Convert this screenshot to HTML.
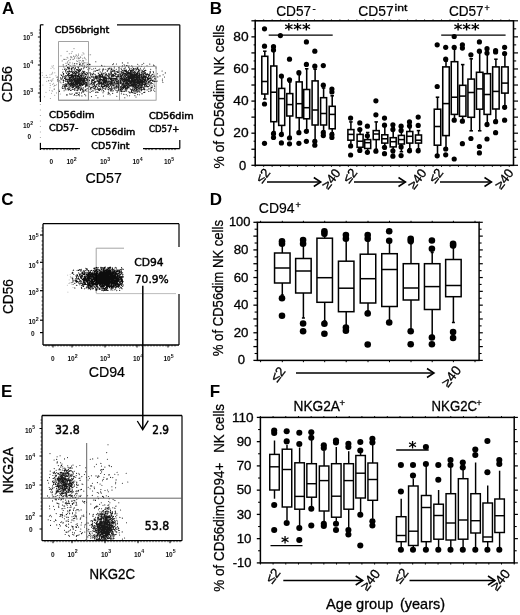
<!DOCTYPE html>
<html><head><meta charset="utf-8"><title>Figure</title>
<style>html,body{margin:0;padding:0;background:#fff}svg{display:block;font-family:'Liberation Sans', 'DejaVu Sans', sans-serif}</style>
</head><body>
<svg width="520" height="615" viewBox="0 0 520 615">
<defs><filter id="soft" x="0" y="0" width="520" height="615" filterUnits="userSpaceOnUse"><feGaussianBlur stdDeviation="0.35"/></filter></defs>
<rect width="520" height="615" fill="#fff"/>
<g filter="url(#soft)">
<text x="2.1" y="13.5" font-size="17" font-weight="bold" text-anchor="start" fill="#000">A</text>
<text x="209.8" y="13.5" font-size="17" font-weight="bold" text-anchor="start" fill="#000">B</text>
<text x="1.3" y="205.3" font-size="17" font-weight="bold" text-anchor="start" fill="#000">C</text>
<text x="209.8" y="205" font-size="17" font-weight="bold" text-anchor="start" fill="#000">D</text>
<text x="0.9" y="396.6" font-size="17" font-weight="bold" text-anchor="start" fill="#000">E</text>
<text x="209.8" y="396.6" font-size="17" font-weight="bold" text-anchor="start" fill="#000">F</text>
<line x1="40.4" y1="24.8" x2="40.4" y2="102" stroke="#000" stroke-width="1.2" />
<line x1="40.4" y1="24.8" x2="43.5" y2="24.8" stroke="#000" stroke-width="1.2" />
<line x1="40.4" y1="104" x2="40.4" y2="148.6" stroke="#aaa" stroke-width="1.0" stroke-dasharray="1 4.5"/>
<line x1="117" y1="24.8" x2="179.8" y2="24.8" stroke="#000" stroke-width="1.2" />
<line x1="179.8" y1="24.8" x2="179.8" y2="101" stroke="#000" stroke-width="1.2" />
<line x1="179.8" y1="140" x2="179.8" y2="148.6" stroke="#000" stroke-width="1.2" />
<line x1="40.4" y1="148.6" x2="80" y2="148.6" stroke="#000" stroke-width="1.2" />
<line x1="143" y1="148.6" x2="179.8" y2="148.6" stroke="#000" stroke-width="1.2" />
<line x1="40.4" y1="143" x2="40.4" y2="150.1" stroke="#000" stroke-width="1.2" />
<line x1="44" y1="148.6" x2="44" y2="150.1" stroke="#000" stroke-width="0.8" />
<line x1="47" y1="148.6" x2="47" y2="150.1" stroke="#000" stroke-width="0.8" />
<line x1="50" y1="148.6" x2="50" y2="150.1" stroke="#000" stroke-width="0.8" />
<line x1="53" y1="148.6" x2="53" y2="150.1" stroke="#000" stroke-width="0.8" />
<line x1="57" y1="148.6" x2="57" y2="150.1" stroke="#000" stroke-width="0.8" />
<line x1="61" y1="148.6" x2="61" y2="150.1" stroke="#000" stroke-width="0.8" />
<line x1="64" y1="148.6" x2="64" y2="150.1" stroke="#000" stroke-width="0.8" />
<line x1="67" y1="148.6" x2="67" y2="150.1" stroke="#000" stroke-width="0.8" />
<line x1="70" y1="148.6" x2="70" y2="150.1" stroke="#000" stroke-width="0.8" />
<line x1="73" y1="148.6" x2="73" y2="150.1" stroke="#000" stroke-width="0.8" />
<line x1="76" y1="148.6" x2="76" y2="150.1" stroke="#000" stroke-width="0.8" />
<line x1="146" y1="148.6" x2="146" y2="150.1" stroke="#000" stroke-width="0.8" />
<line x1="149" y1="148.6" x2="149" y2="150.1" stroke="#000" stroke-width="0.8" />
<line x1="152" y1="148.6" x2="152" y2="150.1" stroke="#000" stroke-width="0.8" />
<line x1="156" y1="148.6" x2="156" y2="150.1" stroke="#000" stroke-width="0.8" />
<line x1="160" y1="148.6" x2="160" y2="150.1" stroke="#000" stroke-width="0.8" />
<line x1="163" y1="148.6" x2="163" y2="150.1" stroke="#000" stroke-width="0.8" />
<line x1="166" y1="148.6" x2="166" y2="150.1" stroke="#000" stroke-width="0.8" />
<line x1="169" y1="148.6" x2="169" y2="150.1" stroke="#000" stroke-width="0.8" />
<line x1="172" y1="148.6" x2="172" y2="150.1" stroke="#000" stroke-width="0.8" />
<line x1="175" y1="148.6" x2="175" y2="150.1" stroke="#000" stroke-width="0.8" />
<line x1="37.9" y1="37" x2="40.4" y2="37" stroke="#000" stroke-width="1" />
<line x1="37.9" y1="65" x2="40.4" y2="65" stroke="#000" stroke-width="1" />
<line x1="37.9" y1="93" x2="40.4" y2="93" stroke="#000" stroke-width="1" />
<line x1="38.9" y1="30" x2="40.4" y2="30" stroke="#000" stroke-width="0.7" />
<line x1="38.9" y1="33" x2="40.4" y2="33" stroke="#000" stroke-width="0.7" />
<line x1="38.9" y1="42" x2="40.4" y2="42" stroke="#000" stroke-width="0.7" />
<line x1="38.9" y1="46" x2="40.4" y2="46" stroke="#000" stroke-width="0.7" />
<line x1="38.9" y1="50" x2="40.4" y2="50" stroke="#000" stroke-width="0.7" />
<line x1="38.9" y1="54" x2="40.4" y2="54" stroke="#000" stroke-width="0.7" />
<line x1="38.9" y1="58" x2="40.4" y2="58" stroke="#000" stroke-width="0.7" />
<line x1="38.9" y1="61" x2="40.4" y2="61" stroke="#000" stroke-width="0.7" />
<line x1="38.9" y1="70" x2="40.4" y2="70" stroke="#000" stroke-width="0.7" />
<line x1="38.9" y1="74" x2="40.4" y2="74" stroke="#000" stroke-width="0.7" />
<line x1="38.9" y1="78" x2="40.4" y2="78" stroke="#000" stroke-width="0.7" />
<line x1="38.9" y1="82" x2="40.4" y2="82" stroke="#000" stroke-width="0.7" />
<line x1="38.9" y1="86" x2="40.4" y2="86" stroke="#000" stroke-width="0.7" />
<line x1="38.9" y1="89" x2="40.4" y2="89" stroke="#000" stroke-width="0.7" />
<line x1="38.9" y1="97" x2="40.4" y2="97" stroke="#000" stroke-width="0.7" />
<text x="23" y="39.5" font-size="6.5" font-weight="bold" fill="#111">10<tspan font-size="5.2" dy="-3.3">5</tspan></text>
<text x="23" y="67.5" font-size="6.5" font-weight="bold" fill="#111">10<tspan font-size="5.2" dy="-3.3">4</tspan></text>
<text x="23" y="95" font-size="6.5" font-weight="bold" fill="#111">10<tspan font-size="5.2" dy="-3.3">3</tspan></text>
<text x="23" y="128" font-size="6.5" font-weight="bold" fill="#111">10<tspan font-size="5.2" dy="-3.3">2</tspan></text>
<text x="27.5" y="139" font-size="6.5" font-weight="bold" text-anchor="start" fill="#111">0</text>
<text x="49.5" y="163.8" font-size="6.5" font-weight="bold" text-anchor="start" fill="#111">0</text>
<text x="66.5" y="163.8" font-size="6.5" font-weight="bold" fill="#111">10<tspan font-size="5.2" dy="-3.3">2</tspan></text>
<text x="100" y="163.8" font-size="6.5" font-weight="bold" fill="#111">10<tspan font-size="5.2" dy="-3.3">3</tspan></text>
<text x="132.5" y="163.8" font-size="6.5" font-weight="bold" fill="#111">10<tspan font-size="5.2" dy="-3.3">4</tspan></text>
<text x="164" y="163.8" font-size="6.5" font-weight="bold" fill="#111">10<tspan font-size="5.2" dy="-3.3">5</tspan></text>
<path d="M73.8 83.1h0M74.0 78.1h0M69.5 78.7h0M82.7 82.5h0M82.2 81.5h0M78.1 81.1h0M64.7 85.1h0M78.8 83.0h0M64.5 69.5h0M69.7 77.2h0M77.5 79.7h0M78.9 76.1h0M77.5 82.4h0M71.2 90.3h0M79.1 87.2h0M71.5 75.6h0M73.3 79.4h0M79.6 81.5h0M72.6 74.3h0M72.1 87.3h0M70.2 81.5h0M78.3 71.1h0M75.8 87.8h0M62.4 78.1h0M74.8 75.1h0M78.7 79.6h0M66.0 85.0h0M79.9 85.7h0M84.9 82.2h0M76.3 72.2h0M79.5 76.3h0M72.6 72.4h0M69.2 76.8h0M83.9 67.8h0M66.0 81.4h0M84.9 83.5h0M63.2 64.9h0M77.8 75.6h0M68.2 85.9h0M82.7 80.9h0M77.1 82.6h0M85.9 83.7h0M78.9 83.3h0M65.3 87.7h0M81.7 83.2h0M62.7 76.2h0M81.0 69.1h0M74.3 86.1h0M67.0 89.7h0M79.1 79.1h0M77.6 83.9h0M76.3 86.9h0M71.2 77.5h0M82.3 80.2h0M69.8 85.7h0M85.0 77.3h0M66.5 79.2h0M74.5 78.2h0M84.6 73.8h0M83.7 72.4h0M70.4 83.8h0M82.8 85.2h0M77.7 80.9h0M76.5 83.5h0M74.4 81.7h0M79.2 80.0h0M80.5 83.4h0M88.6 81.9h0M72.7 77.8h0M75.4 85.5h0M73.3 82.3h0M87.4 64.6h0M68.2 81.5h0M78.1 81.4h0M72.7 83.9h0M77.3 76.9h0M91.3 82.1h0M71.9 79.4h0M74.0 79.6h0M57.8 77.1h0M82.1 73.0h0M75.1 85.7h0M81.1 88.9h0M64.4 77.9h0M73.3 83.7h0M82.6 63.9h0M82.6 71.3h0M79.9 71.0h0M76.6 87.2h0M74.5 81.1h0M80.7 80.8h0M74.9 89.2h0M82.3 78.2h0M93.3 73.1h0M81.4 78.4h0M76.4 84.2h0M76.9 83.8h0M65.6 70.9h0M79.5 74.2h0M68.8 71.2h0M83.7 84.5h0M85.1 74.4h0M75.5 73.2h0M80.5 89.5h0M69.7 89.4h0M81.9 78.9h0M62.7 88.4h0M74.9 76.4h0M78.1 82.5h0M85.2 73.9h0M82.9 88.9h0M84.9 78.9h0M70.7 86.1h0M76.2 80.7h0M84.8 78.4h0M60.6 77.7h0M63.4 84.9h0M77.6 76.3h0M75.4 85.0h0M76.0 88.0h0M75.1 86.2h0M85.2 89.7h0M71.1 85.3h0M63.3 73.5h0M62.7 86.4h0M67.5 79.9h0M74.3 79.8h0M71.7 81.4h0M87.1 80.3h0M79.0 86.0h0M74.2 72.4h0M71.9 86.4h0M64.8 76.4h0M82.0 84.8h0M75.5 84.8h0M76.6 72.9h0M65.3 76.2h0M81.5 76.6h0M69.6 75.4h0M65.5 79.3h0M67.8 82.2h0M60.2 82.0h0M71.3 68.3h0M80.2 78.3h0M61.0 74.7h0M77.4 77.2h0M80.6 84.5h0M79.8 82.0h0M84.2 84.0h0M78.4 67.5h0M81.3 87.9h0M73.6 77.2h0M88.1 69.5h0M78.5 94.5h0M69.5 84.1h0M87.8 79.3h0M79.1 85.4h0M69.6 79.5h0M77.4 85.0h0M75.3 78.8h0M68.9 77.8h0M81.3 80.6h0M70.0 75.0h0M92.8 86.8h0M79.6 64.4h0M79.5 82.9h0M86.4 82.6h0M75.1 83.1h0M62.9 86.2h0M77.6 75.8h0M84.1 90.9h0M66.4 76.0h0M77.4 81.1h0M72.9 74.2h0M89.3 86.2h0M67.7 71.9h0M86.6 85.9h0M87.3 84.9h0M69.8 81.6h0M61.5 75.5h0M75.1 83.1h0M70.8 79.3h0M78.5 82.3h0M79.6 81.3h0M73.4 84.7h0M75.8 75.0h0M71.4 80.0h0M74.8 80.9h0M75.5 81.1h0M74.6 72.4h0M78.2 86.3h0M78.3 78.9h0M78.4 74.2h0M63.2 80.4h0M69.5 84.4h0M68.5 64.2h0M68.7 89.5h0M73.0 71.8h0M70.5 83.1h0M78.7 81.1h0M85.1 84.2h0M75.4 83.6h0M86.3 85.8h0M82.2 73.5h0M74.5 84.4h0M73.6 86.4h0M79.4 85.4h0M74.1 95.3h0M83.6 78.7h0M76.1 95.6h0M73.3 85.2h0M81.9 80.0h0M67.9 81.1h0M77.8 86.8h0M80.6 80.1h0M81.0 83.2h0M76.8 80.3h0M73.9 84.1h0M68.6 76.2h0M75.5 71.2h0M72.7 67.9h0M71.1 83.4h0M79.2 79.7h0M74.0 71.5h0M87.4 83.1h0M82.6 74.7h0M74.3 69.1h0M80.6 85.6h0M63.2 79.7h0M79.6 69.4h0M63.6 73.6h0M71.4 71.6h0M75.7 81.5h0M79.6 84.2h0M85.3 87.0h0M67.0 77.0h0M68.6 73.5h0M75.0 80.0h0M78.7 70.5h0M67.5 79.9h0M74.2 78.1h0M75.1 75.4h0M80.1 82.1h0M74.9 76.0h0M74.4 63.7h0M69.1 80.2h0M65.7 81.2h0M76.5 71.7h0M73.9 78.1h0M78.5 83.7h0M75.3 74.9h0M74.6 79.6h0M80.3 81.8h0M70.8 71.9h0M73.1 75.6h0M68.3 79.3h0M72.3 80.6h0M78.9 77.5h0M90.6 78.1h0M82.7 80.7h0M82.8 65.7h0M70.6 81.5h0M79.4 94.0h0M77.6 87.7h0M80.5 85.7h0M78.8 79.1h0M78.8 73.5h0M83.2 73.9h0M77.1 92.7h0M74.0 80.1h0M83.1 80.2h0M70.3 81.5h0M79.3 84.3h0M70.5 90.5h0M86.3 80.1h0M77.2 77.4h0M84.7 75.8h0M79.9 77.1h0M71.0 84.3h0M84.2 79.9h0M71.1 84.9h0M75.2 81.9h0M85.4 86.8h0M72.1 93.7h0M75.5 84.7h0M71.3 79.7h0M64.1 90.7h0M84.4 72.7h0M65.7 70.3h0M83.1 77.2h0M75.1 78.1h0M74.7 73.5h0M75.7 71.4h0M75.0 81.9h0M78.5 78.6h0M69.6 81.0h0M72.3 89.4h0M80.5 79.3h0M72.4 75.8h0M69.4 77.9h0M77.4 83.1h0M79.2 92.6h0M70.9 80.1h0M93.7 68.8h0M72.1 81.0h0M76.5 82.4h0M73.9 82.2h0M75.8 84.6h0M63.2 74.7h0M75.5 73.8h0M68.7 83.8h0M71.3 83.8h0M80.3 81.8h0M78.8 79.4h0M66.3 79.8h0M78.5 76.8h0M74.9 84.5h0M69.8 83.8h0M87.6 76.7h0M76.5 79.1h0M85.5 81.9h0M81.3 75.9h0M75.4 79.9h0M64.0 88.6h0M81.3 69.5h0M80.3 79.2h0M78.4 82.2h0M65.8 78.7h0M85.2 76.6h0M68.9 71.8h0M67.6 82.0h0M86.5 82.6h0M77.1 93.4h0M72.1 76.0h0M78.9 83.3h0M68.9 73.0h0M77.4 81.5h0M67.0 78.8h0M72.0 82.8h0M74.7 79.5h0M73.2 86.3h0M84.5 77.8h0M81.0 75.5h0M76.0 84.5h0M85.3 77.7h0M75.0 81.2h0M65.8 80.1h0M71.1 82.2h0M68.2 68.1h0M75.7 81.6h0M71.9 85.3h0M73.7 76.4h0M78.6 70.6h0M71.1 79.9h0M81.0 79.0h0M77.5 76.1h0M77.5 90.0h0M71.0 94.2h0M71.3 80.1h0M76.6 86.1h0M67.5 67.4h0M79.4 84.8h0M79.6 95.8h0M76.8 81.5h0M81.5 82.2h0M86.3 72.6h0M73.1 59.3h0M80.8 77.8h0M81.5 92.9h0M75.5 78.5h0M72.3 75.0h0M71.4 83.8h0M75.7 80.4h0M74.4 85.5h0M78.7 79.1h0M79.8 79.1h0M68.0 88.7h0M78.5 74.3h0M82.5 82.1h0M65.3 89.7h0M77.7 85.3h0M76.8 79.1h0M65.4 85.8h0M75.7 78.3h0M77.8 80.5h0M79.9 77.8h0M75.3 67.2h0M72.7 84.1h0M84.2 77.8h0M74.7 89.5h0M73.4 84.4h0M86.4 80.2h0M83.5 75.7h0M76.8 79.5h0M76.2 86.8h0M91.0 76.0h0M71.8 83.0h0M68.6 83.0h0M79.2 78.3h0M79.0 70.7h0M80.4 70.7h0M71.0 76.7h0M72.9 85.2h0M76.0 77.6h0M79.0 89.5h0M75.5 82.2h0M83.6 81.6h0M67.2 94.9h0M89.9 68.1h0M75.2 82.5h0M81.8 84.0h0M73.7 73.7h0M76.2 86.2h0M68.4 73.8h0M75.3 68.4h0M73.8 77.4h0M78.4 75.8h0M69.8 77.6h0M75.2 76.0h0M75.6 84.5h0M83.2 90.2h0M70.4 77.5h0M59.4 91.4h0M70.8 79.8h0M78.9 71.8h0M78.5 79.8h0M63.6 81.8h0M83.3 68.8h0M80.7 81.3h0M78.6 82.6h0M84.0 78.7h0M81.2 77.5h0M80.2 75.1h0M74.8 90.4h0M78.4 79.1h0M68.1 75.3h0M76.8 85.6h0M78.3 83.1h0M75.2 88.1h0M73.0 76.7h0M81.3 80.4h0M73.7 76.5h0M73.8 83.7h0M77.8 72.7h0M78.3 81.1h0M69.0 84.6h0M73.7 78.0h0M80.7 87.9h0M71.0 82.6h0M69.8 93.9h0M72.3 87.2h0M71.3 84.9h0M89.9 64.8h0M72.7 83.0h0M74.9 76.0h0M89.5 80.5h0M64.8 85.1h0M64.3 86.9h0M71.7 80.9h0M83.7 80.7h0M66.5 69.8h0M83.2 84.4h0M70.2 85.2h0M78.7 83.9h0M60.8 78.2h0M81.4 84.4h0M81.2 65.3h0M76.6 83.0h0M92.1 74.3h0M73.4 80.2h0M81.3 77.3h0M83.0 75.3h0M77.2 76.8h0M76.5 75.9h0M65.1 86.6h0M77.5 76.6h0M76.8 85.9h0M69.1 79.3h0M79.0 83.2h0M73.3 67.4h0M83.6 82.0h0M75.6 78.3h0M77.2 77.4h0M68.8 75.6h0M71.6 76.3h0M68.0 83.8h0M67.0 84.0h0M68.9 82.1h0M84.4 81.2h0M70.7 80.3h0M76.5 69.6h0M71.6 81.0h0M72.5 80.5h0M80.3 84.6h0M81.4 83.5h0M73.6 79.9h0M73.7 78.1h0M74.3 69.7h0M73.3 79.9h0M69.2 79.9h0M78.9 79.0h0M89.0 64.4h0M74.2 69.0h0M81.9 95.9h0M59.2 80.8h0M78.9 78.2h0M79.1 66.5h0M81.0 82.2h0M75.6 76.5h0M79.6 77.1h0M77.0 76.9h0M60.9 79.8h0M76.8 84.5h0M69.8 79.8h0M79.5 80.9h0M83.6 91.9h0M69.6 68.5h0M81.1 89.2h0M81.5 84.9h0M71.5 75.7h0M81.3 74.5h0M63.7 74.0h0M91.7 91.5h0M71.0 75.6h0M77.0 75.5h0M84.0 79.5h0M68.4 87.9h0M71.7 81.3h0M75.4 78.1h0M77.6 75.8h0M63.5 66.8h0M67.3 75.4h0M75.4 80.3h0M79.1 80.7h0M70.3 75.7h0M61.7 79.0h0M78.7 83.2h0M74.7 79.0h0M81.6 80.1h0M80.3 83.5h0M76.9 87.8h0M71.8 77.8h0M70.2 75.2h0M85.6 90.6h0M75.6 83.4h0M83.1 84.8h0M83.3 72.4h0M71.3 82.7h0M84.8 80.6h0M69.9 77.9h0M71.2 74.9h0M85.3 76.2h0M75.6 93.0h0M83.2 82.0h0M71.5 82.5h0M86.0 83.7h0M83.7 80.6h0M78.9 78.8h0M78.3 87.8h0M66.2 79.6h0M77.1 76.6h0M73.5 84.7h0M88.5 83.8h0M77.6 70.7h0M88.0 80.5h0M75.3 73.3h0M75.1 73.4h0M76.0 82.8h0M75.7 81.7h0M70.0 88.6h0M71.3 69.1h0M74.3 75.4h0M68.9 77.9h0M77.4 72.9h0M74.6 88.6h0M79.9 79.1h0M76.3 79.3h0M75.2 84.4h0M74.9 65.6h0M75.4 74.7h0M79.7 76.3h0M76.5 93.1h0M68.7 73.3h0M66.3 65.6h0M63.3 82.2h0M71.4 68.8h0M65.9 83.7h0M70.5 77.8h0M77.6 88.1h0M88.1 86.2h0M76.4 81.1h0M87.2 88.6h0M73.5 82.7h0M77.4 80.3h0M72.2 72.0h0M72.0 70.7h0M83.5 83.2h0M67.7 88.4h0M81.3 68.5h0M87.5 84.9h0M88.9 72.6h0M78.9 82.5h0M76.8 81.0h0M82.3 71.0h0M67.4 71.6h0M71.9 76.4h0M77.9 81.6h0M75.7 75.9h0M72.6 85.7h0M80.5 80.6h0M73.4 89.3h0M71.6 83.9h0M83.0 78.4h0M80.9 73.3h0M82.1 81.2h0M65.2 84.0h0M69.7 87.7h0M71.1 79.0h0M77.3 78.0h0M77.2 76.7h0M79.9 80.0h0M76.9 63.5h0M83.0 80.2h0M63.9 80.6h0M78.5 86.4h0M68.5 89.3h0M74.5 94.4h0M74.5 84.1h0M73.1 73.3h0M82.6 85.4h0M85.5 85.1h0M71.8 70.0h0M71.3 75.9h0M70.2 83.5h0M77.6 78.4h0M76.6 79.1h0M76.9 84.5h0M81.7 75.9h0M65.7 88.6h0M76.2 86.6h0M64.8 78.0h0M75.7 71.4h0M72.1 84.3h0M82.5 89.6h0M69.9 71.6h0M78.9 85.6h0M76.8 72.2h0M80.6 84.8h0M79.1 77.1h0M77.5 84.7h0M71.9 68.9h0M77.6 82.9h0M75.6 85.3h0M71.7 79.5h0M73.5 83.4h0M85.9 78.5h0M88.9 89.2h0M80.6 83.5h0M87.0 78.9h0M74.8 73.6h0M78.6 88.1h0M79.0 82.5h0M74.2 81.0h0M66.2 86.3h0M72.8 73.4h0M70.6 75.1h0M81.1 86.3h0M66.7 85.6h0M81.3 76.5h0M65.8 75.5h0M71.4 82.1h0M73.2 67.8h0M77.0 70.8h0M81.4 72.8h0M71.0 74.9h0M72.0 87.8h0M81.0 83.6h0M77.6 70.7h0M72.1 76.7h0M69.1 83.1h0M70.7 75.7h0M68.7 67.7h0M79.4 88.0h0M76.6 74.1h0M57.9 81.0h0M83.4 81.8h0M81.5 88.9h0M82.8 77.4h0M82.3 84.7h0M65.5 77.6h0M66.2 79.3h0M79.3 73.6h0M62.1 87.8h0M77.9 88.8h0M66.9 86.4h0M89.0 92.0h0M74.1 81.6h0M74.5 86.0h0M82.2 80.5h0M66.7 84.4h0M72.4 83.8h0M77.2 89.7h0M82.9 77.3h0M77.8 90.6h0M72.0 82.6h0M83.2 87.5h0M78.9 72.1h0M67.3 81.5h0M78.0 95.3h0M69.9 86.8h0M80.5 70.0h0M70.2 81.0h0M72.3 79.1h0M78.6 75.1h0M78.5 76.2h0M72.0 83.2h0M71.8 81.7h0M85.9 80.2h0M74.6 84.4h0M73.1 86.5h0M67.2 83.7h0M72.2 75.2h0M87.0 74.9h0M86.9 83.9h0M84.9 74.1h0M83.3 88.7h0M74.7 79.2h0M91.5 81.1h0M72.8 76.2h0M78.4 82.0h0M76.7 90.3h0M73.4 82.8h0M85.0 74.0h0M82.3 91.0h0M66.7 73.4h0M68.8 68.9h0M78.4 68.9h0M78.7 88.7h0M65.0 78.1h0M63.0 84.7h0M70.7 78.4h0M75.9 83.3h0M73.2 80.1h0M71.9 80.7h0M67.9 80.4h0M62.9 77.1h0M87.9 80.5h0M67.3 81.5h0M69.2 70.1h0M70.7 84.4h0M78.0 79.4h0M69.5 73.5h0M84.3 81.5h0M69.3 67.3h0M66.6 94.9h0M68.0 79.5h0M76.9 79.1h0M73.7 71.8h0M68.7 90.1h0M70.6 85.1h0M64.5 78.4h0M77.2 86.2h0M68.2 83.6h0M78.0 75.6h0M78.6 74.6h0M70.3 79.9h0M57.9 79.3h0M69.0 71.2h0M72.7 84.6h0M72.9 87.6h0M68.0 72.1h0M85.6 82.4h0M81.6 75.0h0M80.7 81.6h0M79.7 80.2h0M83.3 76.1h0M69.2 71.1h0M83.0 75.6h0M68.7 74.4h0M72.6 72.4h0M73.6 76.2h0M71.9 74.2h0M75.7 77.2h0M76.2 81.5h0M77.7 66.9h0M72.0 75.2h0M80.5 70.5h0M70.9 78.2h0M73.3 85.9h0M72.6 85.8h0M66.0 69.1h0M83.4 82.6h0M78.7 80.7h0M78.6 72.7h0M81.7 76.8h0M81.9 80.5h0M62.7 72.3h0M82.8 79.2h0M72.9 81.5h0M72.7 76.7h0M105.0 81.4h0M118.4 80.8h0M121.9 91.3h0M120.3 86.9h0M105.2 81.3h0M102.6 76.1h0M103.4 76.7h0M119.6 83.7h0M99.8 69.0h0M103.5 78.0h0M93.7 73.7h0M82.6 83.9h0M103.4 96.0h0M103.7 79.6h0M117.7 81.3h0M105.6 78.3h0M98.2 89.5h0M113.5 90.8h0M100.7 80.7h0M95.6 86.3h0M90.8 83.9h0M114.4 89.0h0M95.1 87.0h0M97.2 76.0h0M91.4 87.4h0M119.7 76.9h0M96.8 78.5h0M127.8 86.5h0M98.8 69.7h0M97.6 87.6h0M121.7 78.9h0M97.4 77.4h0M86.1 85.9h0M93.7 86.9h0M87.8 72.9h0M106.7 75.9h0M111.4 80.5h0M92.8 84.2h0M112.0 69.0h0M121.3 83.5h0M111.2 69.3h0M97.2 78.4h0M114.2 71.7h0M95.6 68.3h0M101.7 82.6h0M88.0 77.0h0M108.8 90.0h0M110.3 78.7h0M92.8 74.9h0M97.7 81.4h0M103.5 90.5h0M106.7 74.1h0M118.7 86.2h0M105.0 76.2h0M86.2 74.4h0M112.7 75.7h0M91.5 81.7h0M106.3 84.1h0M110.2 89.0h0M96.0 86.4h0M94.6 84.7h0M105.7 82.0h0M113.2 80.4h0M114.6 85.8h0M105.3 77.1h0M96.8 77.3h0M102.1 80.4h0M132.3 84.3h0M111.3 75.3h0M97.3 78.6h0M105.8 74.3h0M119.3 77.1h0M114.2 66.5h0M103.9 82.2h0M105.8 84.1h0M106.7 81.5h0M86.0 76.2h0M81.7 84.3h0M106.9 79.3h0M96.2 77.0h0M121.5 90.9h0M103.4 88.2h0M88.9 68.9h0M99.4 75.3h0M98.7 81.6h0M132.7 76.5h0M104.5 82.2h0M103.7 86.1h0M120.9 73.0h0M105.5 78.9h0M107.4 71.3h0M87.3 66.6h0M109.0 81.7h0M104.7 66.3h0M100.5 76.0h0M90.6 75.0h0M110.6 83.8h0M103.8 83.6h0M98.3 80.9h0M104.4 83.8h0M103.3 79.6h0M102.7 76.6h0M125.2 83.6h0M108.1 94.2h0M117.3 71.2h0M110.6 85.5h0M121.9 88.4h0M111.3 73.4h0M95.7 82.1h0M108.8 74.4h0M100.3 78.1h0M104.6 82.5h0M101.3 73.1h0M115.8 90.1h0M103.0 86.6h0M108.2 84.5h0M108.6 75.9h0M109.5 86.6h0M95.5 92.3h0M123.9 91.4h0M122.9 85.0h0M100.8 76.9h0M96.3 81.2h0M103.7 84.5h0M84.8 94.4h0M125.6 80.3h0M110.4 83.4h0M106.6 79.2h0M102.8 75.6h0M105.7 80.4h0M107.0 75.4h0M104.4 80.8h0M109.7 74.1h0M108.0 86.4h0M109.7 78.3h0M99.3 79.1h0M110.9 89.8h0M102.5 76.6h0M107.6 81.7h0M95.4 76.1h0M103.0 84.5h0M92.7 74.4h0M108.7 73.2h0M105.0 82.6h0M102.9 74.4h0M103.4 78.5h0M107.2 75.5h0M114.4 70.4h0M102.3 80.5h0M113.1 76.8h0M109.2 77.1h0M111.0 90.9h0M100.2 83.2h0M95.2 86.3h0M115.5 80.7h0M93.2 82.9h0M114.9 87.0h0M111.7 69.5h0M97.5 89.0h0M92.4 87.3h0M121.9 85.1h0M114.6 78.5h0M92.4 79.9h0M102.1 80.2h0M110.6 79.6h0M105.8 83.0h0M103.9 91.6h0M108.2 81.0h0M102.0 76.7h0M116.8 81.4h0M93.8 77.1h0M102.7 77.8h0M114.3 73.5h0M108.7 81.4h0M92.8 80.8h0M103.1 83.5h0M99.7 82.3h0M88.2 74.0h0M111.5 86.7h0M103.9 76.9h0M114.3 67.9h0M96.4 84.5h0M110.2 74.3h0M86.1 89.2h0M105.5 75.1h0M104.5 85.9h0M79.4 87.2h0M111.0 68.0h0M111.3 69.8h0M114.8 82.9h0M125.4 76.8h0M104.0 86.8h0M97.9 76.3h0M100.5 80.1h0M93.7 83.4h0M109.2 80.9h0M120.2 78.5h0M116.4 77.2h0M111.2 68.9h0M105.9 79.4h0M99.3 76.8h0M100.7 76.2h0M83.2 76.9h0M98.8 77.4h0M94.0 79.7h0M111.5 79.0h0M99.3 88.6h0M113.3 86.0h0M115.0 78.5h0M102.8 87.2h0M98.7 79.8h0M107.6 82.7h0M101.4 86.4h0M102.3 84.9h0M114.2 84.5h0M111.0 73.5h0M91.5 76.8h0M108.5 89.5h0M92.4 82.3h0M95.9 76.1h0M101.4 84.7h0M106.0 87.6h0M94.6 85.8h0M112.8 80.9h0M108.5 77.1h0M93.6 78.1h0M97.9 97.8h0M99.4 90.4h0M105.9 82.4h0M111.1 75.8h0M112.7 82.8h0M89.6 84.1h0M109.2 83.2h0M119.1 78.0h0M108.9 85.0h0M95.4 87.7h0M90.2 72.7h0M109.0 74.0h0M102.9 70.6h0M104.7 73.7h0M107.2 71.3h0M108.3 78.9h0M104.6 80.1h0M105.2 72.6h0M79.6 80.7h0M95.1 77.8h0M108.1 68.6h0M96.7 76.8h0M94.0 82.5h0M102.7 75.6h0M94.6 85.3h0M97.7 84.0h0M108.3 69.1h0M93.7 80.5h0M107.2 85.2h0M111.6 86.7h0M100.4 79.2h0M111.4 77.9h0M114.0 71.0h0M110.2 79.5h0M85.3 86.4h0M107.0 80.6h0M93.8 77.7h0M118.4 75.5h0M71.0 75.4h0M92.6 79.7h0M100.3 75.0h0M96.0 86.8h0M90.3 92.2h0M98.8 73.9h0M111.5 83.9h0M94.1 85.0h0M86.5 75.0h0M114.7 79.0h0M91.6 83.6h0M112.7 80.4h0M86.8 78.4h0M108.0 85.1h0M121.6 79.0h0M99.4 80.3h0M115.5 74.9h0M116.4 64.0h0M111.6 76.4h0M108.4 84.6h0M92.8 80.0h0M106.3 84.0h0M95.2 74.6h0M85.7 95.7h0M102.2 79.2h0M89.8 86.1h0M98.9 89.1h0M112.1 80.6h0M110.9 73.8h0M100.9 77.0h0M91.9 80.6h0M102.6 89.1h0M72.1 76.5h0M95.3 77.7h0M108.0 82.9h0M104.3 77.7h0M108.7 82.7h0M86.5 78.9h0M90.9 73.4h0M105.4 80.9h0M105.1 75.2h0M102.1 75.0h0M107.6 84.6h0M120.7 88.1h0M96.3 77.8h0M95.1 82.3h0M122.8 84.8h0M83.1 73.0h0M91.7 83.6h0M104.0 82.3h0M120.9 75.5h0M95.9 92.3h0M107.3 75.8h0M84.7 71.4h0M80.8 80.9h0M104.4 86.5h0M102.7 76.3h0M97.0 91.9h0M87.2 81.5h0M104.2 84.2h0M100.2 83.5h0M111.7 79.6h0M99.7 79.4h0M94.8 79.3h0M101.1 81.8h0M116.7 88.3h0M99.8 84.1h0M106.8 85.1h0M104.2 82.1h0M99.5 75.8h0M112.3 88.3h0M110.3 83.1h0M106.5 77.8h0M87.1 84.5h0M105.9 77.2h0M94.8 88.2h0M86.9 91.1h0M110.1 94.7h0M97.2 80.4h0M99.2 81.4h0M102.0 76.0h0M114.2 75.8h0M99.2 83.8h0M98.9 77.9h0M107.4 78.3h0M92.2 79.9h0M101.9 90.7h0M93.6 86.3h0M96.5 78.4h0M100.9 82.1h0M112.2 91.0h0M98.0 88.5h0M113.5 85.4h0M96.8 85.9h0M103.0 82.6h0M101.4 84.5h0M114.6 87.3h0M102.1 86.5h0M117.8 74.9h0M118.0 72.5h0M109.2 84.1h0M118.1 82.2h0M99.4 75.7h0M92.1 85.1h0M101.7 76.2h0M109.1 75.9h0M99.8 77.7h0M119.7 89.3h0M102.5 71.1h0M106.6 80.9h0M107.3 83.9h0M101.0 86.1h0M112.0 81.8h0M100.1 77.6h0M110.6 73.9h0M102.5 76.0h0M90.8 84.1h0M103.8 80.7h0M112.3 71.5h0M103.4 82.2h0M111.9 74.0h0M110.8 81.8h0M116.9 87.3h0M109.2 93.4h0M104.0 78.0h0M100.8 74.9h0M103.7 69.2h0M103.2 83.1h0M113.4 78.4h0M117.2 76.6h0M102.7 69.2h0M96.8 75.8h0M117.9 83.6h0M93.8 83.6h0M108.5 79.1h0M104.2 78.7h0M99.0 70.1h0M103.2 88.0h0M117.3 78.9h0M97.1 79.3h0M112.3 82.6h0M98.6 82.6h0M102.1 83.5h0M100.2 71.9h0M104.5 85.0h0M93.7 79.9h0M112.1 78.3h0M98.0 92.4h0M111.7 86.5h0M95.2 90.0h0M88.7 77.5h0M110.8 88.3h0M95.4 76.6h0M105.8 69.2h0M109.9 83.8h0M99.9 83.6h0M111.2 82.3h0M108.8 89.3h0M99.6 81.4h0M99.2 86.5h0M100.2 83.3h0M105.3 80.9h0M119.8 80.0h0M117.0 85.3h0M116.1 79.5h0M112.5 84.9h0M98.4 82.1h0M102.8 80.3h0M116.0 76.3h0M88.6 70.4h0M99.8 76.8h0M104.1 83.8h0M120.1 82.3h0M108.2 76.2h0M109.3 88.4h0M116.3 69.2h0M112.2 89.7h0M111.6 71.9h0M101.2 83.9h0M107.8 75.8h0M95.9 86.1h0M91.8 88.8h0M104.2 82.2h0M91.8 77.1h0M110.3 72.0h0M122.9 72.4h0M92.8 80.7h0M108.4 84.7h0M100.6 79.3h0M101.8 77.2h0M80.4 86.0h0M106.3 81.4h0M98.3 81.9h0M103.9 80.1h0M114.1 70.6h0M106.3 74.4h0M101.1 89.1h0M94.1 79.9h0M98.6 86.0h0M95.1 70.8h0M108.7 78.5h0M101.1 86.7h0M95.9 78.3h0M105.3 82.9h0M99.3 86.5h0M124.4 78.1h0M121.1 68.3h0M116.8 78.5h0M105.3 78.5h0M98.2 73.1h0M100.4 88.0h0M114.4 78.5h0M99.2 76.5h0M93.1 90.9h0M110.1 81.2h0M99.5 74.6h0M116.0 85.0h0M95.3 86.2h0M93.9 84.2h0M95.2 78.1h0M108.5 83.0h0M113.2 75.7h0M118.4 88.2h0M103.9 83.2h0M96.9 79.6h0M92.0 81.0h0M105.8 88.2h0M112.6 85.2h0M100.7 79.2h0M100.9 81.8h0M86.4 84.9h0M89.7 77.5h0M104.2 77.5h0M119.2 79.9h0M118.3 87.3h0M99.5 82.8h0M115.8 78.6h0M104.8 77.3h0M104.5 78.5h0M104.8 86.3h0M116.7 81.3h0M105.8 85.4h0M101.4 74.4h0M114.1 75.1h0M112.5 74.9h0M120.7 74.5h0M111.7 89.1h0M95.2 89.1h0M96.5 70.3h0M110.6 84.5h0M102.2 66.0h0M103.5 78.7h0M100.5 78.8h0M87.7 77.2h0M120.4 89.4h0M100.7 76.4h0M107.6 86.6h0M110.6 73.8h0M105.5 81.3h0M117.1 87.4h0M108.8 87.5h0M100.4 89.4h0M100.1 82.8h0M112.4 75.2h0M97.6 70.4h0M105.5 80.2h0M101.0 83.4h0M84.7 80.4h0M104.8 79.0h0M111.2 90.6h0M99.9 75.1h0M98.5 81.0h0M109.3 75.5h0M113.1 74.6h0M111.5 83.0h0M108.2 92.9h0M101.6 79.5h0M108.3 85.5h0M91.8 82.1h0M97.2 84.1h0M116.5 80.8h0M103.0 81.6h0M77.0 84.9h0M109.1 81.4h0M100.4 76.3h0M102.4 87.5h0M103.1 88.3h0M80.5 77.9h0M106.5 80.4h0M88.9 76.7h0M115.4 73.1h0M95.0 74.2h0M99.0 84.2h0M109.4 68.8h0M117.3 77.1h0M98.6 90.1h0M103.3 73.4h0M98.2 76.3h0M94.8 78.6h0M112.0 82.5h0M91.4 96.6h0M95.0 81.2h0M104.3 84.9h0M101.0 83.1h0M123.2 81.1h0M94.1 82.4h0M96.7 78.4h0M105.7 82.4h0M101.4 85.4h0M102.2 73.0h0M112.0 78.4h0M115.1 76.7h0M109.2 82.3h0M79.4 71.9h0M93.8 88.6h0M86.8 85.8h0M114.0 83.4h0M110.1 77.6h0M103.9 81.8h0M107.8 84.6h0M102.1 76.5h0M98.9 82.9h0M88.9 73.3h0M100.2 77.3h0M101.5 65.2h0M100.9 79.1h0M111.1 69.1h0M101.2 83.2h0M108.5 87.4h0M113.6 74.5h0M109.8 78.6h0M96.7 89.3h0M98.3 75.6h0M100.3 75.6h0M113.2 82.7h0M116.8 82.9h0M128.4 85.8h0M128.0 77.4h0M132.5 80.2h0M144.9 76.6h0M137.2 79.8h0M122.5 73.9h0M132.0 82.3h0M136.9 82.7h0M134.4 77.5h0M137.9 74.4h0M121.7 78.1h0M120.9 77.1h0M127.2 76.9h0M133.6 75.5h0M130.1 70.4h0M135.3 75.1h0M137.7 64.2h0M126.7 81.4h0M111.6 78.0h0M134.9 80.6h0M120.3 81.3h0M135.4 74.6h0M140.8 79.7h0M134.2 77.5h0M139.0 80.5h0M144.4 82.5h0M128.3 78.7h0M142.4 78.0h0M137.5 82.9h0M132.4 67.0h0M135.2 81.2h0M135.2 75.7h0M145.1 79.2h0M128.3 76.0h0M137.3 73.9h0M124.8 91.2h0M146.0 85.9h0M146.5 83.3h0M118.5 86.7h0M145.4 82.8h0M116.0 87.0h0M146.6 77.2h0M135.2 84.4h0M133.2 86.2h0M134.7 83.9h0M134.8 71.7h0M124.8 97.8h0M136.6 87.4h0M144.5 89.6h0M139.1 76.7h0M134.2 69.2h0M132.3 85.1h0M114.1 81.1h0M141.6 87.5h0M125.5 76.3h0M116.7 74.3h0M138.9 91.6h0M123.4 87.8h0M137.9 77.2h0M154.2 65.8h0M133.4 81.2h0M153.7 90.1h0M154.9 80.8h0M143.1 87.7h0M138.7 82.0h0M132.3 77.7h0M122.7 91.0h0M129.9 68.3h0M136.4 79.8h0M135.6 90.2h0M133.0 78.5h0M127.1 79.9h0M129.9 81.2h0M162.9 82.2h0M126.1 90.9h0M142.0 84.6h0M140.6 84.6h0M140.2 88.0h0M143.3 87.6h0M129.4 80.0h0M127.3 85.4h0M141.7 77.4h0M139.4 94.8h0M145.4 73.7h0M133.1 83.6h0M133.7 82.2h0M144.9 81.9h0M123.8 84.0h0M133.1 80.6h0M128.8 72.2h0M122.5 78.0h0M124.1 64.7h0M144.6 73.4h0M127.3 83.0h0M111.7 87.6h0M126.9 83.7h0M129.5 81.7h0M135.0 80.0h0M117.1 71.7h0M133.6 88.0h0M129.0 83.0h0M135.5 82.7h0M143.2 71.5h0M136.5 79.0h0M131.1 75.2h0M126.7 74.2h0M123.8 94.2h0M149.7 80.1h0M140.9 74.5h0M108.3 69.7h0M135.3 88.1h0M133.6 74.3h0M131.8 74.4h0M121.1 78.7h0M130.3 75.4h0M125.8 74.7h0M136.2 87.9h0M132.1 92.6h0M119.0 81.6h0M123.3 79.1h0M134.9 83.2h0M144.5 76.9h0M122.5 78.9h0M136.7 76.1h0M142.3 89.5h0M120.8 82.0h0M143.4 69.1h0M135.9 78.7h0M120.8 87.4h0M136.0 77.3h0M138.1 83.6h0M141.1 83.3h0M137.8 73.3h0M130.1 80.7h0M108.4 92.0h0M130.5 74.0h0M117.2 81.4h0M134.3 76.7h0M130.1 75.0h0M127.1 79.4h0M128.0 83.8h0M132.7 80.7h0M137.8 87.2h0M139.6 81.3h0M132.5 75.4h0M130.8 83.9h0M136.1 77.8h0M121.7 71.3h0M137.0 85.8h0M137.5 72.2h0M132.0 81.3h0M125.5 82.0h0M132.1 75.3h0M122.5 84.6h0M137.3 75.0h0M124.6 85.0h0M139.5 78.3h0M148.7 78.4h0M124.2 86.2h0M132.3 82.0h0M134.4 74.3h0M123.0 78.9h0M147.0 74.3h0M146.6 81.2h0M123.7 81.5h0M139.2 74.9h0M114.3 82.0h0M123.7 82.5h0M116.3 79.2h0M126.5 71.6h0M131.8 81.0h0M128.9 73.3h0M136.0 70.1h0M138.9 82.8h0M149.5 85.0h0M137.3 81.5h0M134.3 72.5h0M147.5 83.0h0M131.4 73.5h0M147.7 83.0h0M123.1 83.8h0M151.5 79.9h0M137.7 77.7h0M128.2 86.0h0M162.4 80.7h0M132.9 84.5h0M131.2 84.1h0M141.6 74.3h0M124.1 79.6h0M141.7 81.6h0M145.4 72.2h0M138.5 76.5h0M134.9 81.8h0M125.1 78.7h0M123.3 81.5h0M126.2 77.2h0M136.0 76.3h0M144.6 76.4h0M141.8 81.6h0M124.5 78.8h0M126.3 78.0h0M131.5 90.2h0M130.1 88.8h0M138.1 72.7h0M112.7 83.8h0M115.7 84.0h0M143.5 82.2h0M132.1 78.6h0M136.4 78.3h0M129.1 77.9h0M144.8 76.5h0M137.5 73.5h0M127.4 72.3h0M132.2 83.8h0M136.8 77.2h0M139.6 78.1h0M137.4 81.5h0M139.0 66.1h0M122.0 84.3h0M133.0 92.6h0M131.8 76.9h0M147.7 83.1h0M151.5 82.9h0M132.1 84.1h0M126.8 77.5h0M128.9 78.8h0M141.2 77.3h0M137.0 77.2h0M142.1 64.5h0M132.1 80.9h0M124.1 85.7h0M136.0 87.2h0M142.8 83.6h0M132.6 73.9h0M132.0 77.4h0M136.3 77.4h0M162.1 71.0h0M144.8 77.4h0M131.8 85.2h0M134.0 73.2h0M137.8 78.9h0M115.1 81.1h0M124.3 75.8h0M138.4 81.7h0M131.3 92.2h0M137.8 76.6h0M136.2 79.3h0M113.8 71.2h0M121.2 91.6h0M132.3 78.5h0M128.8 85.5h0M134.3 89.6h0M141.2 89.2h0M132.9 82.1h0M130.0 79.1h0M118.1 76.7h0M125.3 76.4h0M145.1 81.5h0M145.2 84.8h0M142.4 85.6h0M128.5 84.5h0M131.0 77.0h0M144.9 92.1h0M125.0 89.7h0M141.6 75.3h0M136.5 82.1h0M137.4 78.0h0M122.2 80.2h0M141.9 84.4h0M140.1 86.2h0M124.9 79.8h0M137.1 85.6h0M135.4 82.9h0M135.2 91.7h0M114.0 79.9h0M156.7 81.3h0M117.2 80.7h0M120.9 76.2h0M136.1 89.6h0M138.2 83.7h0M143.3 81.1h0M126.2 79.5h0M137.1 78.5h0M127.9 78.0h0M120.3 74.3h0M133.2 78.0h0M134.3 87.8h0M136.7 79.8h0M123.3 74.0h0M137.4 75.1h0M137.9 74.0h0M135.2 79.6h0M143.1 77.8h0M130.6 81.4h0M134.5 89.4h0M131.6 77.0h0M131.1 82.6h0M136.1 83.9h0M121.4 93.8h0M150.8 79.8h0M122.9 80.9h0M137.8 67.5h0M134.1 71.8h0M138.2 87.7h0M143.4 71.6h0M146.6 85.1h0M130.7 82.8h0M147.9 78.1h0M133.9 76.9h0M144.6 68.0h0M147.0 74.6h0M142.5 70.9h0M125.4 76.7h0M141.6 71.0h0M139.5 76.5h0M145.4 78.3h0M138.4 79.0h0M150.4 78.0h0M133.8 91.1h0M134.7 83.8h0M127.3 81.1h0M113.3 80.6h0M128.1 71.6h0M121.1 86.4h0M137.9 71.5h0M150.6 76.1h0M130.6 81.4h0M123.6 71.0h0M127.2 86.6h0M142.7 71.2h0M145.0 80.2h0M138.6 80.3h0M137.8 74.4h0M125.7 76.1h0M130.6 83.5h0M122.9 88.9h0M128.2 76.7h0M140.4 82.4h0M130.9 74.0h0M124.9 71.1h0M144.5 86.0h0M151.1 82.8h0M137.0 84.2h0M142.7 78.6h0M137.2 92.0h0M118.5 72.2h0M125.2 84.2h0M144.9 78.1h0M140.1 79.7h0M136.7 77.0h0M133.8 80.0h0M144.3 92.5h0M117.4 83.0h0M134.0 85.4h0M143.7 84.4h0M141.4 74.7h0M118.4 89.3h0M145.1 74.7h0M145.8 83.7h0M111.6 85.0h0M125.0 86.5h0M127.8 75.8h0M119.9 78.8h0M143.3 76.2h0M117.0 92.0h0M150.9 83.9h0M129.1 73.2h0M119.0 83.1h0M145.9 74.1h0M134.0 78.4h0M131.7 82.8h0M153.2 76.4h0M141.8 86.1h0M131.4 79.2h0M121.7 86.0h0M129.1 76.3h0M134.6 75.2h0M124.5 78.3h0M147.6 78.9h0M138.8 71.8h0M116.2 90.2h0M130.4 71.4h0M133.0 83.4h0M118.2 75.1h0M136.4 74.8h0M141.3 85.4h0M138.1 77.6h0M133.6 76.5h0M132.8 81.8h0M131.2 85.4h0M157.8 76.9h0M137.1 84.6h0M139.9 78.7h0M129.6 85.6h0M139.7 82.8h0M126.6 83.5h0M141.3 79.0h0M139.9 92.2h0M116.8 83.4h0M123.3 72.4h0M131.8 83.1h0M134.5 73.5h0M120.8 76.9h0M134.1 75.3h0M120.2 89.8h0M126.3 79.1h0M129.0 76.7h0M134.4 78.3h0M139.7 73.4h0M120.3 90.9h0M133.3 84.3h0M144.8 83.1h0M134.3 71.3h0M119.3 85.5h0M140.2 83.2h0M118.7 68.0h0M124.3 73.4h0M135.5 74.3h0M148.6 76.5h0M128.8 84.9h0M137.0 74.9h0M141.6 90.8h0M122.7 78.6h0M124.1 69.1h0M139.8 83.9h0M143.0 82.4h0M115.4 79.8h0M127.8 73.4h0M123.8 84.3h0M131.3 91.1h0M138.3 69.2h0M142.2 87.0h0M134.3 73.2h0M150.3 72.6h0M133.2 69.3h0M122.4 70.4h0M144.1 86.6h0M130.3 72.3h0M133.4 82.1h0M119.9 73.5h0M133.1 84.0h0M134.7 82.5h0M122.4 65.9h0M136.9 74.8h0M132.9 77.9h0M138.5 75.6h0M147.4 80.2h0M138.9 83.6h0M143.6 82.3h0M117.8 76.4h0M151.3 82.7h0M139.2 82.6h0M128.0 76.2h0M128.0 86.6h0M137.4 90.1h0M138.6 90.7h0M138.3 73.3h0M150.2 81.9h0M145.1 81.2h0M131.0 81.0h0M123.6 73.2h0M125.7 77.0h0M121.4 79.4h0M136.8 91.5h0M151.1 79.7h0M142.2 78.8h0M137.6 79.8h0M129.0 80.4h0M120.2 82.5h0M131.3 73.8h0M130.6 83.2h0M127.7 82.7h0M139.3 88.9h0M123.8 79.4h0M138.8 88.6h0M136.5 84.3h0M120.3 76.7h0M149.5 78.4h0M154.2 75.8h0M131.4 70.9h0M140.0 81.5h0M152.9 80.9h0M131.7 71.9h0M133.2 85.4h0M140.9 87.0h0M142.1 79.7h0M139.7 81.0h0M121.5 89.8h0M137.5 74.0h0M137.6 81.6h0M143.4 88.3h0M105.5 83.2h0M148.4 74.6h0M116.5 81.6h0M137.2 82.0h0M123.6 77.3h0M135.8 84.3h0M154.6 81.7h0M128.3 66.5h0M144.1 79.2h0M133.0 74.3h0M140.9 69.7h0M135.0 80.7h0M136.8 87.5h0M133.1 80.5h0M142.1 71.1h0M131.2 80.4h0M143.0 75.4h0M141.6 82.2h0M120.0 71.5h0M120.5 80.8h0M135.9 84.2h0M141.7 76.8h0M144.1 84.7h0M138.5 82.8h0M121.9 82.1h0M124.3 73.1h0M130.7 80.8h0M133.5 78.1h0M124.6 81.1h0M127.0 71.9h0M134.9 88.4h0M130.2 73.9h0M147.1 89.9h0M131.2 78.8h0M136.0 97.0h0M135.3 85.7h0M138.2 69.5h0M123.6 72.9h0M138.1 80.6h0M150.9 78.4h0M136.9 80.4h0M135.3 93.4h0M136.7 88.5h0M146.3 76.5h0M140.5 77.8h0M135.0 80.9h0M134.2 77.3h0M148.7 78.5h0M140.7 89.7h0M139.9 85.9h0M147.1 86.3h0M150.3 71.7h0M152.5 80.2h0M117.4 76.3h0M120.8 79.9h0M119.9 74.2h0M136.8 80.9h0M126.4 78.6h0M133.1 80.4h0M133.9 78.7h0M142.3 70.7h0M129.3 80.8h0M130.2 76.8h0M129.9 81.2h0M145.8 78.9h0M131.5 82.1h0M131.7 68.8h0M136.5 77.8h0M128.6 83.6h0M134.4 76.7h0M113.3 70.0h0M134.1 79.3h0M138.2 81.3h0M129.5 72.7h0M123.6 79.2h0M123.1 84.4h0M121.4 69.6h0M132.2 69.7h0M149.5 74.2h0M133.5 78.6h0M126.2 69.8h0M116.3 85.0h0M143.7 92.5h0M120.1 83.3h0M133.9 84.9h0M129.1 84.2h0M142.5 83.5h0M147.7 79.0h0M148.7 75.9h0M149.8 64.1h0M134.1 75.4h0M134.0 86.0h0M140.8 80.6h0M150.2 71.4h0M126.3 88.8h0M137.1 68.0h0M137.2 73.1h0M148.0 86.6h0M128.8 87.5h0M126.1 85.3h0M139.5 79.3h0M120.5 78.4h0M112.2 76.7h0M116.4 87.0h0M124.8 65.9h0M139.6 82.1h0M129.2 92.3h0M141.3 80.4h0M127.9 62.9h0M138.6 85.6h0M128.4 71.8h0M133.6 70.3h0M134.1 84.5h0M148.3 81.5h0M135.9 84.3h0M147.3 78.1h0M122.3 75.4h0M122.0 74.8h0M132.9 82.0h0M135.5 80.4h0M130.6 82.5h0M142.4 84.4h0M148.2 78.3h0M131.6 89.8h0M135.9 82.4h0M130.8 85.6h0M130.2 74.2h0M133.4 77.4h0M141.9 77.8h0M135.2 78.7h0M137.2 76.3h0M144.5 71.7h0M130.3 75.9h0M140.2 80.2h0M138.6 78.1h0M127.2 73.5h0M130.8 76.9h0M136.7 82.1h0M143.3 79.4h0M126.9 73.8h0M134.6 82.1h0M152.5 81.1h0M150.7 90.9h0M124.0 87.0h0M144.8 87.8h0M133.9 85.5h0M129.4 79.6h0M134.2 90.3h0M132.0 85.5h0M134.6 75.9h0M136.3 83.8h0M127.2 83.7h0M127.2 74.9h0M136.1 78.6h0M124.7 70.5h0M134.2 81.4h0M129.6 81.1h0M119.5 82.3h0M138.0 81.6h0M128.2 80.5h0M135.2 86.2h0M136.6 81.5h0M127.1 85.0h0M145.1 77.1h0M140.1 81.8h0M133.6 72.5h0M150.7 69.2h0M136.9 77.8h0M144.9 77.5h0M134.4 83.5h0M138.3 77.0h0M140.5 82.3h0M143.4 77.0h0M133.6 77.7h0M126.1 81.5h0M137.9 88.2h0M130.9 82.2h0M144.8 79.3h0M134.6 80.8h0M127.5 74.3h0M144.6 81.0h0M133.3 72.8h0M135.1 86.8h0M123.1 74.8h0M144.5 88.3h0M148.7 76.8h0M139.7 75.7h0M138.9 77.9h0M135.9 87.7h0M137.2 78.6h0M134.5 81.5h0M129.2 81.2h0M139.7 89.0h0M114.5 73.1h0M122.3 85.1h0M157.1 81.1h0M135.1 86.6h0M110.9 79.0h0M104.6 80.9h0M129.2 77.2h0M137.2 76.6h0M144.5 80.0h0M137.6 94.6h0M129.8 85.3h0M126.2 87.2h0M143.1 80.8h0M143.4 89.3h0M147.0 80.0h0M133.5 86.4h0M120.1 76.5h0M138.6 83.3h0M151.5 90.1h0M137.1 82.5h0M121.6 78.9h0M136.5 78.7h0M134.6 83.5h0M125.0 76.7h0M117.3 86.6h0M124.1 70.2h0M141.2 78.8h0M143.1 77.9h0M154.0 84.1h0M135.4 80.7h0M132.1 84.6h0M152.8 77.6h0M123.8 83.4h0M144.0 71.4h0M127.5 74.3h0M139.3 82.9h0M127.1 73.5h0M140.4 68.2h0M140.0 79.1h0M152.0 85.7h0M128.6 78.4h0M131.4 75.8h0M134.8 85.5h0M119.9 78.7h0M148.0 84.2h0M126.4 75.4h0M126.0 70.8h0M144.8 80.4h0M127.5 71.8h0M130.4 77.1h0M150.1 77.4h0M135.1 86.1h0M140.2 79.0h0M113.6 88.0h0M139.6 77.5h0M133.2 74.5h0M125.6 71.5h0M138.7 83.0h0M135.6 84.5h0M139.0 80.7h0M125.7 83.4h0M145.1 83.6h0M145.7 77.3h0M124.9 87.1h0M128.6 81.4h0M132.2 80.1h0M131.5 76.9h0M117.4 90.9h0M135.9 69.0h0M125.5 73.6h0M127.1 65.5h0M139.4 89.3h0M131.7 84.2h0M139.6 72.9h0M145.4 70.4h0M128.6 78.0h0M145.7 80.7h0M132.8 75.4h0M134.8 80.2h0M140.8 87.9h0M140.9 80.1h0M132.6 89.1h0M135.9 79.9h0M150.7 88.9h0M139.3 79.4h0M128.1 86.1h0M129.8 85.5h0M126.7 80.6h0M137.7 80.8h0M136.2 82.2h0M123.6 73.7h0M132.6 90.2h0M132.8 74.7h0M127.9 80.2h0M145.0 76.8h0M139.2 81.1h0M130.7 74.6h0M132.6 75.9h0M139.0 70.0h0M144.5 84.3h0M139.4 88.5h0M139.6 70.3h0M134.5 82.5h0M127.7 73.6h0M138.0 82.9h0M130.1 78.6h0M129.3 76.8h0M133.5 86.1h0M119.1 78.1h0M149.0 81.8h0M135.4 84.7h0M124.7 73.2h0M118.6 71.8h0M136.3 84.8h0M130.1 76.2h0M137.7 83.5h0M136.4 69.2h0M129.0 65.7h0M136.3 75.2h0M127.9 88.5h0M146.2 82.7h0M136.6 81.0h0M128.6 79.7h0M151.7 75.1h0M127.9 80.9h0M142.3 84.7h0M125.1 79.3h0M131.6 73.0h0M134.7 77.3h0M142.5 82.4h0M126.8 80.5h0M130.7 76.4h0M129.5 86.0h0M130.2 70.3h0M126.8 84.6h0M153.9 74.1h0M130.7 78.1h0M121.0 82.3h0M133.5 81.6h0M154.7 78.5h0M141.3 84.7h0M128.1 76.7h0M148.4 84.0h0M135.3 73.8h0M142.2 83.0h0M154.3 88.3h0M141.4 81.5h0M134.6 76.9h0M136.9 81.4h0M140.0 86.1h0M136.9 76.9h0M141.5 88.8h0M126.3 82.4h0M139.1 83.0h0M138.7 79.5h0M133.1 89.5h0M150.0 72.1h0M110.6 82.5h0M127.8 77.1h0M119.3 82.0h0M133.5 77.0h0M142.3 93.7h0M147.6 86.6h0M130.2 83.7h0M133.7 86.5h0M139.4 79.8h0M139.1 76.0h0M141.3 88.5h0M130.7 83.1h0M118.6 85.3h0M142.1 74.2h0M150.1 80.6h0M118.0 72.3h0M142.1 78.5h0M144.2 71.3h0M133.1 85.5h0M127.7 83.8h0M130.7 81.9h0M137.0 92.6h0M122.6 84.4h0M146.1 73.7h0M134.8 93.0h0M143.7 63.3h0M131.8 70.4h0M136.8 75.9h0M128.8 75.3h0M136.7 77.4h0M125.7 78.7h0M137.8 75.2h0M144.3 70.6h0M137.8 77.8h0M148.5 76.4h0M127.9 72.4h0M152.3 83.5h0M124.0 78.1h0M125.2 88.6h0M137.9 68.5h0M135.9 85.2h0M134.0 82.7h0M133.0 81.2h0M136.0 76.0h0M137.2 80.9h0M133.6 76.1h0M124.6 81.4h0M141.6 66.4h0M129.1 87.6h0M142.5 76.0h0M146.5 74.4h0M126.7 90.9h0M130.0 78.8h0M118.8 74.3h0M123.1 79.2h0M117.1 86.0h0M130.7 76.6h0M128.1 84.2h0M148.2 77.7h0M148.9 89.1h0M146.4 81.7h0M120.2 83.8h0M130.2 81.1h0M116.6 78.4h0M136.2 74.7h0M136.7 89.4h0M136.1 76.1h0M156.0 67.9h0M125.5 82.3h0M128.5 67.1h0M136.4 84.7h0M126.7 88.3h0M138.6 86.7h0M119.9 80.0h0M148.8 91.4h0M146.2 80.0h0M135.7 76.5h0M144.2 76.1h0M135.1 68.3h0M120.1 90.1h0M134.5 81.2h0M113.7 79.8h0M153.2 71.5h0M112.0 79.1h0M129.1 78.8h0M122.4 72.3h0M122.6 83.6h0M133.6 84.7h0M124.0 83.3h0M129.9 80.5h0M142.7 80.2h0M130.7 70.6h0M134.6 84.4h0M128.1 79.6h0M117.6 72.4h0M137.7 87.4h0M131.1 70.5h0M130.5 71.1h0M131.4 91.0h0M136.8 79.1h0M143.6 77.8h0M137.1 81.1h0M138.1 71.6h0M140.6 85.0h0M112.8 64.6h0M125.7 88.5h0M134.2 83.9h0M139.2 85.1h0M128.1 76.7h0M137.5 83.5h0M139.4 81.9h0M129.5 86.3h0M138.4 86.1h0M110.3 85.8h0M111.2 81.2h0M127.8 80.7h0M129.6 78.2h0M135.8 82.0h0M126.5 65.6h0M126.7 83.1h0M126.1 82.4h0M130.6 74.6h0M144.9 89.5h0M133.0 79.7h0M143.0 72.4h0M125.8 86.5h0M142.4 77.2h0M126.7 82.0h0M120.8 77.1h0M131.8 65.9h0M139.5 84.4h0M144.0 71.8h0M121.9 75.3h0M121.7 91.8h0M124.8 78.2h0M135.9 82.6h0M147.6 73.7h0M142.3 80.9h0M123.0 80.9h0M120.8 89.3h0M127.1 85.8h0M146.3 76.4h0M125.5 80.8h0M124.1 85.2h0M135.7 75.6h0M127.5 84.2h0M120.3 89.7h0M126.6 78.9h0M125.3 89.4h0M141.8 87.5h0M140.2 80.5h0M150.0 83.8h0M138.1 83.3h0M141.0 81.6h0M132.4 70.8h0M153.5 72.5h0M113.6 75.9h0M152.3 87.0h0M128.3 81.5h0M133.8 68.5h0M130.8 81.7h0M145.1 73.0h0M112.6 70.9h0M137.1 80.5h0M135.4 80.9h0M130.5 72.1h0M138.3 82.2h0M139.5 87.2h0M122.3 66.5h0M117.1 92.4h0M125.3 82.3h0M133.9 84.2h0M164.5 77.0h0M132.4 76.5h0M136.3 83.0h0M124.8 87.6h0M144.9 82.6h0M133.0 78.6h0M118.4 83.8h0M124.7 77.1h0M143.5 74.7h0M129.0 85.0h0M151.6 76.0h0M144.5 76.2h0M137.7 82.8h0M123.2 85.9h0M151.1 80.3h0M136.6 73.2h0M151.0 80.4h0M121.9 84.4h0M120.1 76.0h0M113.8 88.0h0M155.0 76.3h0M127.8 76.7h0M128.6 83.2h0M147.9 74.2h0M138.2 69.5h0M148.5 79.5h0M127.3 88.9h0M133.0 87.9h0M144.2 89.6h0M126.4 80.3h0M137.5 78.9h0M148.5 75.9h0M143.5 87.9h0M115.4 74.4h0M125.4 76.8h0M137.7 79.0h0M134.7 77.3h0M133.2 82.8h0M141.1 75.5h0M132.9 75.6h0M132.3 71.7h0M143.1 83.9h0M132.8 76.0h0M129.7 76.1h0M119.3 89.5h0M165.3 72.9h0M122.9 83.4h0M139.8 70.9h0M115.8 83.1h0M115.1 88.3h0M129.3 80.5h0M134.0 76.8h0M132.7 78.3h0M145.8 79.5h0M133.7 76.9h0M128.0 75.7h0M134.1 90.7h0M144.6 81.4h0M149.9 85.9h0M136.0 79.0h0M123.6 81.4h0M131.0 70.8h0M121.8 91.2h0M136.0 82.9h0M135.9 77.3h0M138.4 86.3h0M131.1 83.0h0M143.7 77.2h0M135.6 75.7h0M139.7 77.9h0M144.9 75.6h0M150.0 78.2h0M126.0 74.8h0M140.3 75.0h0M151.1 87.4h0M138.9 71.8h0M133.8 75.8h0M116.8 82.5h0M154.9 76.9h0M141.7 87.4h0M124.9 78.0h0M136.5 82.7h0M123.1 81.3h0M133.0 85.5h0M118.8 76.7h0M129.2 78.2h0M140.9 76.4h0M160.0 75.9h0M142.0 85.9h0M143.2 78.8h0M126.1 78.5h0M140.3 80.7h0M139.5 83.3h0M125.6 74.6h0M147.7 77.2h0M118.9 90.8h0M126.1 74.6h0M143.2 73.4h0M125.7 86.1h0M126.2 94.5h0M134.9 95.6h0M135.2 80.3h0M127.9 78.7h0M129.2 79.9h0M141.3 72.6h0M125.3 67.9h0M148.3 79.6h0M133.9 79.7h0M143.5 81.9h0M142.1 79.0h0M132.8 79.7h0M116.3 86.3h0M119.0 74.2h0M140.4 80.3h0M141.7 89.9h0M151.7 88.0h0M131.9 91.9h0M125.6 79.5h0M143.5 78.8h0M132.8 78.0h0M147.0 65.7h0M146.1 86.1h0M133.3 83.3h0M124.8 86.4h0M163.1 74.7h0M147.3 79.7h0M130.8 77.2h0M132.2 72.7h0M121.1 89.6h0M133.8 83.2h0M136.9 82.8h0M119.5 74.5h0M140.0 85.8h0M123.1 76.6h0M123.8 83.8h0M137.3 80.2h0M127.8 82.0h0M134.3 75.7h0M137.2 76.1h0M143.0 83.6h0M127.5 83.4h0M134.6 75.9h0M125.3 70.4h0M123.3 82.0h0M145.5 76.4h0M135.5 82.0h0M141.4 82.6h0M145.7 84.4h0M126.8 82.3h0M111.8 79.0h0M134.2 83.4h0M131.1 84.8h0M146.5 75.1h0M128.8 81.5h0M138.7 80.8h0M141.9 73.1h0M141.4 86.8h0M144.5 82.5h0M131.7 82.3h0M133.3 70.8h0M128.2 79.8h0M129.1 74.6h0M131.8 77.8h0M134.7 79.7h0M135.6 85.8h0M135.3 82.4h0M122.4 62.9h0M130.2 83.9h0M130.8 76.4h0M122.2 85.2h0M129.0 81.4h0M144.7 83.1h0M155.3 79.2h0M143.1 84.0h0M127.8 80.3h0M128.6 74.1h0M136.8 75.5h0M150.0 75.7h0M128.8 80.5h0M129.1 80.3h0M128.2 71.8h0M111.1 72.5h0M148.5 82.6h0M135.5 77.3h0M132.6 81.7h0M120.8 75.4h0M125.5 87.3h0M124.0 86.8h0M129.6 95.8h0M133.3 80.2h0M146.8 85.1h0M142.9 73.8h0M144.8 89.7h0M133.0 77.2h0M123.6 85.9h0M136.8 80.0h0M122.3 89.4h0M142.3 79.9h0M148.0 74.5h0M142.4 74.2h0M147.4 78.4h0M145.6 77.6h0M137.8 86.6h0M125.4 80.6h0M126.0 84.9h0M128.3 77.8h0M132.1 86.8h0M124.1 79.9h0M130.9 76.8h0M126.5 79.1h0M135.9 71.0h0M136.2 73.1h0M134.1 93.2h0M124.8 79.6h0M131.6 85.7h0M129.5 69.6h0M118.7 81.0h0M136.4 86.2h0M128.9 83.9h0M123.9 87.5h0M133.3 76.1h0M135.7 90.1h0M126.0 72.8h0M124.4 73.3h0M133.5 82.0h0M132.4 81.1h0M145.3 78.3h0M122.1 66.7h0M136.3 76.1h0M131.6 82.4h0M138.4 70.9h0M124.9 80.4h0M132.6 86.7h0M129.2 68.0h0M145.1 70.5h0M124.8 82.3h0M123.9 94.4h0M136.3 83.1h0M129.9 92.9h0M139.1 75.8h0M145.9 70.2h0M128.4 81.7h0M135.3 74.4h0M149.0 88.5h0M125.1 82.2h0M128.0 77.5h0M143.4 80.7h0M133.0 80.6h0M122.9 87.1h0M126.9 87.6h0M129.6 77.4h0M148.1 81.1h0M127.9 76.9h0M139.8 90.9h0M139.8 77.7h0M123.3 76.1h0M132.9 81.4h0M127.8 87.4h0M124.9 75.9h0M138.7 82.8h0M130.3 85.6h0M120.6 89.5h0M154.8 91.3h0M135.1 91.4h0M134.5 87.7h0M132.1 81.1h0M139.0 69.9h0M132.0 90.0h0M106.2 82.2h0M142.8 81.9h0M135.8 88.0h0M137.2 69.0h0M125.0 78.3h0M135.4 77.4h0M133.0 89.7h0M106.1 86.7h0M142.9 83.5h0M134.1 80.4h0M137.5 81.4h0M127.1 84.5h0M126.2 79.8h0M130.6 73.3h0M139.7 79.6h0M122.9 79.5h0M120.9 88.3h0M138.9 91.5h0M128.6 84.1h0M124.8 75.1h0M133.2 82.4h0M142.8 78.5h0M144.5 85.6h0M125.7 79.0h0M125.3 89.9h0M128.8 85.1h0M142.7 78.5h0M129.4 82.0h0M126.7 72.7h0M124.9 82.0h0M135.8 90.2h0M116.7 82.9h0M123.1 86.7h0M140.6 80.7h0M147.9 77.8h0M129.0 73.9h0M127.8 80.7h0M140.4 87.4h0M131.5 75.8h0M130.8 77.5h0M129.6 77.7h0M125.8 79.7h0M129.2 79.0h0M120.9 80.8h0M139.4 83.7h0M128.8 73.4h0M121.7 73.2h0M127.9 78.2h0M117.3 83.9h0M119.5 76.1h0M127.2 84.8h0M151.3 78.0h0M131.4 77.7h0M132.1 79.0h0M157.3 73.7h0M133.0 75.5h0M137.4 77.0h0M139.4 73.8h0M153.9 81.2h0M117.4 84.0h0M129.6 73.4h0M138.2 77.0h0M140.9 76.9h0M142.5 80.9h0M137.4 80.9h0M130.6 77.9h0M138.2 84.1h0M130.2 92.8h0M149.9 73.4h0M144.2 79.6h0M136.2 75.5h0M149.5 75.3h0M133.2 75.9h0M152.2 87.2h0M121.6 77.4h0M137.4 77.5h0M130.7 73.8h0M136.4 73.8h0M141.8 93.7h0M130.9 89.4h0M137.5 76.2h0M130.8 74.5h0M135.1 84.0h0M142.7 78.4h0M122.8 79.6h0M149.7 81.6h0M133.4 68.2h0M129.9 83.1h0M125.1 87.7h0M128.7 75.0h0M128.6 79.5h0M143.4 76.8h0M117.3 79.6h0M138.9 88.8h0M123.5 88.5h0M140.3 82.6h0M126.8 75.0h0M125.1 85.3h0M136.1 86.1h0M151.0 80.1h0M133.6 90.9h0M121.8 77.5h0M130.5 77.9h0M135.3 75.2h0M144.9 72.3h0M126.4 70.4h0M120.9 83.4h0M139.9 78.9h0M141.9 83.5h0M128.6 79.8h0M137.4 91.5h0M129.9 82.1h0M139.1 86.9h0M138.0 86.1h0M124.1 78.5h0M115.9 79.7h0M155.8 81.4h0M134.8 81.5h0M135.4 72.5h0M127.5 79.0h0M135.6 75.1h0M133.0 75.9h0M121.7 76.3h0M126.5 84.8h0M146.5 83.3h0M132.0 76.9h0M119.3 77.0h0M148.6 86.6h0M136.1 78.6h0M134.0 82.4h0M133.9 82.5h0M126.8 80.3h0M130.7 86.1h0M122.4 87.4h0M133.2 77.2h0M134.2 80.7h0M131.8 82.4h0M128.6 70.5h0M140.5 79.9h0M149.6 82.2h0M115.3 87.1h0M127.6 83.1h0M154.7 86.2h0M123.8 79.5h0M119.0 83.8h0M139.3 74.2h0M138.2 85.3h0M141.5 76.3h0M127.5 73.7h0M121.9 81.8h0M134.4 87.4h0M136.6 78.2h0M120.7 88.8h0M135.5 79.9h0M124.6 74.1h0M139.9 74.6h0M139.5 83.6h0M130.4 70.9h0M137.8 88.0h0M126.3 72.9h0M144.2 80.9h0M128.2 87.0h0M131.4 82.6h0M130.3 75.8h0M136.1 75.2h0M117.4 77.0h0M145.5 86.2h0M154.3 85.7h0M149.1 81.5h0M94.7 83.2h0M82.6 85.1h0M94.4 81.8h0M84.9 79.2h0M128.1 78.6h0M89.1 82.0h0M125.7 78.8h0M77.5 69.5h0M73.5 87.3h0M102.9 83.3h0M130.3 82.0h0M116.4 76.6h0M67.1 84.3h0M102.7 84.0h0M79.9 79.1h0M152.4 74.4h0M107.3 89.0h0M99.6 80.9h0M54.9 85.3h0M94.6 88.8h0M102.9 77.6h0M115.3 78.5h0M92.9 90.5h0M128.1 80.8h0M124.0 85.7h0M118.7 80.4h0M106.7 82.8h0M118.3 82.5h0M92.1 79.6h0M115.8 73.4h0M104.8 85.2h0M109.0 78.2h0M104.5 76.8h0M128.1 77.6h0M65.9 72.0h0M112.0 81.5h0M93.9 71.3h0M101.5 74.4h0M89.6 80.1h0M87.0 82.2h0M87.6 77.0h0M99.7 89.9h0M142.1 86.4h0M87.7 80.1h0M126.5 85.5h0M66.7 79.7h0M87.6 85.1h0M120.0 76.5h0M155.3 78.2h0M162.4 79.0h0M103.0 92.8h0M92.6 76.9h0M139.7 79.8h0M116.2 71.7h0M147.0 86.7h0M113.4 84.8h0M93.3 76.9h0M68.1 82.6h0M134.1 85.8h0M126.6 84.9h0M83.4 71.4h0M120.1 81.2h0M128.2 78.3h0M84.3 83.1h0M91.9 69.2h0M90.7 74.2h0M78.8 76.4h0M127.3 95.8h0M145.6 77.3h0M131.8 79.6h0M114.5 75.6h0M103.3 68.9h0M147.1 75.0h0M118.8 76.2h0M111.4 72.3h0M96.2 86.2h0M119.0 67.2h0M125.0 71.4h0M111.7 83.6h0M89.9 78.0h0M99.2 82.8h0M126.5 89.2h0M112.7 93.4h0M82.8 92.0h0M98.9 85.2h0M102.0 80.7h0M83.4 82.7h0M152.6 81.1h0M104.5 80.1h0M121.8 78.8h0M104.9 81.6h0M135.6 86.4h0M80.3 75.9h0M105.5 85.8h0M127.8 78.7h0M155.0 79.0h0M138.0 89.6h0M142.5 81.5h0M118.5 70.0h0M63.2 76.1h0M121.9 87.2h0M102.6 87.0h0M118.6 90.2h0M67.6 74.6h0M82.5 73.2h0M143.7 74.0h0M85.5 77.5h0M125.8 77.0h0M122.3 83.8h0M90.0 64.4h0M83.4 71.8h0M143.4 75.3h0M79.8 82.6h0M106.3 73.9h0M130.7 86.2h0M111.6 75.1h0M84.5 66.5h0M114.0 82.7h0M83.4 80.3h0M64.9 84.2h0M95.0 76.8h0M119.6 79.2h0M128.4 83.5h0M132.3 80.9h0M54.2 89.1h0M65.0 87.0h0M110.9 70.9h0M106.6 86.0h0M81.0 80.4h0M87.6 73.4h0M90.5 88.6h0M121.1 79.9h0M103.1 80.9h0M111.7 81.3h0M64.6 86.2h0M84.9 62.8h0M121.6 72.1h0M101.7 79.5h0M91.1 83.6h0M98.6 78.2h0M82.5 78.2h0M80.6 80.4h0M136.2 86.8h0M115.1 71.0h0M129.2 86.3h0M153.6 65.1h0M105.4 77.9h0M130.6 72.8h0M96.0 95.5h0M128.4 66.8h0M105.5 89.2h0M90.4 84.0h0M107.3 70.3h0M90.2 87.6h0M132.9 76.1h0M131.5 75.3h0M110.8 79.9h0M75.5 82.2h0M95.8 61.8h0M85.4 74.4h0M85.3 73.5h0M88.8 63.7h0M126.0 80.5h0M111.0 78.3h0M106.5 78.3h0M79.3 69.9h0M106.8 86.8h0M110.5 90.8h0M72.8 78.3h0M90.4 88.3h0M145.0 76.6h0M122.3 78.4h0M81.4 79.3h0M80.4 90.4h0M118.9 88.0h0M113.5 63.8h0M123.9 80.6h0M48.7 80.7h0M128.9 91.5h0M80.9 85.3h0M112.9 78.9h0M98.3 83.6h0M118.6 84.4h0M95.4 71.2h0M136.1 88.7h0M91.7 79.8h0M124.1 68.3h0M116.8 96.2h0M111.4 75.3h0M153.2 80.1h0M110.0 77.2h0M109.3 68.0h0M74.7 70.1h0M126.3 79.4h0M132.2 66.4h0M90.8 89.8h0M86.3 67.5h0M87.4 77.7h0M104.7 88.8h0M136.4 90.4h0" stroke="#000" stroke-width="1.1" stroke-linecap="round" fill="none" opacity="0.9"/>
<path d="M79.3 58.4h0M71.3 53.2h0M84.4 67.6h0M75.7 56.3h0M80.0 63.6h0M76.1 54.9h0M76.8 58.0h0M80.5 64.2h0M78.2 58.8h0M86.2 65.1h0M84.4 65.4h0M79.9 63.1h0M67.1 51.4h0M68.1 64.2h0M81.7 62.0h0M72.1 51.6h0M63.6 59.3h0M80.2 64.9h0M73.4 65.3h0M74.6 57.2h0M72.2 65.0h0M82.0 55.1h0M67.7 61.7h0M90.6 54.8h0M65.8 63.2h0M78.7 57.8h0M74.8 63.6h0M62.2 60.9h0M79.4 65.9h0M83.6 60.6h0M64.4 68.1h0M80.7 57.6h0M82.6 66.5h0M74.0 48.6h0M71.6 57.0h0M68.8 60.6h0M67.1 63.1h0M88.9 54.7h0M82.7 58.2h0M79.0 60.3h0M84.4 57.3h0M80.4 56.9h0M76.7 60.9h0M83.0 52.7h0M65.1 68.3h0M77.8 70.0h0M67.4 62.1h0M74.6 58.6h0M80.3 60.5h0M69.5 65.0h0M61.0 55.7h0M85.0 58.4h0M72.6 63.0h0M83.2 63.8h0M67.9 58.0h0M82.7 60.4h0M70.4 65.6h0M67.1 57.3h0M69.9 62.9h0M71.5 66.9h0M70.3 59.6h0M79.2 62.1h0M67.6 68.9h0M79.2 58.4h0M76.5 55.2h0M66.0 59.4h0M77.7 61.5h0M69.3 53.7h0M62.7 69.4h0M77.7 56.8h0M83.7 63.9h0M72.0 57.8h0M83.3 62.7h0M87.0 62.9h0M70.7 57.8h0M69.9 62.3h0M76.9 64.2h0M78.3 55.5h0M73.5 56.0h0M78.5 54.1h0M70.8 56.5h0M70.5 59.6h0M86.0 59.7h0M64.5 59.4h0M80.5 63.9h0M83.1 61.5h0M83.9 53.9h0M73.8 56.4h0M76.3 69.5h0M71.4 69.4h0" stroke="#000" stroke-width="1.1" stroke-linecap="round" fill="none" opacity="0.5"/>
<path d="M46.0 92.3h0M42.1 72.7h0M57.8 79.2h0M52.8 79.9h0M53.1 78.5h0M46.3 77.5h0M52.6 72.2h0M54.7 95.2h0M42.4 75.3h0M50.4 80.2h0M52.6 73.7h0M51.8 80.1h0M51.5 93.3h0M52.8 67.2h0M42.9 85.1h0M50.0 74.7h0M44.1 77.3h0M51.5 74.1h0M50.0 87.7h0M56.6 84.7h0M51.0 68.3h0M56.5 92.9h0M59.4 90.1h0M53.6 83.2h0M51.9 90.8h0M50.4 98.5h0M56.5 77.2h0M52.0 66.1h0M47.7 77.4h0M66.3 73.0h0M57.4 80.7h0M50.3 85.4h0M63.3 82.6h0M51.6 81.4h0M55.9 75.8h0M52.7 84.4h0M50.0 83.4h0M53.9 86.2h0M46.3 75.4h0M49.5 90.3h0M53.5 65.7h0M44.6 96.8h0M54.0 68.8h0M46.7 81.2h0M60.3 94.0h0M49.9 77.4h0M63.2 71.5h0M61.1 82.9h0M52.6 91.1h0M54.8 72.8h0" stroke="#000" stroke-width="1.1" stroke-linecap="round" fill="none" opacity="0.4"/>
<rect x="58.6" y="41.6" width="29.8" height="58.6" fill="none" stroke="#8c8c8c" stroke-width="0.8"/>
<rect x="58.6" y="66.3" width="97.5" height="33.9" fill="none" stroke="#8c8c8c" stroke-width="0.8"/>
<line x1="88.4" y1="66.3" x2="88.4" y2="100.2" stroke="#8c8c8c" stroke-width="0.8" />
<line x1="119.5" y1="66.3" x2="119.5" y2="100.2" stroke="#8c8c8c" stroke-width="0.8" />
<text x="54.7" y="32.8" font-size="9.2" font-weight="normal" text-anchor="start" fill="#000" textLength="54.5" lengthAdjust="spacingAndGlyphs" stroke="#000" stroke-width="0.5" font-family="'DejaVu Sans', sans-serif">CD56bright</text>
<text x="49" y="117.7" font-size="9.2" font-weight="normal" text-anchor="start" fill="#000" textLength="45.6" lengthAdjust="spacingAndGlyphs" stroke="#000" stroke-width="0.5" font-family="'DejaVu Sans', sans-serif">CD56dim</text>
<text x="49" y="131.2" font-size="9.2" font-weight="normal" text-anchor="start" fill="#000" textLength="29.5" lengthAdjust="spacingAndGlyphs" stroke="#000" stroke-width="0.5" font-family="'DejaVu Sans', sans-serif">CD57-</text>
<text x="91.3" y="135" font-size="9.2" font-weight="normal" text-anchor="start" fill="#000" textLength="44" lengthAdjust="spacingAndGlyphs" stroke="#000" stroke-width="0.5" font-family="'DejaVu Sans', sans-serif">CD56dim</text>
<text x="91.3" y="148.5" font-size="9.2" font-weight="normal" text-anchor="start" fill="#000" textLength="38.2" lengthAdjust="spacingAndGlyphs" stroke="#000" stroke-width="0.5" font-family="'DejaVu Sans', sans-serif">CD57int</text>
<text x="149" y="119" font-size="9.2" font-weight="normal" text-anchor="start" fill="#000" textLength="44.5" lengthAdjust="spacingAndGlyphs" stroke="#000" stroke-width="0.5" font-family="'DejaVu Sans', sans-serif">CD56dim</text>
<text x="149" y="132.3" font-size="9.2" font-weight="normal" text-anchor="start" fill="#000" textLength="30.5" lengthAdjust="spacingAndGlyphs" stroke="#000" stroke-width="0.5" font-family="'DejaVu Sans', sans-serif">CD57+</text>
<text x="85.6" y="182.5" font-size="14.9" font-weight="normal" text-anchor="start" fill="#000" textLength="36.3" lengthAdjust="spacingAndGlyphs" stroke="#000" stroke-width="0.2">CD57</text>
<text x="12.5" y="102.3" font-size="15.3" font-weight="normal" text-anchor="start" fill="#000" textLength="36.3" lengthAdjust="spacingAndGlyphs" transform="rotate(-90 12.5 102.3)" stroke="#000" stroke-width="0.25">CD56</text>
<line x1="43" y1="223.7" x2="43" y2="345" stroke="#000" stroke-width="1.3" />
<line x1="43" y1="223.7" x2="179" y2="223.7" stroke="#000" stroke-width="1.3" />
<line x1="43" y1="345" x2="179" y2="345" stroke="#000" stroke-width="1.3" />
<line x1="179" y1="223.7" x2="179" y2="247" stroke="#000" stroke-width="1.2" />
<line x1="179" y1="294" x2="179" y2="345" stroke="#000" stroke-width="1.2" />
<line x1="40" y1="235" x2="43" y2="235" stroke="#000" stroke-width="1.2" />
<line x1="40" y1="262.3" x2="43" y2="262.3" stroke="#000" stroke-width="1.2" />
<line x1="40" y1="290.7" x2="43" y2="290.7" stroke="#000" stroke-width="1.2" />
<line x1="40" y1="320.2" x2="43" y2="320.2" stroke="#000" stroke-width="1.2" />
<line x1="40" y1="332.6" x2="43" y2="332.6" stroke="#000" stroke-width="1.2" />
<line x1="41.5" y1="228" x2="43" y2="228" stroke="#000" stroke-width="0.7" />
<line x1="41.5" y1="231" x2="43" y2="231" stroke="#000" stroke-width="0.7" />
<line x1="41.5" y1="241" x2="43" y2="241" stroke="#000" stroke-width="0.7" />
<line x1="41.5" y1="245" x2="43" y2="245" stroke="#000" stroke-width="0.7" />
<line x1="41.5" y1="249" x2="43" y2="249" stroke="#000" stroke-width="0.7" />
<line x1="41.5" y1="253" x2="43" y2="253" stroke="#000" stroke-width="0.7" />
<line x1="41.5" y1="257" x2="43" y2="257" stroke="#000" stroke-width="0.7" />
<line x1="41.5" y1="260" x2="43" y2="260" stroke="#000" stroke-width="0.7" />
<line x1="41.5" y1="269" x2="43" y2="269" stroke="#000" stroke-width="0.7" />
<line x1="41.5" y1="273" x2="43" y2="273" stroke="#000" stroke-width="0.7" />
<line x1="41.5" y1="277" x2="43" y2="277" stroke="#000" stroke-width="0.7" />
<line x1="41.5" y1="281" x2="43" y2="281" stroke="#000" stroke-width="0.7" />
<line x1="41.5" y1="285" x2="43" y2="285" stroke="#000" stroke-width="0.7" />
<line x1="41.5" y1="288" x2="43" y2="288" stroke="#000" stroke-width="0.7" />
<line x1="41.5" y1="297" x2="43" y2="297" stroke="#000" stroke-width="0.7" />
<line x1="41.5" y1="301" x2="43" y2="301" stroke="#000" stroke-width="0.7" />
<line x1="41.5" y1="305" x2="43" y2="305" stroke="#000" stroke-width="0.7" />
<line x1="41.5" y1="309" x2="43" y2="309" stroke="#000" stroke-width="0.7" />
<line x1="41.5" y1="313" x2="43" y2="313" stroke="#000" stroke-width="0.7" />
<line x1="41.5" y1="316" x2="43" y2="316" stroke="#000" stroke-width="0.7" />
<line x1="46" y1="345" x2="46" y2="346.5" stroke="#000" stroke-width="0.7" />
<line x1="49" y1="345" x2="49" y2="346.5" stroke="#000" stroke-width="0.7" />
<line x1="52" y1="345" x2="52" y2="346.5" stroke="#000" stroke-width="0.7" />
<line x1="55" y1="345" x2="55" y2="346.5" stroke="#000" stroke-width="0.7" />
<line x1="58" y1="345" x2="58" y2="346.5" stroke="#000" stroke-width="0.7" />
<line x1="61" y1="345" x2="61" y2="346.5" stroke="#000" stroke-width="0.7" />
<line x1="64" y1="345" x2="64" y2="346.5" stroke="#000" stroke-width="0.7" />
<line x1="67" y1="345" x2="67" y2="346.5" stroke="#000" stroke-width="0.7" />
<line x1="70" y1="345" x2="70" y2="346.5" stroke="#000" stroke-width="0.7" />
<line x1="73" y1="345" x2="73" y2="346.5" stroke="#000" stroke-width="0.7" />
<line x1="76" y1="345" x2="76" y2="346.5" stroke="#000" stroke-width="0.7" />
<line x1="79" y1="345" x2="79" y2="346.5" stroke="#000" stroke-width="0.7" />
<line x1="82" y1="345" x2="82" y2="346.5" stroke="#000" stroke-width="0.7" />
<line x1="85" y1="345" x2="85" y2="346.5" stroke="#000" stroke-width="0.7" />
<line x1="88" y1="345" x2="88" y2="346.5" stroke="#000" stroke-width="0.7" />
<line x1="91" y1="345" x2="91" y2="346.5" stroke="#000" stroke-width="0.7" />
<line x1="94" y1="345" x2="94" y2="346.5" stroke="#000" stroke-width="0.7" />
<line x1="97" y1="345" x2="97" y2="346.5" stroke="#000" stroke-width="0.7" />
<line x1="100" y1="345" x2="100" y2="346.5" stroke="#000" stroke-width="0.7" />
<line x1="103" y1="345" x2="103" y2="346.5" stroke="#000" stroke-width="0.7" />
<line x1="106" y1="345" x2="106" y2="346.5" stroke="#000" stroke-width="0.7" />
<line x1="109" y1="345" x2="109" y2="346.5" stroke="#000" stroke-width="0.7" />
<line x1="112" y1="345" x2="112" y2="346.5" stroke="#000" stroke-width="0.7" />
<line x1="115" y1="345" x2="115" y2="346.5" stroke="#000" stroke-width="0.7" />
<line x1="118" y1="345" x2="118" y2="346.5" stroke="#000" stroke-width="0.7" />
<line x1="121" y1="345" x2="121" y2="346.5" stroke="#000" stroke-width="0.7" />
<line x1="124" y1="345" x2="124" y2="346.5" stroke="#000" stroke-width="0.7" />
<line x1="127" y1="345" x2="127" y2="346.5" stroke="#000" stroke-width="0.7" />
<line x1="130" y1="345" x2="130" y2="346.5" stroke="#000" stroke-width="0.7" />
<line x1="133" y1="345" x2="133" y2="346.5" stroke="#000" stroke-width="0.7" />
<line x1="136" y1="345" x2="136" y2="346.5" stroke="#000" stroke-width="0.7" />
<line x1="139" y1="345" x2="139" y2="346.5" stroke="#000" stroke-width="0.7" />
<line x1="142" y1="345" x2="142" y2="346.5" stroke="#000" stroke-width="0.7" />
<line x1="145" y1="345" x2="145" y2="346.5" stroke="#000" stroke-width="0.7" />
<line x1="148" y1="345" x2="148" y2="346.5" stroke="#000" stroke-width="0.7" />
<line x1="151" y1="345" x2="151" y2="346.5" stroke="#000" stroke-width="0.7" />
<line x1="154" y1="345" x2="154" y2="346.5" stroke="#000" stroke-width="0.7" />
<line x1="157" y1="345" x2="157" y2="346.5" stroke="#000" stroke-width="0.7" />
<line x1="160" y1="345" x2="160" y2="346.5" stroke="#000" stroke-width="0.7" />
<line x1="163" y1="345" x2="163" y2="346.5" stroke="#000" stroke-width="0.7" />
<line x1="166" y1="345" x2="166" y2="346.5" stroke="#000" stroke-width="0.7" />
<line x1="169" y1="345" x2="169" y2="346.5" stroke="#000" stroke-width="0.7" />
<line x1="172" y1="345" x2="172" y2="346.5" stroke="#000" stroke-width="0.7" />
<line x1="175" y1="345" x2="175" y2="346.5" stroke="#000" stroke-width="0.7" />
<line x1="53" y1="345" x2="53" y2="347.5" stroke="#000" stroke-width="1" />
<line x1="72" y1="345" x2="72" y2="347.5" stroke="#000" stroke-width="1" />
<line x1="105" y1="345" x2="105" y2="347.5" stroke="#000" stroke-width="1" />
<line x1="137" y1="345" x2="137" y2="347.5" stroke="#000" stroke-width="1" />
<line x1="168" y1="345" x2="168" y2="347.5" stroke="#000" stroke-width="1" />
<text x="28.5" y="240" font-size="6.5" font-weight="bold" fill="#111">10<tspan font-size="5.2" dy="-3.3">5</tspan></text>
<text x="28.5" y="267.5" font-size="6.5" font-weight="bold" fill="#111">10<tspan font-size="5.2" dy="-3.3">4</tspan></text>
<text x="28.5" y="295" font-size="6.5" font-weight="bold" fill="#111">10<tspan font-size="5.2" dy="-3.3">3</tspan></text>
<text x="28.5" y="324" font-size="6.5" font-weight="bold" fill="#111">10<tspan font-size="5.2" dy="-3.3">2</tspan></text>
<text x="31" y="336" font-size="6.5" font-weight="bold" text-anchor="start" fill="#111">0</text>
<text x="51" y="361" font-size="6.5" font-weight="bold" text-anchor="start" fill="#111">0</text>
<text x="67.5" y="361" font-size="6.5" font-weight="bold" fill="#111">10<tspan font-size="5.2" dy="-3.3">2</tspan></text>
<text x="100" y="361" font-size="6.5" font-weight="bold" fill="#111">10<tspan font-size="5.2" dy="-3.3">3</tspan></text>
<text x="133" y="361" font-size="6.5" font-weight="bold" fill="#111">10<tspan font-size="5.2" dy="-3.3">4</tspan></text>
<text x="163.5" y="361" font-size="6.5" font-weight="bold" fill="#111">10<tspan font-size="5.2" dy="-3.3">5</tspan></text>
<line x1="96.2" y1="248.2" x2="124" y2="248.2" stroke="#9a9a9a" stroke-width="0.9" />
<line x1="96.2" y1="248.2" x2="96.2" y2="293.2" stroke="#9a9a9a" stroke-width="0.9" />
<line x1="96.2" y1="293.6" x2="176" y2="293.6" stroke="#b5b5b5" stroke-width="0.9" />
<path d="M96.9 278.6h0M111.7 285.3h0M89.0 285.2h0M112.5 286.1h0M113.8 279.6h0M111.1 280.5h0M103.4 277.9h0M108.9 276.3h0M97.3 271.3h0M111.7 281.1h0M108.8 272.7h0M114.2 276.5h0M92.9 286.3h0M97.1 289.8h0M111.9 276.3h0M90.9 275.0h0M118.8 285.3h0M109.9 269.9h0M105.2 277.1h0M111.4 277.9h0M110.5 270.3h0M103.3 285.7h0M97.4 283.1h0M97.9 284.7h0M94.5 280.2h0M105.0 284.7h0M116.6 279.5h0M121.1 283.4h0M104.5 273.6h0M111.0 277.9h0M104.6 270.5h0M106.9 277.9h0M115.2 275.9h0M96.6 273.1h0M107.7 279.8h0M113.3 276.6h0M111.9 279.2h0M120.3 278.2h0M109.1 281.3h0M116.9 273.9h0M104.6 277.1h0M92.5 285.0h0M115.8 278.6h0M122.7 286.4h0M114.6 271.4h0M119.2 280.6h0M99.3 278.8h0M113.5 283.4h0M109.3 275.9h0M113.6 274.7h0M107.4 282.3h0M97.5 280.4h0M93.7 273.9h0M99.0 278.1h0M113.2 278.2h0M114.7 279.0h0M106.5 281.0h0M106.3 279.2h0M115.6 275.6h0M116.4 273.0h0M106.4 269.8h0M104.1 286.5h0M110.6 284.9h0M97.3 273.4h0M111.4 282.7h0M114.1 270.1h0M111.7 278.1h0M108.9 280.9h0M106.0 270.0h0M100.2 271.2h0M98.4 277.8h0M117.5 274.9h0M102.4 272.7h0M95.4 278.8h0M104.5 277.3h0M101.0 280.9h0M99.2 281.3h0M103.2 282.5h0M101.5 280.7h0M111.2 278.1h0M119.9 279.4h0M101.5 282.0h0M102.0 275.8h0M108.1 279.4h0M120.4 269.7h0M106.1 284.2h0M106.8 280.1h0M119.1 272.3h0M108.3 282.5h0M103.7 269.7h0M100.7 279.5h0M109.4 287.8h0M117.7 270.7h0M115.6 283.1h0M119.8 277.7h0M103.9 279.2h0M119.3 281.6h0M120.4 282.5h0M103.7 273.4h0M121.5 270.9h0M105.4 276.9h0M101.3 275.6h0M108.0 290.4h0M107.5 275.9h0M108.9 283.2h0M102.0 276.5h0M95.2 282.0h0M113.0 286.0h0M99.2 289.4h0M114.4 277.1h0M105.1 276.9h0M99.1 282.4h0M103.6 274.9h0M111.8 279.1h0M103.7 277.3h0M104.4 285.3h0M115.3 274.8h0M107.7 285.4h0M105.9 287.5h0M111.3 281.9h0M92.8 282.8h0M110.5 281.4h0M111.5 281.2h0M104.3 283.0h0M108.5 273.2h0M100.6 279.3h0M110.5 267.4h0M92.9 283.8h0M96.8 277.3h0M103.6 281.3h0M118.3 286.6h0M100.6 284.7h0M99.1 280.1h0M109.3 281.6h0M102.1 285.2h0M107.5 278.4h0M106.1 273.1h0M113.3 280.2h0M111.3 287.9h0M101.7 277.1h0M108.1 282.8h0M106.7 283.2h0M111.3 269.6h0M103.0 268.3h0M105.9 276.4h0M112.3 279.4h0M107.5 284.9h0M112.4 272.3h0M103.0 280.2h0M120.5 277.5h0M106.8 279.8h0M113.7 278.0h0M110.2 276.4h0M104.0 274.5h0M112.8 275.7h0M112.0 280.5h0M100.9 272.3h0M106.8 282.6h0M117.9 280.4h0M105.2 281.2h0M92.1 283.2h0M108.1 281.6h0M100.5 273.0h0M103.3 278.3h0M110.6 276.7h0M110.6 281.9h0M99.5 278.0h0M96.6 275.7h0M114.6 274.9h0M121.7 281.1h0M114.5 279.0h0M114.3 284.0h0M108.8 275.8h0M104.0 288.3h0M106.7 276.2h0M102.8 270.0h0M104.3 280.1h0M104.4 274.7h0M111.0 280.8h0M104.8 280.1h0M100.9 282.9h0M100.8 276.8h0M109.0 276.4h0M99.6 289.1h0M119.1 269.7h0M108.9 272.1h0M110.3 271.9h0M112.3 281.2h0M120.5 284.6h0M104.6 283.3h0M104.6 277.9h0M104.3 269.6h0M112.4 268.2h0M106.3 281.2h0M108.8 270.5h0M103.2 281.9h0M116.1 286.6h0M94.7 280.8h0M104.5 282.4h0M95.6 277.8h0M113.2 275.2h0M105.3 273.5h0M116.2 271.8h0M101.3 276.8h0M105.7 289.2h0M110.0 274.3h0M112.3 280.2h0M110.1 278.2h0M111.4 272.6h0M99.2 276.3h0M99.9 282.0h0M122.2 284.8h0M111.3 280.2h0M103.0 271.9h0M112.0 271.0h0M110.2 277.8h0M113.5 278.8h0M108.8 275.6h0M95.4 276.8h0M113.1 283.8h0M118.1 273.5h0M101.1 282.1h0M110.3 270.8h0M103.9 286.5h0M94.6 279.3h0M97.8 286.6h0M104.7 273.3h0M95.5 274.9h0M89.3 276.1h0M106.1 272.6h0M110.5 276.1h0M101.8 285.5h0M111.2 274.0h0M118.8 278.2h0M111.7 279.2h0M116.6 281.6h0M105.5 282.1h0M105.1 279.2h0M120.0 273.1h0M100.4 276.5h0M104.3 285.1h0M96.3 290.1h0M119.6 276.2h0M109.4 276.7h0M112.9 281.9h0M113.5 282.4h0M122.2 277.6h0M113.1 277.6h0M108.3 279.6h0M107.6 280.3h0M101.8 277.7h0M103.6 272.6h0M102.8 276.0h0M106.9 270.6h0M106.1 272.8h0M102.0 279.5h0M116.1 280.0h0M104.4 276.3h0M117.8 270.3h0M116.4 270.9h0M103.3 278.7h0M106.4 286.9h0M111.6 278.3h0M115.0 278.7h0M102.1 284.2h0M119.0 285.0h0M99.4 288.2h0M104.9 282.4h0M116.8 290.6h0M96.1 273.3h0M116.7 281.0h0M111.2 277.6h0M89.6 275.7h0M108.0 279.7h0M113.5 277.2h0M101.4 276.7h0M92.6 272.8h0M122.5 275.0h0M107.4 288.1h0M115.7 279.1h0M113.4 277.1h0M101.3 283.6h0M109.0 286.6h0M106.1 276.6h0M110.5 277.5h0M105.7 274.0h0M109.9 280.1h0M121.4 278.4h0M95.1 280.9h0M102.1 277.7h0M87.0 276.8h0M106.6 270.8h0M112.2 274.1h0M94.4 274.8h0M112.7 288.3h0M117.2 279.5h0M104.2 277.2h0M115.1 275.9h0M111.1 283.4h0M101.3 275.5h0M111.3 278.5h0M107.1 275.8h0M107.5 287.9h0M118.0 270.3h0M108.3 279.0h0M108.3 271.5h0M107.0 279.3h0M103.0 280.1h0M90.1 270.8h0M108.7 280.5h0M106.8 276.2h0M109.4 284.0h0M114.6 278.1h0M104.6 283.9h0M112.0 283.0h0M106.0 274.1h0M109.4 275.3h0M116.5 282.9h0M91.9 281.9h0M117.8 283.8h0M104.5 274.1h0M115.1 283.7h0M108.4 272.6h0M96.8 279.9h0M101.9 275.0h0M111.3 283.8h0M92.8 275.1h0M117.6 278.3h0M105.5 281.8h0M99.6 272.3h0M108.2 286.5h0M115.5 278.5h0M115.4 276.4h0M99.3 270.0h0M110.0 283.1h0M110.7 278.3h0M105.1 284.1h0M107.7 271.2h0M118.1 275.2h0M110.9 278.5h0M115.8 279.8h0M117.0 279.6h0M104.6 275.9h0M112.8 274.3h0M114.8 277.3h0M101.2 274.1h0M106.9 287.5h0M113.7 278.6h0M101.3 288.2h0M106.0 278.5h0M104.9 285.3h0M109.3 276.2h0M109.4 273.4h0M100.2 277.7h0M86.8 284.5h0M122.6 272.8h0M107.0 270.5h0M109.3 279.6h0M113.5 271.7h0M103.6 275.2h0M106.2 290.1h0M106.5 278.3h0M104.3 282.6h0M119.3 273.0h0M115.8 278.6h0M117.2 283.9h0M112.8 270.0h0M109.0 276.0h0M111.3 278.7h0M115.7 270.3h0M102.5 278.1h0M110.4 276.4h0M107.8 278.8h0M115.7 277.9h0M109.8 269.2h0M88.7 271.0h0M111.0 278.0h0M108.0 274.8h0M104.9 282.7h0M110.6 278.4h0M104.4 279.6h0M116.8 278.4h0M105.3 272.5h0M108.7 273.8h0M97.4 282.9h0M103.4 268.1h0M102.7 287.9h0M107.2 271.7h0M99.9 282.2h0M111.0 279.6h0M106.6 281.0h0M119.4 281.0h0M106.8 271.4h0M111.3 286.5h0M112.8 272.1h0M109.4 285.1h0M103.3 281.0h0M116.9 286.9h0M96.3 269.6h0M110.8 282.1h0M105.4 278.4h0M105.0 284.6h0M91.7 279.8h0M98.6 275.0h0M96.7 273.8h0M107.8 278.6h0M121.2 277.4h0M110.6 280.3h0M109.9 286.0h0M109.0 279.3h0M107.2 278.5h0M107.6 283.6h0M108.1 278.9h0M107.6 282.4h0M104.5 283.3h0M103.8 282.0h0M122.2 279.7h0M107.4 272.5h0M113.5 278.6h0M114.7 275.1h0M111.8 287.8h0M111.0 276.8h0M98.4 278.5h0M112.9 281.6h0M99.7 273.2h0M100.8 273.3h0M106.0 279.9h0M122.2 279.5h0M118.8 270.0h0M119.4 282.6h0M111.3 282.7h0M112.6 288.3h0M114.0 269.6h0M95.1 286.8h0M107.4 285.3h0M105.5 275.1h0M105.5 280.1h0M109.4 275.3h0M112.0 281.7h0M101.2 272.8h0M93.5 276.9h0M108.1 274.9h0M103.5 277.8h0M108.2 281.4h0M114.2 280.7h0M116.3 273.5h0M112.5 280.4h0M100.3 275.0h0M111.3 278.9h0M98.7 275.7h0M119.3 282.8h0M108.6 285.4h0M101.3 277.6h0M115.1 276.8h0M99.7 281.5h0M109.1 272.1h0M105.8 271.2h0M108.3 274.9h0M100.7 276.2h0M109.5 287.5h0M110.1 286.5h0M100.1 278.9h0M104.8 270.5h0M109.8 274.6h0M103.7 273.2h0M115.6 276.4h0M106.9 279.4h0M98.9 279.7h0M106.7 280.8h0M105.1 278.7h0M111.8 283.5h0M102.9 283.5h0M100.7 277.5h0M109.0 279.2h0M89.5 273.5h0M106.6 283.2h0M102.8 286.3h0M94.6 278.9h0M112.0 278.6h0M110.0 283.3h0M102.0 281.5h0M115.9 277.3h0M90.8 272.4h0M101.7 273.1h0M111.2 274.4h0M98.3 277.0h0M119.3 282.0h0M100.4 283.8h0M104.5 289.9h0M103.9 281.6h0M112.2 276.2h0M106.9 284.5h0M111.7 278.2h0M111.3 287.5h0M114.9 280.9h0M110.4 270.5h0M109.0 276.0h0M113.4 275.4h0M111.3 273.1h0M114.6 274.8h0M107.8 281.5h0M105.6 278.5h0M115.9 287.6h0M94.6 273.9h0M113.0 283.3h0M104.5 279.0h0M106.6 290.2h0M106.5 272.4h0M96.5 271.9h0M117.7 276.5h0M122.4 281.8h0M110.8 281.8h0M113.9 283.2h0M100.8 275.6h0M103.9 279.0h0M106.1 272.2h0M102.9 287.7h0M110.8 278.3h0M101.7 282.2h0M107.5 287.1h0M111.4 276.9h0M88.4 278.0h0M114.3 274.8h0M114.6 282.0h0M94.9 277.5h0M110.4 282.4h0M109.1 278.4h0M105.4 277.0h0M108.0 273.0h0M112.8 276.8h0M111.9 275.9h0M111.0 279.2h0M114.6 280.9h0M114.9 277.6h0M107.6 277.2h0M98.7 277.9h0M116.1 282.5h0M101.7 280.0h0M113.6 271.5h0M110.6 280.2h0M113.5 279.8h0M95.1 268.2h0M122.7 276.5h0M117.4 285.0h0M108.6 272.6h0M118.1 278.3h0M111.9 281.0h0M115.1 283.7h0M97.5 271.3h0M109.1 278.5h0M113.8 277.8h0M106.7 288.9h0M118.2 284.4h0M115.7 274.5h0M107.4 278.1h0M99.9 274.0h0M109.2 272.3h0M112.0 280.9h0M106.3 276.8h0M112.5 281.0h0M110.7 272.2h0M96.0 289.0h0M103.2 276.6h0M94.5 274.4h0M102.6 282.6h0M88.4 271.3h0M104.9 276.0h0M102.3 276.2h0M96.3 279.9h0M116.9 279.3h0M104.0 285.0h0M111.6 273.2h0M103.8 275.4h0M107.7 284.7h0M102.8 277.7h0M108.8 272.4h0M104.5 281.6h0M116.4 268.9h0M113.2 277.0h0M117.6 281.7h0M122.6 280.1h0M105.1 274.2h0M97.4 281.3h0M111.8 282.7h0M110.6 270.9h0M105.0 277.3h0M109.2 282.4h0M118.5 280.0h0M92.7 273.3h0M92.2 274.6h0M99.1 279.7h0M106.4 284.2h0M116.0 276.2h0M115.0 278.6h0M111.4 285.4h0M99.5 278.2h0M119.4 274.6h0M109.6 279.2h0M104.9 271.8h0M102.9 273.5h0M116.0 279.8h0M113.2 272.4h0M111.7 279.2h0M115.8 274.8h0M114.0 285.5h0M121.4 273.8h0M99.7 271.0h0M115.1 281.5h0M110.5 274.1h0M117.3 286.7h0M107.7 277.9h0M116.8 281.1h0M118.0 276.4h0M110.5 276.8h0M103.8 277.0h0M105.9 281.1h0M105.8 278.9h0M102.0 272.3h0M118.6 273.5h0M121.4 283.3h0M91.0 275.2h0M104.9 278.6h0M106.7 275.4h0M117.3 277.9h0M115.1 275.0h0M102.9 285.3h0M105.9 272.9h0M106.7 283.9h0M106.8 274.8h0M112.7 283.5h0M106.5 276.9h0M106.6 287.4h0M106.9 280.6h0M92.9 279.4h0M108.4 276.9h0M105.0 271.6h0M97.0 279.4h0M103.3 278.0h0M106.7 275.9h0M102.6 287.9h0M99.8 275.9h0M105.8 272.6h0M100.9 282.9h0M114.9 279.2h0M117.1 274.4h0M116.0 287.1h0M105.2 287.7h0M102.0 272.7h0M107.7 274.4h0M112.7 272.9h0M108.6 268.6h0M107.8 283.8h0M106.1 280.1h0M116.1 272.9h0M98.6 278.9h0M110.1 277.1h0M100.8 284.7h0M99.4 277.2h0M107.7 282.2h0M104.7 274.3h0M122.9 274.2h0M113.9 277.7h0M104.5 278.3h0M106.1 280.1h0M89.2 278.4h0M108.6 273.6h0M105.2 290.4h0M121.7 281.8h0M109.7 277.0h0M118.3 276.2h0M102.0 282.0h0M100.9 274.5h0M118.7 270.3h0M107.5 279.1h0M109.9 271.1h0M106.3 276.8h0M122.3 283.6h0M102.4 282.9h0M112.9 277.9h0M106.2 277.1h0M96.6 275.3h0M115.0 285.8h0M121.8 276.6h0M106.0 272.1h0M114.1 270.1h0M100.3 272.9h0M111.0 282.8h0M101.2 287.7h0M109.2 274.3h0M110.6 278.4h0M114.2 280.3h0M103.3 282.5h0M113.7 273.4h0M102.5 274.4h0M89.8 281.7h0M106.4 284.8h0M103.9 278.9h0M113.4 283.4h0M110.4 273.2h0M118.1 286.7h0M118.4 280.6h0M111.5 281.7h0M96.9 282.6h0M100.8 280.6h0M100.6 282.1h0M109.5 281.1h0M101.3 277.0h0M107.6 277.0h0M104.8 274.1h0M113.7 276.6h0M102.0 280.4h0M102.0 277.6h0M104.3 273.8h0M106.4 274.3h0M98.8 280.3h0M105.9 271.1h0M105.1 279.4h0M111.2 280.4h0M109.9 281.5h0M104.4 274.5h0M112.6 276.4h0M108.1 281.8h0M115.0 284.7h0M103.0 276.6h0M112.2 271.3h0M98.8 281.6h0M103.5 273.8h0M114.0 281.2h0M114.8 276.8h0M105.9 276.8h0M110.3 268.2h0M102.9 282.1h0M102.3 278.2h0M109.0 281.1h0M104.6 272.8h0M120.7 269.6h0M108.9 277.5h0M122.1 288.8h0M115.3 273.4h0M102.1 274.7h0M104.3 279.8h0M102.3 277.3h0M118.9 285.8h0M94.3 273.7h0M105.3 285.1h0M105.6 288.2h0M110.8 285.8h0M101.7 276.9h0M115.6 281.4h0M94.3 277.1h0M109.4 281.7h0M103.4 287.3h0M109.2 285.8h0M111.0 278.9h0M105.7 272.6h0M114.4 282.3h0M115.0 276.6h0M100.7 276.6h0M105.8 278.4h0M115.3 273.9h0M104.5 282.0h0M114.7 289.7h0M112.0 274.2h0M100.4 274.5h0M108.6 279.8h0M107.6 275.4h0M106.7 278.1h0M112.4 278.9h0M102.1 272.6h0M119.0 278.1h0M106.8 278.4h0M116.4 276.9h0M109.4 277.3h0M112.3 273.4h0M109.6 283.7h0M116.8 281.6h0M110.3 286.4h0M113.3 285.6h0M99.3 273.0h0M114.0 277.2h0M104.9 273.7h0M119.0 272.5h0M108.9 271.5h0M106.8 289.8h0M100.7 286.7h0M101.8 269.5h0M110.7 273.1h0M97.4 284.2h0M102.7 273.2h0M109.3 277.6h0M116.4 279.0h0M119.8 284.2h0M121.2 284.2h0M108.6 281.3h0M108.3 270.7h0M99.5 282.2h0M90.7 274.4h0M98.7 278.2h0M100.5 279.8h0M106.7 276.1h0M101.9 267.3h0M108.7 272.0h0M105.9 280.4h0M115.8 282.0h0M119.0 271.4h0M113.1 286.4h0M111.0 272.9h0M111.0 275.9h0M103.4 283.9h0M106.8 272.9h0M103.2 288.4h0M101.9 281.9h0M109.4 284.4h0M106.1 273.8h0M103.4 273.3h0M105.8 284.8h0M112.9 277.6h0M112.7 279.9h0M116.4 286.8h0M105.8 278.3h0M106.8 284.7h0M110.9 282.5h0M114.7 275.3h0M109.1 285.5h0M114.9 282.6h0M106.1 276.7h0M101.8 277.2h0M107.7 271.3h0M116.6 274.7h0M110.0 281.5h0M104.1 269.4h0M115.2 280.6h0M106.3 284.2h0M114.7 273.7h0M107.5 269.7h0M106.2 285.6h0M102.0 282.7h0M97.1 277.0h0M115.0 287.2h0M111.4 282.3h0M95.6 288.0h0M108.6 279.8h0M108.3 275.4h0M108.0 277.9h0M113.0 281.9h0M115.3 281.5h0M101.0 285.5h0M88.6 279.1h0M110.5 275.8h0M121.8 273.0h0M99.6 276.0h0M111.2 282.5h0M108.9 281.9h0M103.0 275.5h0M109.1 271.8h0M109.5 276.5h0M113.1 273.4h0M104.3 275.7h0M105.5 273.5h0M106.2 271.7h0M112.0 281.9h0M108.0 277.6h0M101.6 273.7h0M106.5 274.0h0M99.6 279.4h0M108.0 276.5h0M102.2 278.2h0M103.1 276.4h0M109.5 282.1h0M113.6 275.5h0M116.9 272.7h0M106.9 285.1h0M105.5 276.6h0M99.3 277.8h0M105.0 274.7h0M116.8 274.6h0M120.4 282.7h0M112.8 275.6h0M104.4 268.5h0M110.1 277.2h0M110.9 275.1h0M111.7 271.0h0M92.2 280.9h0M117.5 276.8h0M106.9 270.8h0M100.9 282.1h0M102.8 278.3h0M107.0 288.5h0M114.6 271.9h0M104.6 272.7h0M98.0 275.1h0M116.1 278.8h0M113.0 277.8h0M105.0 278.9h0M107.6 288.2h0M121.1 280.4h0M112.5 268.5h0M107.2 290.5h0M102.3 282.6h0M117.0 276.5h0M106.5 276.2h0M113.9 278.6h0M119.0 284.5h0M105.9 275.4h0M106.4 274.1h0M105.1 278.2h0M114.6 270.6h0M98.0 274.6h0M105.9 280.8h0M102.4 286.1h0M104.3 277.4h0M108.5 284.4h0M110.3 278.6h0M104.2 279.4h0M111.0 276.7h0M107.9 269.2h0M104.3 284.5h0M118.4 278.1h0M92.5 287.7h0M105.1 283.6h0M103.6 285.4h0M116.5 273.1h0M106.5 272.4h0M110.1 276.5h0M97.3 273.2h0M109.9 270.8h0M115.9 280.8h0M106.8 285.6h0M101.4 282.0h0M98.3 276.9h0M112.7 275.8h0M107.3 281.8h0M119.1 285.1h0M111.4 277.2h0M97.6 287.2h0M121.6 267.6h0M114.4 278.3h0M113.2 280.1h0M106.7 278.5h0M107.8 284.4h0M106.2 275.8h0M112.8 281.8h0M111.2 279.9h0M118.7 284.1h0M109.6 277.4h0M112.8 269.1h0M104.3 274.9h0M109.3 276.6h0M111.0 289.9h0M108.1 276.9h0M117.0 282.7h0M114.8 284.6h0M105.5 275.2h0M102.9 279.0h0M115.3 273.2h0M104.2 271.7h0M122.5 282.5h0M109.7 272.4h0M100.6 275.2h0M108.3 272.1h0M106.4 284.7h0M108.2 279.0h0M93.0 277.1h0M107.0 275.0h0M98.1 278.1h0M100.7 275.7h0M96.6 278.0h0M114.6 274.2h0M110.4 270.8h0M112.2 281.2h0M105.3 283.0h0M101.7 278.7h0M120.2 278.4h0M100.0 284.3h0M111.9 277.1h0M95.0 269.0h0M97.1 286.0h0M110.2 274.2h0M116.4 285.9h0M102.0 280.9h0M96.2 280.4h0M121.2 271.3h0M108.5 275.3h0M107.4 278.9h0M110.1 283.0h0M111.8 283.8h0M115.4 284.1h0M103.2 280.6h0M105.4 274.2h0M122.2 280.0h0M108.4 267.8h0M106.4 282.4h0M106.6 275.7h0M118.7 276.9h0M105.7 278.0h0M106.4 283.8h0M112.2 278.1h0M105.5 277.4h0M120.2 277.0h0M112.8 270.5h0M110.4 282.0h0M117.2 280.1h0M112.2 280.1h0M115.7 288.9h0M109.5 274.4h0M112.3 277.9h0M112.7 282.4h0M109.2 276.3h0M110.3 272.2h0M110.0 274.0h0M111.3 279.1h0M106.5 272.4h0M108.4 275.1h0M107.1 282.0h0M114.9 272.0h0M114.8 285.4h0M116.2 279.9h0M107.4 287.3h0M105.8 270.8h0M108.7 280.0h0M100.6 272.3h0M122.3 279.1h0M113.7 275.5h0M97.2 277.6h0M117.7 275.1h0M95.2 277.6h0M106.1 278.6h0M100.6 276.9h0M104.2 283.0h0M109.2 282.9h0M107.7 267.7h0M94.0 281.2h0M114.4 282.9h0M107.5 269.4h0M104.5 280.6h0M118.0 276.8h0M104.0 274.6h0M115.4 282.9h0M95.0 284.7h0M101.5 271.0h0M96.6 274.8h0M99.2 275.1h0M109.2 280.6h0M104.7 270.5h0M105.1 275.0h0M95.2 279.2h0M97.6 269.7h0M119.0 283.3h0M118.5 279.1h0M105.1 278.1h0M98.3 282.3h0M110.0 277.0h0M94.7 277.9h0M119.8 285.9h0M114.4 276.7h0M109.1 281.3h0M109.5 283.8h0M90.7 273.9h0M98.2 281.9h0M115.8 278.5h0M112.0 278.9h0M109.3 276.1h0M105.2 284.5h0M106.2 278.3h0M116.7 283.5h0M105.3 279.8h0M100.8 279.2h0M110.4 278.5h0M109.3 280.4h0M89.9 274.3h0M108.6 276.0h0M101.2 277.3h0M119.6 277.3h0M103.4 276.1h0M99.5 281.0h0M101.0 283.1h0M114.6 281.4h0M115.5 278.1h0M95.5 278.2h0M112.7 270.7h0M99.3 284.1h0M111.2 285.3h0M112.9 278.8h0M111.2 282.8h0M107.9 277.4h0M110.3 276.9h0M97.2 271.9h0M115.6 276.4h0M109.2 277.4h0M110.1 271.1h0M108.7 275.6h0M115.9 281.7h0M99.0 273.6h0M112.2 284.6h0M113.6 277.7h0M104.2 273.5h0M100.7 281.4h0M110.1 279.9h0M107.1 281.7h0M113.7 275.6h0M114.8 273.8h0M120.8 271.9h0M106.0 273.0h0M108.4 285.2h0M102.7 287.5h0M118.3 280.5h0M103.8 283.1h0M87.4 274.6h0M115.0 278.3h0M98.5 277.4h0M112.3 287.2h0M95.3 279.3h0M117.2 275.1h0M104.8 272.3h0M113.7 282.7h0M112.4 279.8h0M115.3 277.9h0M113.3 282.7h0M117.5 281.1h0M108.7 282.1h0M96.9 269.5h0M119.8 279.2h0M100.5 275.5h0M107.0 278.9h0M102.6 283.6h0M100.2 287.0h0M113.0 269.9h0M99.2 278.8h0M110.1 276.3h0M108.2 279.3h0M99.8 278.8h0M100.7 281.9h0M117.9 283.8h0M103.5 278.1h0M109.6 277.4h0M111.0 284.0h0M112.1 278.4h0M106.6 287.7h0M99.1 288.8h0M113.5 279.0h0M102.7 287.9h0M117.0 283.2h0M123.4 269.3h0M108.8 276.9h0M102.8 278.9h0M112.0 281.2h0M107.1 271.7h0M112.2 281.6h0M108.2 272.6h0M109.5 282.3h0M111.8 285.3h0M100.5 275.0h0M109.4 272.2h0M103.6 285.6h0M110.3 278.0h0M103.9 278.7h0M107.9 273.0h0M113.9 271.9h0M117.6 276.8h0M91.3 270.5h0M110.2 274.0h0M121.5 285.6h0M118.1 275.4h0M117.7 276.3h0M107.7 271.5h0M108.5 280.6h0M107.6 272.8h0M114.8 283.2h0M107.5 282.5h0M115.4 273.4h0M107.8 268.9h0M100.4 280.7h0M101.6 280.5h0M110.8 267.9h0M104.5 286.3h0M108.2 279.1h0M102.9 270.2h0M106.7 274.0h0M108.9 268.5h0M118.5 287.3h0M102.5 280.2h0M101.4 282.9h0M101.8 277.8h0M117.8 281.2h0M105.7 270.6h0M96.2 284.7h0M111.9 278.8h0M117.5 279.3h0M102.7 278.0h0M107.4 278.4h0M110.1 277.2h0M103.0 273.4h0M94.0 276.1h0M96.7 268.9h0M101.1 268.0h0M118.4 285.0h0M100.8 289.1h0M108.2 273.3h0M95.0 277.1h0M116.7 280.8h0M97.1 275.1h0M102.4 284.4h0M107.4 273.4h0M101.2 268.3h0M101.8 283.2h0M93.7 279.5h0M107.2 282.7h0M99.5 283.2h0M119.7 290.4h0M95.9 278.3h0M106.5 279.1h0M100.7 283.0h0M100.9 275.5h0M113.6 279.2h0M102.3 284.9h0M112.0 283.8h0M106.7 285.2h0M104.6 272.7h0M108.0 271.2h0M117.5 282.3h0M95.4 279.4h0M114.4 276.6h0M111.2 275.5h0M107.5 278.1h0M111.7 273.5h0M99.6 280.2h0M104.2 281.2h0M104.3 271.7h0M113.6 279.9h0M113.6 276.7h0M105.3 285.1h0M95.3 287.6h0M111.9 278.2h0M108.7 281.6h0M102.2 279.9h0M100.9 268.9h0M109.6 279.0h0M112.9 281.4h0M113.3 282.6h0M100.1 284.8h0M98.5 282.1h0M114.9 283.8h0M119.6 271.3h0M110.9 280.9h0M117.5 273.8h0M108.2 276.6h0M106.8 277.7h0M106.9 269.3h0M107.8 278.9h0M102.8 275.1h0M101.5 286.9h0M115.0 277.5h0M100.7 281.0h0M103.5 286.3h0M116.4 277.9h0M112.7 274.3h0M96.1 282.9h0M120.4 276.9h0M104.1 269.1h0M100.7 277.5h0M117.2 278.8h0M107.9 278.6h0M114.4 278.3h0M109.2 278.1h0M99.6 285.5h0M102.8 271.6h0M104.7 278.7h0M114.2 270.8h0M98.5 279.4h0M110.9 272.8h0M99.5 279.4h0M106.9 270.1h0M101.4 286.3h0M100.0 284.0h0M96.5 286.3h0M120.1 275.2h0M102.9 281.8h0M98.7 281.4h0M117.2 279.9h0M110.5 277.7h0M115.6 274.2h0M120.0 278.4h0M105.6 270.0h0M104.7 279.7h0M117.4 270.1h0M107.1 274.9h0M99.0 278.5h0M102.3 283.0h0M87.7 282.3h0M93.7 268.3h0M111.9 276.7h0M109.0 273.5h0M100.1 274.7h0M107.6 274.1h0M104.8 274.0h0M109.8 272.6h0M107.9 279.0h0M115.3 274.6h0M99.4 270.7h0M113.7 275.2h0M115.4 278.1h0M105.9 268.8h0M102.9 282.6h0M103.4 282.0h0M95.6 283.8h0M110.4 272.1h0M104.0 275.1h0M109.4 268.0h0M101.5 282.6h0M109.1 282.4h0M114.4 272.5h0M97.9 280.9h0M108.3 278.9h0M101.9 283.8h0M111.7 284.5h0M105.3 282.1h0M107.6 273.6h0M107.4 269.9h0M106.6 279.4h0M113.2 273.0h0M98.0 274.7h0M92.4 275.1h0M102.3 274.9h0M121.3 272.4h0M107.1 278.1h0M102.5 274.7h0M95.4 274.1h0M117.8 285.9h0M105.9 282.2h0M111.5 279.1h0M107.0 284.8h0M112.3 277.3h0M106.2 283.4h0M103.5 274.8h0M105.9 275.9h0M117.5 280.4h0M107.3 275.7h0M118.6 280.8h0M106.4 275.6h0M105.9 279.4h0M114.0 281.0h0M119.8 270.6h0M108.2 271.1h0M100.3 275.4h0M103.1 273.4h0M96.6 284.4h0M105.6 283.5h0M103.5 283.1h0M103.8 280.6h0M99.9 285.8h0M111.3 284.0h0M105.9 285.2h0M108.5 276.0h0M103.2 278.8h0M101.2 272.3h0M109.0 282.2h0M105.8 282.9h0M119.9 271.9h0M109.9 273.5h0M103.2 279.4h0M90.2 281.7h0M114.3 281.3h0M112.9 288.0h0M105.2 284.2h0M118.9 281.1h0M94.6 277.7h0M105.8 270.1h0M107.5 282.4h0M106.1 277.5h0M119.0 275.3h0M100.9 278.7h0M116.4 281.6h0M108.5 275.9h0M117.3 283.1h0M95.0 280.2h0M89.9 286.3h0M112.6 275.2h0M98.3 276.9h0M94.8 281.4h0M104.2 269.3h0M107.8 284.7h0M98.4 276.6h0M121.6 279.5h0M103.8 279.5h0M113.9 273.3h0M107.3 270.0h0M96.1 270.5h0M114.3 280.1h0M113.5 284.8h0M108.3 279.7h0M111.0 280.9h0M100.0 277.1h0M106.9 278.7h0M102.4 277.8h0M110.2 279.5h0M112.4 282.8h0M112.2 283.5h0M114.3 285.8h0M112.7 275.3h0M117.4 282.3h0M108.4 272.5h0M111.3 276.6h0M105.0 267.4h0M119.6 272.4h0M99.7 280.9h0M112.3 274.4h0M107.9 279.8h0M109.2 281.2h0M113.8 276.6h0M95.8 289.8h0M105.1 273.3h0M113.6 281.5h0M103.4 290.7h0M90.3 285.2h0M107.7 280.1h0M110.4 277.3h0M110.4 271.7h0M105.0 288.1h0M88.6 284.9h0M91.2 274.0h0M114.6 276.4h0M103.6 270.7h0M107.1 277.6h0M103.2 270.4h0M109.2 280.7h0M116.6 281.2h0M119.4 284.7h0M86.7 287.2h0M107.2 273.0h0M111.3 283.5h0M96.3 272.1h0M113.2 275.6h0M119.0 279.6h0M103.9 271.6h0M112.5 269.5h0M98.2 271.7h0M120.8 287.4h0M106.3 276.5h0M113.3 285.0h0M101.9 290.0h0M106.4 284.4h0M90.2 278.2h0M102.7 288.9h0M106.4 271.8h0M122.7 274.9h0M108.0 272.0h0M113.1 279.5h0M105.8 276.4h0M103.7 274.7h0M97.4 284.8h0M114.7 271.2h0M99.2 280.6h0M105.6 277.2h0M109.9 277.6h0M116.2 283.6h0M112.1 286.7h0M106.2 275.6h0M110.7 272.9h0M116.0 267.5h0M107.0 276.4h0M99.9 284.3h0M105.0 280.8h0M104.0 279.3h0M104.6 278.9h0M107.2 274.9h0M111.3 277.5h0M100.7 273.0h0M111.3 285.4h0M98.1 276.3h0M111.4 283.9h0M113.4 272.3h0M108.3 283.2h0M109.8 277.3h0M99.1 279.4h0M107.5 278.7h0M119.3 284.7h0M102.0 279.7h0M105.7 279.0h0M120.3 283.3h0M108.3 275.1h0M106.8 280.4h0M104.2 284.2h0M108.2 272.3h0M106.0 277.9h0M115.4 284.3h0M119.0 286.6h0M110.4 279.1h0M115.7 278.4h0M98.5 276.1h0M113.0 281.7h0M99.7 284.7h0M110.3 270.7h0M111.5 283.7h0M112.0 276.9h0M102.0 284.3h0M109.7 278.5h0M105.0 273.1h0M93.9 276.7h0M116.3 282.5h0M102.9 286.5h0M106.3 273.2h0M115.4 285.7h0M105.1 272.1h0M108.4 286.4h0M110.1 274.7h0M113.3 275.9h0M117.5 276.6h0M123.4 276.7h0M109.4 273.6h0M98.4 280.3h0M110.6 273.4h0M112.2 276.3h0M103.8 278.1h0M111.0 282.3h0M117.3 280.5h0M102.5 274.9h0M110.8 272.3h0M106.7 276.5h0M107.3 279.4h0M115.8 287.0h0M114.7 283.8h0M99.9 283.9h0M117.8 271.4h0M90.1 287.7h0M108.5 274.3h0M103.7 284.1h0M109.9 276.5h0M116.7 273.6h0M101.6 275.6h0M102.4 282.1h0M106.3 273.0h0M104.5 268.1h0M109.2 279.0h0M112.6 277.3h0M111.0 273.6h0M108.2 279.3h0M98.9 281.6h0M109.1 278.8h0M104.4 288.9h0M108.0 274.5h0M101.6 281.6h0M106.4 274.4h0M102.6 283.4h0M108.6 284.0h0M107.9 272.3h0M114.5 280.2h0M103.1 276.9h0M100.7 282.8h0M104.9 281.0h0M110.0 277.1h0M110.8 277.2h0M99.1 276.3h0M99.1 282.4h0M112.9 275.5h0M112.7 279.8h0M115.3 273.6h0M108.2 273.3h0M102.9 285.6h0M92.9 273.7h0M111.7 282.5h0M102.1 267.9h0M95.1 280.4h0M116.3 283.2h0M102.5 285.5h0M106.6 281.7h0M106.6 286.8h0M104.1 267.3h0M105.6 279.5h0M110.1 274.8h0M106.3 272.6h0M106.2 278.9h0M109.8 287.0h0M93.0 281.2h0M111.2 272.5h0M108.5 278.5h0M100.5 282.2h0M122.3 282.0h0M113.8 284.0h0M107.0 283.6h0M101.9 279.4h0M113.3 285.3h0M105.8 277.0h0M111.5 278.1h0M109.0 282.7h0M102.3 283.0h0M110.8 277.1h0M98.6 275.2h0M107.7 283.4h0M93.3 282.2h0M109.4 272.6h0M114.4 280.6h0M111.3 273.4h0M99.7 283.2h0M118.5 280.4h0M106.6 276.2h0M95.2 283.6h0M107.3 284.9h0M102.6 283.9h0M102.7 281.5h0M118.3 274.9h0M114.8 278.5h0M101.0 279.5h0M112.8 274.8h0M106.0 275.6h0M102.3 277.4h0M114.1 275.9h0M117.3 276.5h0M102.9 284.0h0M118.5 275.1h0M112.4 272.5h0M105.0 276.6h0M113.3 272.0h0M104.2 274.9h0M108.7 272.2h0M109.6 270.7h0M114.2 271.7h0M94.0 287.1h0M117.3 274.2h0M99.9 280.9h0M123.1 281.6h0M112.9 272.4h0M94.8 280.5h0M115.5 279.2h0M108.0 285.6h0M101.8 284.1h0M114.2 275.3h0M108.9 279.1h0M112.3 273.5h0M106.3 279.0h0M108.2 278.6h0M109.9 277.5h0M104.3 283.8h0M103.2 276.9h0M101.5 272.6h0M111.3 278.3h0M107.0 280.8h0M106.7 282.0h0M121.4 280.3h0M106.0 287.0h0M113.2 270.0h0M117.8 279.6h0M114.3 272.6h0M101.7 275.2h0M112.1 272.7h0M102.8 283.4h0M103.2 279.1h0M101.4 269.8h0M107.4 277.9h0M97.4 283.5h0M114.0 283.0h0M104.2 272.6h0M107.3 279.3h0M106.7 275.5h0M100.6 274.7h0M107.4 276.0h0M120.3 277.1h0M111.3 276.1h0M106.6 273.5h0M104.4 270.8h0M92.7 285.3h0M100.2 280.7h0M107.1 275.6h0M113.3 275.7h0M111.2 276.6h0M115.1 283.4h0M108.5 284.1h0M111.7 286.4h0M107.1 270.6h0M109.5 279.7h0M105.3 277.4h0M106.0 272.1h0M120.6 274.5h0M100.1 270.4h0M101.8 278.3h0M118.8 281.5h0M102.6 272.1h0M99.8 278.1h0M114.4 276.0h0M119.8 288.3h0M109.1 267.5h0M116.0 278.0h0M112.9 283.5h0M100.6 278.8h0M109.3 274.7h0M113.1 277.8h0M105.0 288.1h0M109.2 286.8h0M106.9 283.8h0M102.5 279.2h0M115.9 267.4h0M111.9 277.1h0M116.0 279.4h0M107.4 272.0h0M105.6 274.8h0M105.8 279.6h0M98.2 283.9h0M106.1 281.5h0M92.5 275.8h0M105.8 276.5h0M103.1 280.1h0M111.0 273.5h0M93.6 282.2h0M105.6 283.9h0M114.4 278.0h0M97.5 276.6h0M102.6 284.8h0M95.5 283.1h0M96.7 275.6h0M97.6 274.9h0M104.7 280.4h0M103.6 282.0h0M120.8 279.3h0M99.5 277.6h0M107.2 276.6h0M116.4 284.4h0M122.6 281.2h0M88.4 277.8h0M112.9 274.4h0M103.6 283.1h0M109.0 272.8h0M107.9 272.3h0M107.6 272.4h0M101.2 275.9h0M99.3 275.7h0M115.7 282.6h0M113.0 276.8h0M108.9 274.6h0M106.6 274.4h0M97.3 273.4h0M122.1 280.5h0M102.4 277.9h0M104.6 284.7h0M107.7 275.2h0M112.9 280.1h0M102.9 274.6h0M109.0 270.1h0M101.3 283.6h0M114.3 284.2h0M104.7 275.4h0M105.9 276.0h0M117.3 277.3h0M117.8 274.9h0M110.7 286.7h0M102.5 275.2h0M103.5 270.3h0M105.8 275.2h0M92.3 283.3h0M114.9 278.3h0M110.0 282.1h0M103.8 278.7h0M109.0 286.9h0M118.2 279.3h0M98.1 283.0h0M107.5 284.4h0M108.3 279.4h0M112.7 274.8h0M103.1 290.2h0M101.6 283.2h0M112.9 282.6h0M117.9 271.7h0M114.9 268.0h0M108.3 280.2h0M115.4 284.0h0M101.1 277.1h0M106.8 274.9h0M101.9 275.1h0M116.3 285.4h0M113.4 287.0h0M108.6 272.9h0M103.1 279.5h0M115.4 284.7h0M101.4 283.4h0M104.0 281.5h0M114.6 286.0h0M104.1 279.7h0M111.0 276.3h0M108.6 281.5h0M95.9 275.2h0M103.8 269.1h0M100.9 281.1h0M112.9 280.8h0M112.2 275.4h0M119.5 272.8h0M111.6 277.1h0M95.4 283.1h0M105.9 282.1h0M117.2 279.3h0M103.1 277.4h0M107.4 285.9h0M114.1 286.6h0M113.4 274.6h0M114.7 283.4h0M107.0 280.9h0M105.6 272.1h0M107.2 282.4h0M105.3 267.1h0M102.1 284.0h0M109.5 284.2h0M102.4 276.4h0M100.6 274.5h0M111.6 279.2h0M104.4 280.0h0M98.4 276.5h0M97.0 270.8h0M98.0 272.9h0M119.4 285.5h0M117.1 275.5h0M112.4 272.7h0M103.9 279.7h0M96.2 279.5h0M112.4 267.9h0M90.1 277.1h0M107.0 279.2h0M99.6 281.4h0M108.8 274.7h0M119.9 279.8h0M113.3 288.0h0M104.3 277.4h0M95.2 277.3h0M112.0 279.5h0M98.7 274.1h0M94.4 271.4h0M108.7 280.0h0M101.2 277.4h0M102.0 281.7h0M112.5 275.6h0M104.5 272.2h0M104.5 289.7h0M107.8 282.9h0M112.1 286.1h0M105.5 273.9h0M115.5 283.2h0M103.0 284.1h0M107.8 278.3h0M121.3 281.2h0M110.2 276.9h0M109.3 283.9h0M111.2 274.6h0M111.2 277.9h0M110.1 277.5h0M91.9 270.2h0M105.1 267.2h0M96.9 288.9h0M112.9 276.1h0M110.3 267.0h0M109.7 283.5h0M109.3 271.8h0M115.0 275.8h0M103.7 279.5h0M105.7 289.0h0M106.9 289.5h0M111.2 272.1h0M107.9 278.8h0M118.4 285.1h0M104.7 290.5h0M101.3 280.3h0M119.7 273.3h0M105.3 274.7h0M111.7 280.6h0M107.6 281.9h0M102.1 276.6h0M111.3 288.9h0M107.6 278.8h0M117.5 278.9h0M117.4 279.7h0M116.3 279.4h0M101.1 274.1h0M111.0 288.2h0M121.5 276.9h0M101.7 283.3h0M96.7 283.2h0M110.6 281.7h0M99.0 280.5h0M114.8 278.2h0M115.4 278.6h0M110.4 276.9h0M97.9 277.7h0M111.5 274.6h0M93.5 270.5h0M117.5 277.3h0M102.3 284.9h0M106.6 270.7h0M104.6 273.9h0M106.5 273.8h0M108.4 280.9h0M103.7 277.5h0M106.7 282.8h0M102.6 282.4h0M117.1 277.5h0M100.8 276.9h0M94.9 275.7h0M99.1 277.6h0M105.2 281.2h0M108.7 280.7h0M107.5 280.0h0M99.6 281.9h0M117.5 284.3h0M98.0 280.7h0M95.9 282.4h0M106.4 276.1h0M85.0 277.9h0M90.8 274.6h0M91.3 280.2h0M95.0 278.8h0M90.8 289.6h0M98.8 280.5h0M80.0 281.8h0M89.6 280.8h0M91.2 279.4h0M89.7 285.4h0M93.9 277.7h0M89.1 288.6h0M84.1 276.6h0M93.4 279.7h0M93.3 285.2h0M99.8 280.9h0M91.2 278.7h0M89.1 283.6h0M80.9 274.2h0M87.3 274.6h0M85.1 284.5h0M73.2 281.7h0M80.6 277.9h0M86.4 274.4h0M79.2 279.3h0M87.8 284.1h0M105.5 277.7h0M84.6 277.7h0M94.6 283.3h0M83.4 281.2h0M90.7 284.3h0M87.7 278.0h0M84.2 272.9h0M93.0 282.3h0M99.8 280.2h0M87.3 274.8h0M81.8 275.7h0M93.6 279.4h0M72.8 278.5h0M88.6 274.2h0M90.7 281.4h0M82.7 272.8h0M88.4 280.2h0M88.9 286.1h0M92.1 274.4h0M97.0 276.0h0M96.4 279.5h0M100.6 274.4h0M96.6 281.0h0M83.8 282.2h0M108.8 280.6h0M84.9 278.3h0M101.2 280.2h0M102.6 276.0h0M101.3 271.7h0M89.6 277.6h0M87.0 284.6h0M86.2 280.6h0M105.6 282.8h0M87.6 275.6h0M75.1 280.7h0M98.0 284.1h0M92.8 288.9h0M97.1 268.4h0M83.9 282.7h0M87.8 282.9h0M111.3 275.5h0M108.5 278.6h0M79.3 279.4h0M98.1 276.3h0M103.5 275.0h0M89.4 283.2h0M89.3 276.4h0M90.8 282.0h0M104.7 285.3h0M105.8 278.9h0M77.8 278.8h0M87.7 274.4h0M86.9 278.7h0M91.4 283.2h0M83.7 284.3h0M91.3 282.4h0M100.8 273.3h0M103.7 275.7h0M94.1 284.0h0M98.3 271.8h0M92.3 284.2h0M90.0 278.6h0M91.5 286.6h0M86.6 274.7h0M82.2 276.6h0M89.1 280.6h0M90.3 271.1h0M78.4 282.1h0M96.7 272.8h0M98.4 267.8h0M109.5 281.7h0M77.7 281.4h0M90.7 276.9h0M88.0 278.0h0M90.2 274.8h0M86.4 281.6h0M95.2 272.9h0M87.1 286.2h0M96.7 286.6h0M80.2 274.2h0M73.6 270.1h0M88.0 274.2h0M82.3 275.8h0M89.5 282.8h0M95.5 270.9h0M102.9 277.5h0M83.0 278.9h0M87.8 272.6h0M103.4 276.3h0M86.2 281.5h0M104.4 281.2h0M83.8 281.0h0M99.8 280.8h0M96.2 276.8h0M90.4 271.2h0M85.2 273.8h0M91.0 285.9h0M73.0 272.9h0M83.5 278.6h0M100.3 275.4h0M84.7 284.6h0M94.0 281.4h0M97.7 275.6h0M92.8 276.0h0M85.2 279.6h0M94.5 273.1h0M84.8 281.8h0M92.3 282.1h0M88.5 275.3h0M97.3 281.8h0M84.9 282.1h0M103.6 277.7h0M83.2 280.2h0M91.7 281.6h0M79.7 280.1h0M98.2 282.2h0M96.0 284.5h0M84.4 284.6h0M92.7 274.4h0M88.6 280.3h0M93.7 285.2h0M92.5 276.6h0M108.5 277.5h0M84.4 283.3h0M87.7 275.4h0M82.5 284.5h0M82.5 279.5h0M87.3 278.1h0M84.4 279.7h0M95.8 283.9h0M88.1 273.6h0M79.1 279.0h0M91.2 279.6h0M79.8 276.0h0M85.0 282.1h0M87.7 281.9h0M95.1 270.1h0M89.1 284.8h0M86.9 279.6h0M90.0 273.4h0M108.5 278.4h0M96.1 277.0h0M102.3 284.3h0M100.5 283.4h0M96.6 285.4h0M94.2 279.7h0M97.5 274.9h0M92.2 275.8h0M88.8 274.6h0M84.2 279.9h0M92.0 282.9h0M90.3 281.9h0M96.5 275.8h0M77.4 275.9h0M89.0 276.6h0M108.7 275.9h0M94.8 275.5h0M96.5 273.2h0M98.6 279.9h0M87.8 273.5h0M104.4 276.4h0M102.6 268.0h0M81.4 287.4h0M105.3 279.1h0M99.0 281.8h0M88.1 279.6h0M81.8 272.9h0M92.0 282.4h0M92.3 273.4h0M97.8 279.5h0M97.0 277.7h0M88.9 283.9h0M102.0 273.5h0M82.1 283.5h0M93.9 279.3h0M83.1 283.7h0M92.5 280.1h0M94.1 276.6h0M94.2 279.7h0M96.8 280.8h0M80.7 275.8h0M88.8 284.4h0M85.8 284.3h0M99.7 283.1h0M109.1 279.0h0M93.6 284.7h0M94.3 283.6h0M90.0 285.6h0M93.8 270.3h0M99.7 278.2h0M83.9 277.7h0M88.7 284.3h0M93.7 278.7h0M90.9 274.9h0M85.9 276.9h0M89.2 273.7h0M87.8 283.7h0M94.6 279.1h0M93.8 278.0h0M81.5 283.1h0M109.0 281.4h0M96.5 290.3h0M81.3 281.5h0M88.3 277.8h0M77.7 278.7h0M94.2 271.7h0M89.2 276.8h0M83.0 282.0h0M104.2 281.0h0M99.3 282.5h0M90.5 281.7h0M101.6 277.1h0M89.8 272.8h0M76.1 275.3h0M98.2 280.7h0M93.1 285.1h0M76.8 285.4h0M91.7 282.6h0M102.1 275.4h0M84.0 280.9h0M90.5 276.4h0M90.0 275.8h0M92.1 277.3h0M104.7 274.3h0M95.7 279.4h0M103.7 274.6h0M87.3 287.0h0M85.7 277.3h0M87.8 274.6h0M100.8 286.0h0M89.8 275.6h0M80.1 282.1h0M86.7 281.6h0M96.0 281.0h0M92.0 279.0h0M88.3 277.0h0M92.2 281.4h0M98.5 278.1h0M100.8 274.8h0M106.4 283.5h0M102.6 286.3h0M81.4 278.6h0M94.8 283.9h0M91.6 273.1h0M100.8 278.3h0M94.5 277.6h0M90.1 272.8h0M96.4 276.2h0M76.7 280.9h0M90.7 283.4h0M97.6 273.5h0M89.6 279.1h0M91.7 274.3h0M91.6 283.5h0M101.0 285.7h0M97.1 267.6h0M88.8 276.6h0M98.3 279.0h0M93.9 281.3h0M89.3 285.3h0M105.7 282.8h0M86.5 280.2h0M98.9 282.3h0M85.5 283.4h0M96.8 281.7h0M87.6 278.9h0M75.7 278.9h0M87.4 277.7h0M88.7 277.6h0M91.7 279.5h0M86.1 278.5h0M90.3 281.3h0M94.5 277.4h0M84.4 271.6h0M81.0 280.9h0M83.6 286.4h0M89.7 277.3h0M89.7 276.6h0M85.9 279.3h0M79.4 279.7h0M90.3 274.9h0M99.2 280.7h0M99.7 276.0h0M81.0 273.7h0M78.4 270.4h0M103.6 276.9h0M92.6 276.6h0M89.8 286.2h0M77.1 274.6h0M92.1 274.9h0M96.6 284.9h0M98.2 282.5h0M89.7 283.6h0M84.6 273.6h0M88.9 277.9h0M100.8 274.6h0M100.2 275.5h0M80.9 271.3h0M90.7 272.5h0M92.7 279.3h0M87.8 270.3h0M86.8 281.1h0M76.7 282.2h0M91.1 276.6h0M92.6 282.0h0M90.8 275.5h0M97.3 275.9h0M93.9 283.5h0M101.5 286.3h0M99.2 279.7h0M89.4 279.9h0M96.3 275.3h0M103.2 271.8h0M99.1 273.2h0M82.3 276.7h0M88.7 272.9h0M96.0 278.5h0M101.8 274.4h0M76.5 282.2h0M89.2 283.5h0M72.2 273.4h0M91.7 287.9h0M81.1 270.4h0M87.4 285.5h0M103.7 272.8h0M86.1 270.7h0M84.2 274.6h0M94.4 284.2h0M110.1 277.4h0M97.6 280.0h0M92.0 287.8h0M96.6 286.1h0M93.4 283.0h0M95.1 278.6h0M85.4 277.2h0M91.1 277.3h0M88.3 275.8h0M97.9 277.9h0M90.1 278.0h0M101.5 276.6h0M102.3 275.1h0M103.3 281.8h0M87.1 281.1h0M100.1 274.7h0M89.2 280.4h0M89.3 277.7h0M91.2 280.4h0M97.2 285.7h0M88.4 287.1h0M90.0 272.4h0M87.5 277.5h0M99.6 269.8h0M85.9 278.4h0M96.3 280.8h0M97.9 278.3h0M89.1 284.5h0M104.8 280.8h0M92.3 275.1h0M107.9 280.8h0M96.0 271.7h0M95.9 290.1h0M89.7 278.1h0M103.3 278.2h0M97.8 287.9h0M81.7 275.2h0M96.5 279.6h0M91.3 278.3h0M92.1 280.6h0M87.2 277.8h0M92.9 274.1h0M94.6 269.0h0M96.1 278.5h0M81.6 285.2h0M81.7 288.4h0M85.2 284.5h0M90.5 286.4h0M89.3 283.7h0M88.5 270.5h0M94.1 281.2h0M94.2 286.6h0M85.2 272.5h0M93.1 275.9h0M90.2 279.0h0M84.5 284.0h0M90.1 287.2h0M93.0 283.8h0M88.7 276.0h0M86.8 275.0h0M94.6 279.7h0M82.4 272.0h0M84.2 270.7h0M84.0 272.1h0M96.7 273.7h0M86.3 278.5h0M91.3 280.9h0M97.1 281.9h0M88.3 284.7h0M94.0 275.8h0M102.9 273.6h0M94.8 284.7h0M91.9 280.6h0M92.0 282.1h0M92.8 279.0h0M96.6 270.4h0M93.0 277.6h0M106.6 280.3h0M85.8 282.0h0M88.0 273.6h0M88.8 281.3h0M100.5 283.8h0M92.9 278.3h0M92.6 284.5h0M90.0 284.3h0M84.7 279.0h0M97.2 282.2h0M92.6 276.7h0M76.8 277.0h0M84.3 277.2h0M103.6 275.5h0M97.8 278.9h0M82.3 279.5h0M97.0 273.6h0M81.9 277.3h0M96.8 276.3h0M94.4 281.1h0M91.1 281.1h0M101.1 278.1h0M93.6 274.2h0M85.3 278.6h0M97.5 276.0h0M80.1 283.2h0M109.8 267.3h0M82.7 279.6h0M94.9 274.7h0M93.7 284.0h0M88.9 282.3h0M92.0 274.8h0M86.2 276.2h0M101.5 284.3h0M92.9 271.9h0M87.2 277.2h0M75.9 278.9h0M93.3 273.0h0M87.7 276.9h0M105.6 282.0h0M97.1 279.4h0M81.0 283.2h0M85.7 270.3h0M96.8 277.4h0M91.0 281.3h0M89.2 280.9h0M101.2 277.5h0M88.3 279.1h0M96.1 277.2h0M91.7 275.9h0M90.4 281.5h0M84.6 278.2h0M79.6 275.8h0M91.6 281.4h0M83.0 278.6h0M83.8 280.4h0M93.1 281.0h0M89.4 272.5h0M86.6 272.9h0M85.7 278.7h0M99.5 276.1h0M85.0 279.9h0M74.9 288.0h0M79.0 283.6h0M98.7 283.4h0M90.2 282.3h0M88.3 283.4h0M85.9 275.3h0M94.0 277.0h0M96.3 275.1h0M93.1 274.6h0M90.2 288.7h0M82.6 273.4h0M78.5 278.0h0M103.7 277.0h0M98.3 278.2h0M86.1 288.1h0M99.4 270.7h0M83.4 280.9h0M96.1 278.0h0M93.5 281.4h0M88.3 283.5h0M84.4 282.4h0M98.1 279.9h0M88.3 278.9h0M73.8 280.2h0M80.0 269.9h0M97.0 274.9h0M93.8 279.2h0M77.3 274.9h0M88.9 281.1h0M91.6 273.3h0M86.9 279.5h0M81.1 277.0h0M86.8 269.4h0M104.4 283.0h0M87.4 283.3h0M82.9 285.9h0M88.1 279.6h0M86.5 279.4h0M93.6 279.1h0M84.6 282.4h0M95.3 279.0h0M99.2 275.7h0M100.9 278.3h0M102.8 277.0h0M89.1 280.0h0M99.5 285.5h0M87.5 275.7h0M96.9 284.6h0M96.5 277.5h0M100.9 278.9h0M92.3 281.8h0M86.6 268.8h0M92.7 282.2h0M94.4 281.5h0M92.3 283.7h0M91.9 285.8h0M91.4 282.6h0M86.7 280.4h0M94.3 279.6h0M103.0 279.2h0M99.7 280.6h0M99.5 274.9h0M88.2 283.4h0M84.7 280.8h0M95.4 279.9h0M94.4 281.5h0M89.2 280.9h0M87.0 277.0h0M78.7 278.5h0M77.9 279.1h0M92.6 274.1h0M91.6 280.3h0M88.3 274.9h0M90.2 280.9h0M98.2 287.8h0M75.7 280.6h0M94.4 276.1h0M93.5 288.5h0M91.9 285.2h0M99.3 277.0h0M73.1 284.3h0M102.9 271.0h0M89.5 275.8h0M92.6 279.3h0M99.9 276.3h0M105.9 271.3h0M90.3 281.9h0M97.9 277.4h0M76.2 280.0h0M96.7 269.7h0M87.2 281.5h0M72.4 278.1h0M78.7 272.9h0M94.2 284.2h0M100.0 276.0h0M94.9 271.0h0M79.6 281.5h0M87.9 274.4h0M76.5 277.9h0M108.3 269.8h0M82.9 284.1h0M76.2 276.2h0M91.5 284.2h0M90.4 287.3h0M90.8 278.5h0M94.4 280.6h0M79.4 274.7h0M89.2 280.6h0M81.5 275.8h0M85.2 280.5h0M87.7 281.7h0M94.0 274.8h0M88.7 273.3h0M91.8 282.7h0M83.4 270.9h0M95.0 277.7h0M90.8 281.1h0M93.9 283.2h0M87.5 269.0h0M87.2 277.6h0M87.8 280.8h0M89.1 284.9h0M86.1 279.0h0M88.2 288.7h0M83.6 274.4h0M88.0 282.5h0M91.1 278.2h0M79.6 269.5h0M89.3 277.9h0M104.7 280.7h0M94.3 283.4h0M84.0 273.4h0M88.1 285.8h0M98.7 276.3h0M81.3 283.2h0M99.5 274.0h0M103.5 275.5h0M96.8 278.1h0M88.4 276.2h0M96.4 281.8h0M97.3 277.7h0M84.4 288.8h0M104.4 278.1h0M82.1 285.8h0M92.0 279.3h0M97.7 280.6h0M91.9 288.1h0M76.2 281.9h0M83.3 279.3h0M89.7 280.2h0M72.1 282.2h0M109.2 277.1h0M98.1 281.9h0M93.3 276.7h0M96.0 280.2h0M102.3 282.8h0M102.8 281.2h0M102.2 274.4h0M101.2 275.8h0M107.3 286.1h0M106.6 283.6h0M103.4 280.1h0M83.8 278.7h0M100.7 277.6h0M96.9 279.8h0M92.6 276.8h0M88.6 270.8h0M93.1 275.5h0M121.0 284.1h0M95.1 281.3h0M85.8 268.3h0M104.3 281.4h0M91.2 278.0h0M113.6 279.0h0M102.3 281.5h0M73.2 270.3h0M83.7 279.4h0M111.4 276.9h0M112.8 290.0h0M78.7 270.4h0M113.9 286.4h0M105.1 280.2h0M108.9 281.9h0M83.6 282.5h0M112.7 275.6h0M88.2 275.1h0M92.4 281.2h0M110.0 278.1h0M96.1 267.4h0M94.5 272.0h0M92.9 280.1h0M88.7 274.8h0M85.2 276.5h0M96.3 284.0h0M74.8 283.4h0M108.3 274.9h0M91.1 279.2h0M106.7 277.1h0M98.0 278.1h0M86.0 279.6h0M107.4 278.3h0M85.3 278.0h0M98.6 279.9h0M94.6 283.0h0M114.0 282.9h0M103.0 285.3h0M99.4 277.0h0M81.5 278.1h0M115.7 272.3h0M110.0 270.5h0M103.8 288.9h0M100.6 271.1h0M103.7 277.1h0M110.2 274.9h0M77.6 275.2h0M107.6 284.1h0M103.5 278.2h0M108.8 276.8h0M94.1 279.3h0M114.1 275.0h0M106.4 274.2h0M90.5 279.0h0M82.8 273.0h0M84.6 274.5h0M107.8 278.4h0M105.6 274.3h0M113.5 275.7h0M83.1 274.3h0M80.2 269.7h0M109.1 274.9h0M108.8 274.7h0M96.9 274.8h0M92.9 274.1h0M119.2 277.7h0M74.7 288.0h0M116.1 284.6h0M98.6 277.1h0M93.7 278.7h0M106.0 278.0h0M89.3 272.3h0M121.4 287.9h0M83.9 274.3h0M99.4 281.5h0M98.4 279.4h0M104.6 284.7h0M83.0 284.4h0M105.6 281.2h0M80.4 276.7h0M96.5 281.8h0M108.7 282.0h0M83.2 285.4h0M100.7 283.5h0M99.7 273.9h0M109.7 275.3h0M97.0 284.5h0M105.6 288.2h0M115.4 271.7h0M79.9 284.8h0M107.6 276.5h0M96.1 274.8h0M123.1 277.1h0M82.0 283.3h0M98.7 280.1h0M94.9 277.8h0M75.5 281.1h0M91.0 275.8h0M103.9 285.5h0M106.9 283.9h0M88.0 279.9h0M105.0 283.4h0M91.8 277.0h0M93.2 284.6h0M113.9 275.5h0M98.0 279.3h0M88.1 277.4h0M111.0 282.5h0M91.0 274.3h0M98.3 269.6h0M103.8 278.7h0M82.5 276.7h0M91.2 276.5h0M88.4 285.9h0M87.3 282.4h0M102.5 286.4h0M99.0 278.1h0M100.7 267.2h0M95.7 271.6h0M98.0 287.3h0M90.0 280.6h0M113.2 283.5h0M94.5 268.0h0M105.1 281.3h0M95.5 275.6h0M122.5 269.0h0M93.1 274.6h0M79.5 274.1h0M89.4 285.2h0M77.1 270.2h0M103.2 269.2h0M73.8 274.5h0M84.1 272.5h0M97.7 280.7h0M91.4 276.5h0M109.0 277.2h0M109.3 274.7h0M106.1 285.4h0M95.6 276.1h0M97.7 280.7h0M84.1 278.3h0M92.2 286.2h0M77.4 281.8h0M95.7 273.8h0M101.5 276.7h0M100.3 279.4h0M115.4 275.8h0M123.4 285.0h0M120.0 279.2h0M103.4 272.3h0M117.1 271.5h0M89.4 278.1h0M102.8 280.0h0M84.7 276.1h0M106.1 284.8h0M109.7 280.4h0M96.4 275.0h0M93.1 277.5h0M106.6 275.2h0M110.3 276.9h0M97.9 275.9h0M119.7 276.4h0M106.9 278.8h0M109.5 281.4h0M121.2 273.9h0M89.1 287.7h0M116.3 278.5h0M96.0 279.5h0M116.6 273.7h0M118.6 277.8h0M95.1 275.8h0M72.6 279.9h0M82.7 274.9h0M88.1 279.4h0M109.1 278.3h0M102.2 280.4h0M120.6 281.4h0M120.1 277.7h0M104.3 274.4h0M107.5 273.2h0M105.9 274.5h0M95.2 285.0h0M101.7 282.6h0M96.7 267.5h0M118.8 277.1h0M91.4 283.4h0M85.1 273.9h0M114.6 274.1h0M114.4 276.4h0M97.0 278.5h0M93.3 284.2h0M114.0 278.5h0M107.7 281.2h0M121.6 269.1h0M113.0 283.3h0M95.7 278.2h0M95.3 285.1h0M84.9 281.5h0M116.4 281.3h0M93.6 275.5h0M72.3 272.3h0M114.0 272.7h0M78.5 276.7h0M80.5 280.7h0M88.5 283.5h0M98.2 270.1h0M89.8 274.4h0M88.8 285.1h0M86.8 280.2h0M92.2 281.4h0M81.3 269.2h0M106.4 286.2h0M81.8 276.3h0M93.2 272.8h0M112.3 278.4h0M81.8 276.9h0M117.1 274.1h0M93.1 273.4h0M101.9 275.0h0M111.3 273.4h0M80.9 280.7h0M103.4 279.5h0M92.3 275.6h0M89.4 277.1h0M93.9 281.2h0M99.9 281.2h0M121.0 276.6h0M96.0 280.2h0M121.7 284.8h0M87.1 280.3h0M117.0 278.4h0M101.9 290.4h0M104.4 290.3h0M88.2 287.4h0M89.1 275.4h0M99.2 282.4h0M108.7 281.1h0M90.1 288.2h0M115.3 278.3h0" stroke="#000" stroke-width="1.1" stroke-linecap="round" fill="none" opacity="0.95"/>
<path d="M69.2 279.9h0M70.3 276.8h0M70.9 277.0h0M72.9 277.0h0M72.4 281.6h0M71.5 282.6h0M67.9 292.2h0M68.9 283.5h0M71.0 278.0h0M76.2 285.3h0M70.1 282.7h0M73.0 287.5h0M74.0 279.3h0M70.2 274.6h0M71.7 284.2h0M69.8 283.2h0M71.4 277.9h0M67.3 285.3h0M78.6 282.7h0M67.7 275.2h0" stroke="#000" stroke-width="1.0" stroke-linecap="round" fill="none" opacity="0.3"/>
<text x="134.2" y="265.6" font-size="11.1" font-weight="normal" text-anchor="start" fill="#000" textLength="29.4" lengthAdjust="spacingAndGlyphs" stroke="#000" stroke-width="0.45" font-family="'DejaVu Sans', sans-serif">CD94</text>
<text x="134.8" y="282.9" font-size="11.1" font-weight="normal" text-anchor="start" fill="#000" textLength="34" lengthAdjust="spacingAndGlyphs" stroke="#000" stroke-width="0.45" font-family="'DejaVu Sans', sans-serif">70.9%</text>
<text x="88.7" y="377.2" font-size="14.9" font-weight="normal" text-anchor="start" fill="#000" textLength="36.3" lengthAdjust="spacingAndGlyphs" stroke="#000" stroke-width="0.2">CD94</text>
<text x="13" y="314" font-size="15.3" font-weight="normal" text-anchor="start" fill="#000" textLength="34.8" lengthAdjust="spacingAndGlyphs" transform="rotate(-90 13 314)" stroke="#000" stroke-width="0.25">CD56</text>
<line x1="142.8" y1="285.8" x2="142.8" y2="429" stroke="#000" stroke-width="1.5" />
<polyline points="137.3,421 142.7,429.7 148.3,420.6" fill="none" stroke="#000" stroke-width="1.3"/>
<line x1="42" y1="415.5" x2="42" y2="540.7" stroke="#000" stroke-width="1.3" />
<line x1="42" y1="415.5" x2="182" y2="415.5" stroke="#000" stroke-width="1.3" />
<line x1="42" y1="540.7" x2="182" y2="540.7" stroke="#000" stroke-width="1.3" />
<line x1="182" y1="415.5" x2="182" y2="540.7" stroke="#000" stroke-width="1.2" />
<line x1="39.5" y1="428.5" x2="42" y2="428.5" stroke="#000" stroke-width="1" />
<line x1="39.5" y1="456" x2="42" y2="456" stroke="#000" stroke-width="1" />
<line x1="39.5" y1="485" x2="42" y2="485" stroke="#000" stroke-width="1" />
<line x1="39.5" y1="516" x2="42" y2="516" stroke="#000" stroke-width="1" />
<line x1="39.5" y1="529" x2="42" y2="529" stroke="#000" stroke-width="1" />
<line x1="40.5" y1="420" x2="42" y2="420" stroke="#000" stroke-width="0.7" />
<line x1="40.5" y1="423" x2="42" y2="423" stroke="#000" stroke-width="0.7" />
<line x1="40.5" y1="433" x2="42" y2="433" stroke="#000" stroke-width="0.7" />
<line x1="40.5" y1="437" x2="42" y2="437" stroke="#000" stroke-width="0.7" />
<line x1="40.5" y1="441" x2="42" y2="441" stroke="#000" stroke-width="0.7" />
<line x1="40.5" y1="445" x2="42" y2="445" stroke="#000" stroke-width="0.7" />
<line x1="40.5" y1="449" x2="42" y2="449" stroke="#000" stroke-width="0.7" />
<line x1="40.5" y1="452" x2="42" y2="452" stroke="#000" stroke-width="0.7" />
<line x1="40.5" y1="461" x2="42" y2="461" stroke="#000" stroke-width="0.7" />
<line x1="40.5" y1="465" x2="42" y2="465" stroke="#000" stroke-width="0.7" />
<line x1="40.5" y1="469" x2="42" y2="469" stroke="#000" stroke-width="0.7" />
<line x1="40.5" y1="473" x2="42" y2="473" stroke="#000" stroke-width="0.7" />
<line x1="40.5" y1="477" x2="42" y2="477" stroke="#000" stroke-width="0.7" />
<line x1="40.5" y1="480" x2="42" y2="480" stroke="#000" stroke-width="0.7" />
<line x1="40.5" y1="490" x2="42" y2="490" stroke="#000" stroke-width="0.7" />
<line x1="40.5" y1="494" x2="42" y2="494" stroke="#000" stroke-width="0.7" />
<line x1="40.5" y1="498" x2="42" y2="498" stroke="#000" stroke-width="0.7" />
<line x1="40.5" y1="502" x2="42" y2="502" stroke="#000" stroke-width="0.7" />
<line x1="40.5" y1="506" x2="42" y2="506" stroke="#000" stroke-width="0.7" />
<line x1="40.5" y1="509" x2="42" y2="509" stroke="#000" stroke-width="0.7" />
<line x1="45" y1="540.7" x2="45" y2="542.2" stroke="#000" stroke-width="0.7" />
<line x1="48" y1="540.7" x2="48" y2="542.2" stroke="#000" stroke-width="0.7" />
<line x1="51" y1="540.7" x2="51" y2="542.2" stroke="#000" stroke-width="0.7" />
<line x1="54" y1="540.7" x2="54" y2="542.2" stroke="#000" stroke-width="0.7" />
<line x1="57" y1="540.7" x2="57" y2="542.2" stroke="#000" stroke-width="0.7" />
<line x1="60" y1="540.7" x2="60" y2="542.2" stroke="#000" stroke-width="0.7" />
<line x1="63" y1="540.7" x2="63" y2="542.2" stroke="#000" stroke-width="0.7" />
<line x1="66" y1="540.7" x2="66" y2="542.2" stroke="#000" stroke-width="0.7" />
<line x1="69" y1="540.7" x2="69" y2="542.2" stroke="#000" stroke-width="0.7" />
<line x1="72" y1="540.7" x2="72" y2="542.2" stroke="#000" stroke-width="0.7" />
<line x1="75" y1="540.7" x2="75" y2="542.2" stroke="#000" stroke-width="0.7" />
<line x1="78" y1="540.7" x2="78" y2="542.2" stroke="#000" stroke-width="0.7" />
<line x1="81" y1="540.7" x2="81" y2="542.2" stroke="#000" stroke-width="0.7" />
<line x1="84" y1="540.7" x2="84" y2="542.2" stroke="#000" stroke-width="0.7" />
<line x1="87" y1="540.7" x2="87" y2="542.2" stroke="#000" stroke-width="0.7" />
<line x1="90" y1="540.7" x2="90" y2="542.2" stroke="#000" stroke-width="0.7" />
<line x1="93" y1="540.7" x2="93" y2="542.2" stroke="#000" stroke-width="0.7" />
<line x1="96" y1="540.7" x2="96" y2="542.2" stroke="#000" stroke-width="0.7" />
<line x1="99" y1="540.7" x2="99" y2="542.2" stroke="#000" stroke-width="0.7" />
<line x1="102" y1="540.7" x2="102" y2="542.2" stroke="#000" stroke-width="0.7" />
<line x1="105" y1="540.7" x2="105" y2="542.2" stroke="#000" stroke-width="0.7" />
<line x1="108" y1="540.7" x2="108" y2="542.2" stroke="#000" stroke-width="0.7" />
<line x1="111" y1="540.7" x2="111" y2="542.2" stroke="#000" stroke-width="0.7" />
<line x1="114" y1="540.7" x2="114" y2="542.2" stroke="#000" stroke-width="0.7" />
<line x1="117" y1="540.7" x2="117" y2="542.2" stroke="#000" stroke-width="0.7" />
<line x1="120" y1="540.7" x2="120" y2="542.2" stroke="#000" stroke-width="0.7" />
<line x1="123" y1="540.7" x2="123" y2="542.2" stroke="#000" stroke-width="0.7" />
<line x1="126" y1="540.7" x2="126" y2="542.2" stroke="#000" stroke-width="0.7" />
<line x1="129" y1="540.7" x2="129" y2="542.2" stroke="#000" stroke-width="0.7" />
<line x1="132" y1="540.7" x2="132" y2="542.2" stroke="#000" stroke-width="0.7" />
<line x1="135" y1="540.7" x2="135" y2="542.2" stroke="#000" stroke-width="0.7" />
<line x1="138" y1="540.7" x2="138" y2="542.2" stroke="#000" stroke-width="0.7" />
<line x1="141" y1="540.7" x2="141" y2="542.2" stroke="#000" stroke-width="0.7" />
<line x1="144" y1="540.7" x2="144" y2="542.2" stroke="#000" stroke-width="0.7" />
<line x1="147" y1="540.7" x2="147" y2="542.2" stroke="#000" stroke-width="0.7" />
<line x1="150" y1="540.7" x2="150" y2="542.2" stroke="#000" stroke-width="0.7" />
<line x1="153" y1="540.7" x2="153" y2="542.2" stroke="#000" stroke-width="0.7" />
<line x1="156" y1="540.7" x2="156" y2="542.2" stroke="#000" stroke-width="0.7" />
<line x1="159" y1="540.7" x2="159" y2="542.2" stroke="#000" stroke-width="0.7" />
<line x1="162" y1="540.7" x2="162" y2="542.2" stroke="#000" stroke-width="0.7" />
<line x1="165" y1="540.7" x2="165" y2="542.2" stroke="#000" stroke-width="0.7" />
<line x1="168" y1="540.7" x2="168" y2="542.2" stroke="#000" stroke-width="0.7" />
<line x1="171" y1="540.7" x2="171" y2="542.2" stroke="#000" stroke-width="0.7" />
<line x1="174" y1="540.7" x2="174" y2="542.2" stroke="#000" stroke-width="0.7" />
<line x1="177" y1="540.7" x2="177" y2="542.2" stroke="#000" stroke-width="0.7" />
<line x1="180" y1="540.7" x2="180" y2="542.2" stroke="#000" stroke-width="0.7" />
<line x1="53" y1="540.7" x2="53" y2="543.2" stroke="#000" stroke-width="1" />
<line x1="72" y1="540.7" x2="72" y2="543.2" stroke="#000" stroke-width="1" />
<line x1="105" y1="540.7" x2="105" y2="543.2" stroke="#000" stroke-width="1" />
<line x1="138" y1="540.7" x2="138" y2="543.2" stroke="#000" stroke-width="1" />
<line x1="170" y1="540.7" x2="170" y2="543.2" stroke="#000" stroke-width="1" />
<text x="25" y="432.5" font-size="6.5" font-weight="bold" fill="#111">10<tspan font-size="5.2" dy="-3.3">5</tspan></text>
<text x="25" y="460" font-size="6.5" font-weight="bold" fill="#111">10<tspan font-size="5.2" dy="-3.3">4</tspan></text>
<text x="25" y="489" font-size="6.5" font-weight="bold" fill="#111">10<tspan font-size="5.2" dy="-3.3">3</tspan></text>
<text x="25" y="519.5" font-size="6.5" font-weight="bold" fill="#111">10<tspan font-size="5.2" dy="-3.3">2</tspan></text>
<text x="29" y="531.5" font-size="6.5" font-weight="bold" text-anchor="start" fill="#111">0</text>
<text x="51" y="556.5" font-size="6.5" font-weight="bold" text-anchor="start" fill="#111">0</text>
<text x="67.5" y="556.5" font-size="6.5" font-weight="bold" fill="#111">10<tspan font-size="5.2" dy="-3.3">2</tspan></text>
<text x="101" y="556.5" font-size="6.5" font-weight="bold" fill="#111">10<tspan font-size="5.2" dy="-3.3">3</tspan></text>
<text x="134" y="556.5" font-size="6.5" font-weight="bold" fill="#111">10<tspan font-size="5.2" dy="-3.3">4</tspan></text>
<text x="165.5" y="556.5" font-size="6.5" font-weight="bold" fill="#111">10<tspan font-size="5.2" dy="-3.3">5</tspan></text>
<path d="M65.2 486.4h0M71.5 466.1h0M73.2 483.2h0M64.6 484.7h0M62.2 480.2h0M69.2 470.6h0M63.4 485.8h0M55.7 481.0h0M71.6 484.6h0M67.5 486.8h0M65.0 484.5h0M59.9 480.7h0M73.2 474.0h0M63.1 473.7h0M61.3 477.0h0M57.8 483.7h0M59.2 485.6h0M73.0 465.1h0M63.1 468.2h0M63.3 484.6h0M65.0 490.1h0M64.7 470.7h0M71.5 475.8h0M63.5 484.3h0M59.6 482.7h0M71.4 470.9h0M55.6 479.1h0M63.1 473.6h0M52.4 488.2h0M65.9 473.3h0M66.8 481.7h0M64.8 473.2h0M62.9 485.3h0M55.2 475.1h0M68.8 495.4h0M67.3 481.6h0M58.5 479.4h0M62.7 485.0h0M62.7 498.6h0M70.6 467.5h0M58.1 482.1h0M68.9 484.8h0M50.2 471.1h0M70.7 486.0h0M76.8 487.4h0M66.3 492.3h0M61.7 478.5h0M58.9 483.7h0M66.2 488.3h0M71.2 486.3h0M70.1 480.4h0M59.2 487.0h0M69.1 491.0h0M63.2 478.9h0M62.2 484.5h0M63.7 480.8h0M65.3 480.1h0M65.7 478.1h0M56.2 480.0h0M73.5 476.7h0M68.6 491.1h0M61.3 483.8h0M52.5 485.9h0M71.7 483.3h0M54.0 478.2h0M60.3 482.8h0M65.4 479.3h0M62.4 476.6h0M66.9 483.4h0M65.7 478.7h0M66.5 480.1h0M65.5 481.0h0M60.7 474.7h0M54.6 472.9h0M66.3 503.9h0M55.8 476.6h0M63.9 506.0h0M63.0 474.2h0M66.1 496.1h0M50.0 474.2h0M70.2 474.2h0M63.5 477.8h0M67.8 472.3h0M65.5 483.5h0M66.8 484.9h0M64.8 470.1h0M62.4 475.7h0M66.7 480.5h0M64.8 489.5h0M63.5 493.4h0M68.2 472.0h0M61.1 490.3h0M61.5 490.1h0M61.2 481.2h0M69.1 471.4h0M64.4 479.0h0M64.8 493.6h0M66.5 472.9h0M68.8 479.0h0M64.8 489.9h0M62.4 488.5h0M64.9 475.9h0M62.4 472.9h0M69.9 483.1h0M68.8 474.5h0M68.2 474.0h0M65.4 481.9h0M61.0 484.1h0M64.2 476.2h0M60.3 473.2h0M70.9 483.0h0M62.2 486.7h0M59.7 474.2h0M65.8 492.7h0M65.5 483.1h0M72.7 471.6h0M79.3 474.6h0M63.6 472.9h0M57.9 480.4h0M76.2 475.6h0M60.9 483.8h0M58.9 480.3h0M68.1 467.3h0M62.5 480.0h0M61.4 481.2h0M55.0 479.0h0M61.4 475.0h0M70.3 495.6h0M68.0 476.1h0M71.1 485.4h0M59.9 486.1h0M61.1 485.9h0M68.6 489.8h0M58.7 481.1h0M64.0 473.7h0M66.1 486.7h0M57.1 478.3h0M58.5 473.4h0M58.7 491.3h0M60.7 479.3h0M68.9 489.0h0M71.0 467.9h0M67.8 470.1h0M60.8 479.2h0M61.1 495.3h0M63.2 490.0h0M63.1 481.6h0M66.6 485.0h0M66.5 470.2h0M66.5 484.2h0M67.0 481.6h0M66.0 473.2h0M69.7 473.8h0M71.0 488.9h0M63.7 480.0h0M67.9 479.9h0M58.1 483.9h0M57.9 478.9h0M73.0 487.5h0M61.7 481.5h0M60.8 481.9h0M56.8 486.6h0M64.1 477.8h0M60.9 499.9h0M61.8 478.8h0M61.1 478.6h0M70.5 486.6h0M66.1 484.5h0M58.3 465.6h0M71.6 486.9h0M65.1 483.9h0M65.0 482.1h0M62.7 466.8h0M66.8 482.3h0M68.9 484.1h0M62.6 486.1h0M64.9 479.0h0M62.1 479.1h0M62.5 479.0h0M68.9 501.9h0M63.4 489.6h0M54.1 460.0h0M61.6 480.9h0M60.3 472.7h0M59.7 478.5h0M64.8 479.7h0M58.0 479.5h0M71.6 476.0h0M64.3 488.9h0M60.0 478.1h0M78.5 490.4h0M61.4 483.1h0M64.5 483.0h0M66.3 480.0h0M52.9 475.5h0M64.8 472.7h0M62.4 492.2h0M65.2 477.5h0M64.7 489.1h0M55.4 473.5h0M60.7 479.0h0M63.6 478.1h0M64.5 482.6h0M58.2 477.8h0M57.8 484.0h0M65.3 486.4h0M59.6 478.4h0M52.9 482.1h0M55.9 484.4h0M69.4 485.0h0M67.1 483.5h0M65.9 488.4h0M70.3 495.7h0M62.7 487.7h0M68.3 484.9h0M65.3 473.4h0M69.4 476.0h0M60.7 476.2h0M66.8 475.4h0M66.3 485.8h0M64.5 479.7h0M67.0 490.9h0M61.7 474.9h0M61.0 476.0h0M62.8 480.9h0M52.5 491.9h0M59.9 479.1h0M54.2 468.6h0M58.9 483.6h0M68.2 469.7h0M65.1 492.3h0M62.6 488.2h0M65.6 475.7h0M69.0 477.9h0M65.8 479.3h0M62.9 483.0h0M70.6 470.6h0M58.4 482.7h0M68.9 480.7h0M63.1 485.6h0M71.9 475.9h0M56.0 480.1h0M67.8 473.1h0M69.6 488.4h0M67.9 476.3h0M57.5 486.4h0M65.3 486.7h0M57.3 461.9h0M69.6 488.8h0M62.6 482.0h0M66.3 487.1h0M63.1 478.5h0M59.1 489.0h0M64.5 458.9h0M65.7 478.1h0M57.6 478.5h0M57.6 478.9h0M61.3 485.5h0M58.9 469.7h0M61.0 472.7h0M67.7 480.6h0M55.7 476.1h0M63.9 481.7h0M54.8 481.1h0M65.5 488.7h0M69.5 481.2h0M57.5 479.5h0M67.2 475.8h0M70.3 475.5h0M58.4 487.6h0M63.5 484.2h0M62.5 482.2h0M61.1 494.8h0M67.3 481.1h0M66.4 487.6h0M61.4 483.2h0M65.0 478.2h0M60.1 480.6h0M62.5 479.2h0M54.3 482.5h0M67.3 482.5h0M72.5 487.8h0M62.2 477.4h0M66.5 479.5h0M55.9 482.8h0M62.5 480.5h0M67.1 483.3h0M74.1 477.0h0M63.5 484.1h0M61.8 478.5h0M72.7 472.2h0M65.7 470.1h0M65.7 469.0h0M58.2 489.7h0M71.7 482.9h0M50.4 488.9h0M65.2 474.5h0M62.2 473.1h0M63.5 481.4h0M64.6 487.3h0M60.8 467.1h0M58.2 473.5h0M62.2 479.0h0M63.8 491.2h0M64.1 474.7h0M62.5 476.1h0M62.8 485.9h0M58.4 486.7h0M72.9 492.3h0M72.1 482.6h0M57.3 495.5h0M63.7 483.6h0M62.2 475.6h0M67.1 472.6h0M57.1 485.7h0M62.1 476.3h0M66.5 491.6h0M62.6 481.1h0M66.8 488.3h0M69.1 486.6h0M60.7 485.6h0M64.0 470.5h0M70.2 485.9h0M70.8 481.6h0M67.6 481.5h0M64.8 488.1h0M64.3 486.1h0M63.8 490.3h0M67.2 470.8h0M72.3 485.0h0M61.5 477.8h0M73.9 482.6h0M66.5 486.0h0M61.0 493.8h0M74.5 476.8h0M69.7 471.0h0M62.3 482.4h0M64.3 485.8h0M66.0 484.5h0M63.3 484.0h0M61.2 495.2h0M64.3 490.3h0M64.5 481.0h0M63.1 473.3h0M74.3 484.8h0M64.7 478.9h0M70.4 479.8h0M61.7 478.4h0M71.7 484.1h0M63.3 477.7h0M70.4 483.9h0M62.4 488.0h0M68.4 475.3h0M69.7 489.3h0M62.8 473.1h0M69.4 479.7h0M63.0 480.1h0M62.7 487.6h0M58.6 485.6h0M69.8 489.1h0M67.6 483.8h0M63.0 481.2h0M59.7 493.2h0M63.4 475.3h0M68.1 492.1h0M65.4 479.9h0M58.5 486.3h0M62.8 477.6h0M67.0 473.4h0M67.7 465.8h0M61.0 472.5h0M62.8 487.3h0M57.6 491.1h0M60.7 478.8h0M68.9 477.1h0M71.2 480.7h0M63.6 475.6h0M69.7 481.6h0M61.7 475.7h0M60.9 481.4h0M60.5 487.3h0M63.9 477.9h0M66.3 491.5h0M53.8 484.4h0M69.4 482.9h0M68.1 471.8h0M60.4 488.7h0M63.6 482.4h0M67.1 484.5h0M66.3 478.7h0M62.6 490.7h0M61.6 472.4h0M62.3 488.0h0M72.9 483.0h0M61.0 486.1h0M65.5 489.9h0M66.6 487.0h0M66.6 484.8h0M59.6 480.9h0M71.9 490.9h0M68.8 484.6h0M63.5 484.3h0M62.5 489.2h0M62.6 477.0h0M56.2 492.3h0M60.4 476.3h0M66.1 493.9h0M67.4 479.8h0M66.9 476.5h0M62.9 482.2h0M64.2 487.2h0M66.7 494.5h0M68.2 480.1h0M65.4 476.4h0M61.1 479.8h0M69.1 477.4h0M56.5 475.3h0M58.3 480.8h0M62.6 474.3h0M60.3 479.3h0M66.0 486.1h0M70.6 480.3h0M67.2 482.5h0M58.8 477.8h0M74.8 481.0h0M72.2 487.5h0M72.2 480.8h0M68.7 480.0h0M58.8 474.3h0M66.3 471.4h0M65.9 476.3h0M65.9 472.9h0M68.3 480.5h0M56.7 472.5h0M64.5 471.2h0M65.8 485.2h0M61.0 491.3h0M71.2 484.1h0M66.4 485.1h0M62.9 490.7h0M61.6 465.4h0M64.3 484.9h0M68.2 474.7h0M70.9 476.6h0M67.2 486.8h0M65.1 489.5h0M61.8 495.6h0M66.6 479.2h0M76.8 482.0h0M56.3 491.4h0M71.7 478.2h0M59.4 489.5h0M64.5 475.7h0M61.9 482.5h0M69.0 492.4h0M61.2 492.2h0M56.9 486.7h0M63.5 484.9h0M62.1 477.3h0M65.6 489.5h0M53.5 482.4h0M62.3 474.9h0M57.7 485.4h0M66.9 486.3h0M54.6 471.9h0M61.2 479.2h0M72.7 479.5h0M64.8 488.6h0M72.3 484.5h0M65.9 494.8h0M62.3 470.1h0M60.6 479.9h0M70.5 484.1h0M70.0 482.7h0M64.4 478.2h0M58.2 485.4h0M66.0 485.8h0M61.6 479.2h0M66.0 486.0h0M73.8 476.2h0M69.0 487.9h0M62.9 482.9h0M63.9 492.1h0M76.5 484.2h0M63.0 488.3h0M66.6 480.8h0M67.9 487.8h0M62.3 487.7h0M53.4 473.5h0M62.7 483.1h0M57.2 491.8h0M62.4 483.0h0M64.0 487.0h0M61.4 486.9h0M60.2 472.2h0M66.7 483.1h0M68.5 469.2h0M64.7 477.8h0M63.3 479.4h0M62.4 477.6h0M72.2 468.1h0M51.4 489.6h0M79.9 478.1h0M57.3 473.8h0M56.4 499.1h0M69.6 495.4h0M67.0 488.5h0M59.8 475.9h0M69.1 511.9h0M61.5 499.3h0M58.9 486.4h0M77.5 485.3h0M69.3 480.2h0M78.9 473.2h0M68.7 483.5h0M65.9 489.8h0M74.5 495.2h0M72.5 489.9h0M56.1 500.0h0M76.2 491.1h0M70.5 483.6h0M53.2 496.3h0M58.7 506.0h0M69.7 485.8h0M59.6 487.1h0M56.5 482.1h0M76.7 482.9h0M78.6 485.0h0M67.6 476.4h0M62.0 481.4h0M53.6 506.2h0M68.9 485.1h0M55.9 486.4h0M56.2 475.9h0M62.9 508.6h0M50.8 491.9h0M60.1 455.7h0M53.4 484.6h0M64.8 478.1h0M78.1 491.6h0M59.4 468.8h0M65.7 479.0h0M72.2 475.1h0M73.6 481.2h0M65.8 483.2h0M69.1 498.0h0M60.1 476.6h0M79.0 496.0h0M79.1 496.0h0M65.3 503.1h0M59.1 481.5h0M61.2 493.2h0M57.7 484.2h0M57.7 483.6h0M73.0 497.7h0M62.6 512.7h0M58.8 490.8h0M60.6 462.8h0M55.1 499.0h0M51.4 516.7h0M63.3 488.9h0M74.0 486.3h0M59.3 479.6h0M57.0 491.8h0M60.6 491.4h0M52.6 481.5h0M80.3 489.8h0M63.5 498.5h0M66.4 502.1h0M55.2 494.1h0M56.0 493.2h0M83.4 502.1h0M57.6 490.4h0M67.8 478.5h0M66.1 474.8h0M71.8 495.6h0M63.0 493.2h0M82.8 484.3h0M49.7 489.5h0M60.7 477.8h0M71.3 496.5h0M68.9 503.2h0M59.3 481.6h0M67.5 457.6h0M62.6 486.6h0M56.8 488.4h0M72.4 479.4h0M68.6 484.4h0M63.0 487.2h0M76.0 491.5h0M69.6 487.6h0M47.5 495.9h0M64.1 487.0h0M60.3 469.8h0M75.8 505.3h0M76.4 466.7h0M68.5 473.6h0M62.8 480.6h0M59.4 477.9h0M60.4 494.2h0M76.7 495.8h0M64.1 484.5h0M62.3 485.8h0M59.4 484.1h0M70.8 483.7h0M57.8 484.7h0M64.9 485.2h0M62.1 493.4h0M63.8 475.4h0M68.6 478.5h0M70.2 494.6h0M67.9 489.3h0M53.7 483.9h0M65.1 492.7h0M55.4 484.4h0M52.2 487.9h0M64.8 487.3h0M77.1 493.8h0M62.6 479.9h0M60.7 494.3h0M71.3 480.7h0M63.2 481.5h0M69.5 488.0h0M58.5 476.7h0M74.3 471.3h0M50.0 453.6h0M80.1 480.4h0M70.8 491.9h0M70.7 498.0h0M60.5 485.8h0M71.9 491.9h0M58.2 478.1h0M52.8 488.8h0M60.0 469.7h0M59.8 489.4h0M65.6 483.7h0M65.4 492.9h0M54.7 477.4h0M71.8 493.8h0M53.1 478.4h0M75.5 493.9h0M63.0 496.8h0M74.9 500.9h0M53.2 472.4h0M60.1 485.5h0M61.4 488.6h0M75.8 497.6h0M71.9 486.0h0M77.1 490.8h0M66.1 485.8h0M49.7 508.7h0M64.0 495.5h0M82.0 484.0h0M55.0 496.7h0M66.0 476.1h0M71.7 486.2h0M56.7 459.4h0M56.3 490.1h0M56.0 496.2h0M81.5 489.4h0M65.9 485.2h0M70.9 486.4h0M72.3 501.0h0M70.9 475.9h0M69.4 483.3h0M66.6 496.2h0M58.9 488.2h0M75.7 477.3h0M62.6 493.7h0M62.3 496.8h0M56.2 470.3h0M67.1 484.6h0M66.6 496.1h0M72.4 482.4h0M61.1 465.7h0M56.5 488.6h0M65.9 470.5h0M70.4 485.6h0M72.8 482.3h0M71.8 474.4h0M49.5 477.6h0M69.7 490.3h0M49.2 487.6h0M69.4 503.6h0M70.3 491.4h0M51.7 489.9h0M48.6 483.0h0M61.2 475.9h0M56.1 484.6h0M68.7 479.3h0M66.5 493.5h0M64.0 506.0h0M61.7 478.4h0M49.1 497.2h0M69.5 484.1h0M66.6 484.7h0M71.0 485.9h0M65.9 485.2h0M57.1 462.9h0M68.4 473.0h0M67.3 492.7h0M79.0 478.3h0M65.3 495.9h0M58.8 479.9h0M67.7 507.6h0M72.7 496.0h0M56.5 492.9h0M73.2 472.9h0M64.2 484.0h0M69.2 467.9h0M69.7 486.0h0M62.0 464.0h0M47.7 480.4h0M69.3 490.5h0M70.1 468.3h0M65.7 500.1h0M51.9 492.8h0M58.4 491.7h0M64.9 469.1h0M55.8 499.3h0M63.3 498.9h0M66.8 495.3h0M61.0 488.3h0M61.2 495.5h0M59.6 497.6h0M76.6 473.4h0M62.8 491.7h0M78.2 498.0h0M64.8 468.0h0M70.8 479.9h0M65.7 490.2h0M53.0 497.1h0M71.4 492.0h0M68.8 489.7h0M53.1 480.7h0M70.6 482.6h0M64.3 489.9h0M64.8 488.7h0M68.0 486.0h0M55.4 483.2h0M71.7 479.0h0M67.8 489.2h0M57.1 456.7h0M64.0 478.0h0M59.2 495.7h0M58.0 489.6h0M65.0 488.1h0M79.9 465.5h0M71.7 484.5h0M61.9 479.1h0M64.4 486.5h0M56.9 503.0h0M58.2 484.6h0M54.1 487.6h0M66.9 497.3h0M71.9 480.8h0M76.8 484.9h0M76.4 503.8h0M60.9 474.9h0M68.4 500.9h0M107.1 535.8h0M108.1 534.3h0M111.9 525.9h0M97.8 527.2h0M101.0 519.6h0M104.2 533.1h0M95.6 517.3h0M109.2 521.7h0M103.1 537.6h0M110.8 530.5h0M107.8 508.8h0M107.9 530.7h0M97.9 529.3h0M107.4 527.2h0M109.1 534.2h0M105.3 526.3h0M99.0 536.1h0M102.1 530.3h0M112.9 533.5h0M98.5 527.4h0M101.4 516.4h0M101.0 532.1h0M106.8 526.5h0M106.0 519.8h0M101.1 526.8h0M109.1 525.8h0M104.2 530.4h0M112.6 519.1h0M107.8 529.3h0M104.7 529.8h0M94.9 528.2h0M103.8 519.3h0M109.4 527.2h0M103.3 533.4h0M100.3 522.9h0M109.3 534.2h0M115.4 524.8h0M97.6 517.5h0M98.9 528.8h0M103.8 523.3h0M99.9 523.1h0M103.2 536.4h0M108.3 537.7h0M109.3 533.4h0M111.1 531.2h0M112.9 536.0h0M114.4 529.5h0M103.6 531.7h0M103.1 523.1h0M107.3 520.1h0M104.2 538.0h0M105.7 533.8h0M108.3 530.7h0M105.6 532.3h0M100.1 532.1h0M99.5 522.7h0M102.0 518.6h0M95.0 530.7h0M107.6 532.7h0M116.4 529.2h0M108.9 522.7h0M108.7 520.0h0M115.2 521.2h0M102.9 533.3h0M93.8 537.5h0M100.2 529.4h0M110.1 529.1h0M109.8 524.5h0M108.1 512.6h0M112.8 523.3h0M100.6 528.1h0M113.8 523.0h0M104.9 525.5h0M100.3 518.8h0M108.1 533.0h0M101.2 529.6h0M107.3 530.7h0M104.2 528.3h0M106.4 520.5h0M104.3 533.6h0M102.2 537.3h0M103.8 520.2h0M103.5 518.5h0M108.2 516.8h0M105.1 526.3h0M103.5 531.0h0M106.5 524.1h0M109.2 524.8h0M109.6 537.5h0M107.0 534.5h0M98.2 532.0h0M97.4 526.8h0M108.6 509.1h0M101.0 522.6h0M100.2 528.2h0M108.3 519.8h0M101.8 514.9h0M101.4 513.2h0M97.3 531.3h0M109.5 522.3h0M106.8 522.5h0M92.4 521.9h0M101.7 524.6h0M113.0 539.1h0M104.9 532.5h0M96.9 525.9h0M103.5 526.9h0M106.5 517.0h0M96.1 528.4h0M108.7 531.5h0M105.3 516.6h0M102.6 517.0h0M115.1 530.5h0M108.7 529.4h0M103.0 536.3h0M109.5 532.5h0M108.0 533.2h0M103.6 531.1h0M105.4 526.2h0M94.6 538.2h0M102.8 536.5h0M99.8 526.7h0M110.3 527.5h0M106.8 519.5h0M99.1 539.8h0M105.8 527.4h0M97.9 520.7h0M99.7 527.7h0M104.4 523.7h0M101.6 528.8h0M111.0 518.1h0M97.7 536.0h0M97.7 525.1h0M94.5 507.5h0M104.6 535.6h0M105.7 522.3h0M106.0 513.5h0M109.2 538.5h0M104.0 533.8h0M99.6 538.4h0M101.7 522.4h0M101.1 515.5h0M97.7 526.6h0M107.3 524.0h0M97.0 530.4h0M110.2 528.7h0M99.5 525.9h0M95.1 527.6h0M111.3 535.9h0M104.6 531.1h0M102.3 528.9h0M101.9 529.2h0M102.3 529.4h0M108.6 527.9h0M98.4 531.5h0M103.7 524.5h0M107.9 522.1h0M109.8 532.0h0M101.5 523.1h0M104.4 521.6h0M109.9 512.0h0M105.8 525.5h0M99.4 532.5h0M102.5 531.2h0M102.8 526.0h0M107.7 534.8h0M110.1 527.9h0M112.6 525.6h0M98.0 514.8h0M97.6 521.9h0M95.9 530.3h0M105.2 527.8h0M106.2 527.2h0M103.7 525.8h0M105.2 520.0h0M111.5 538.9h0M100.0 534.4h0M96.7 532.3h0M101.2 535.1h0M105.6 534.7h0M108.1 531.7h0M103.6 539.3h0M106.8 531.4h0M112.3 526.2h0M113.9 535.7h0M105.4 517.7h0M111.2 525.8h0M105.5 528.9h0M109.9 532.5h0M95.7 523.3h0M106.8 529.2h0M109.1 532.0h0M113.3 522.9h0M111.7 530.7h0M106.6 532.9h0M103.3 533.1h0M104.0 533.1h0M101.1 536.3h0M97.2 523.4h0M104.8 529.7h0M100.9 525.2h0M106.3 535.5h0M111.6 524.6h0M104.7 525.8h0M97.2 524.8h0M110.8 518.5h0M119.6 535.0h0M113.9 529.3h0M93.3 531.1h0M113.2 523.9h0M111.5 533.4h0M109.0 533.3h0M108.0 532.6h0M111.1 531.0h0M108.3 531.1h0M105.7 521.8h0M95.9 520.8h0M98.7 517.5h0M108.6 525.7h0M109.0 524.7h0M107.0 526.6h0M113.2 537.1h0M109.3 534.3h0M99.1 523.7h0M105.9 526.5h0M102.4 513.8h0M101.2 527.3h0M106.6 520.4h0M105.9 514.1h0M104.1 528.1h0M111.5 529.4h0M112.1 530.4h0M111.0 537.6h0M112.9 529.4h0M98.8 529.4h0M107.5 523.0h0M109.3 526.9h0M109.1 529.4h0M100.3 535.5h0M115.3 534.6h0M106.5 515.8h0M106.7 527.8h0M101.0 514.4h0M107.3 535.0h0M95.4 530.5h0M104.9 538.2h0M104.9 521.1h0M104.8 531.1h0M101.3 522.4h0M106.4 534.3h0M103.9 531.5h0M102.5 525.6h0M106.0 534.9h0M113.2 527.1h0M109.3 525.5h0M107.1 517.9h0M94.4 522.6h0M101.4 518.5h0M110.3 524.8h0M105.5 528.6h0M104.0 519.7h0M114.9 513.9h0M104.9 533.0h0M104.0 527.3h0M106.6 529.7h0M103.4 535.7h0M107.6 538.8h0M105.5 513.8h0M96.7 524.4h0M107.4 516.4h0M102.2 536.9h0M106.8 523.0h0M104.5 528.9h0M102.9 525.8h0M101.8 529.6h0M113.1 538.4h0M104.5 518.0h0M97.5 529.1h0M106.3 523.5h0M101.0 526.5h0M106.4 532.9h0M107.9 511.1h0M102.1 529.9h0M107.0 533.8h0M97.5 539.2h0M99.0 526.6h0M102.7 524.7h0M101.2 533.9h0M109.1 530.6h0M98.6 523.6h0M104.8 530.9h0M102.3 526.1h0M118.4 528.5h0M103.6 510.5h0M101.3 539.7h0M109.4 519.5h0M109.1 529.3h0M101.1 533.7h0M102.0 525.9h0M105.2 529.6h0M102.9 530.2h0M105.1 529.4h0M107.1 523.5h0M98.2 527.5h0M111.3 530.4h0M106.2 522.8h0M99.3 519.2h0M100.5 525.4h0M97.3 527.2h0M97.2 532.7h0M105.0 515.5h0M102.3 529.7h0M107.0 533.6h0M103.3 527.0h0M103.9 531.9h0M101.6 526.9h0M105.8 525.6h0M99.6 537.7h0M107.6 521.5h0M115.0 522.6h0M100.7 525.4h0M107.8 538.7h0M112.0 532.0h0M105.4 532.8h0M101.1 523.0h0M107.8 529.5h0M106.3 520.8h0M106.3 517.8h0M109.8 528.1h0M101.9 524.7h0M101.6 537.8h0M90.5 536.1h0M105.2 529.9h0M100.3 518.7h0M106.3 524.9h0M107.6 535.6h0M104.5 531.9h0M106.0 529.7h0M102.5 529.8h0M107.3 528.6h0M102.8 517.7h0M99.7 539.2h0M110.2 530.2h0M106.6 527.0h0M108.5 534.9h0M103.8 530.3h0M109.9 516.8h0M100.4 524.0h0M99.3 524.9h0M100.9 525.2h0M107.5 519.7h0M105.6 537.9h0M106.1 519.3h0M102.1 536.4h0M103.8 523.6h0M109.0 523.0h0M99.5 532.4h0M105.2 523.4h0M107.4 535.9h0M110.5 528.8h0M107.4 531.6h0M97.7 539.9h0M101.8 524.1h0M101.0 521.2h0M110.6 528.1h0M102.2 515.0h0M105.9 527.7h0M99.9 527.4h0M95.9 532.7h0M99.0 531.6h0M105.6 512.9h0M99.5 523.4h0M109.1 532.3h0M103.7 524.4h0M95.7 520.7h0M107.9 522.1h0M100.7 534.9h0M92.8 538.0h0M111.6 515.3h0M107.5 528.0h0M109.6 525.6h0M104.5 538.1h0M102.1 531.1h0M108.3 527.3h0M109.5 531.8h0M109.3 515.9h0M99.9 530.2h0M110.9 538.3h0M105.2 522.7h0M99.6 514.2h0M102.6 532.2h0M104.7 517.5h0M104.6 528.4h0M101.4 538.5h0M107.3 535.9h0M105.6 521.1h0M110.5 536.0h0M102.2 518.6h0M109.2 524.0h0M99.3 527.5h0M107.9 522.7h0M105.3 535.2h0M108.8 517.0h0M109.7 527.5h0M107.0 516.8h0M102.2 524.4h0M115.5 528.1h0M111.3 516.3h0M104.1 516.0h0M110.3 511.8h0M114.4 520.5h0M107.8 530.6h0M109.4 521.0h0M109.5 526.1h0M107.7 529.7h0M112.0 518.9h0M98.2 532.7h0M116.9 532.0h0M104.3 532.9h0M99.1 528.7h0M96.7 528.9h0M102.6 534.7h0M111.8 520.6h0M103.7 514.8h0M100.8 531.2h0M95.0 525.9h0M108.7 538.4h0M92.7 530.8h0M102.0 511.6h0M100.1 532.3h0M105.0 533.1h0M103.6 532.8h0M100.3 521.1h0M104.3 515.5h0M111.3 526.3h0M100.2 521.9h0M100.3 529.0h0M103.3 534.3h0M99.4 527.6h0M97.6 524.7h0M111.9 527.2h0M109.5 527.6h0M99.7 521.8h0M99.5 530.5h0M113.4 534.2h0M100.2 528.9h0M101.5 536.5h0M98.4 533.6h0M99.0 524.7h0M105.9 529.1h0M104.8 527.6h0M100.8 527.3h0M104.8 521.4h0M107.9 529.3h0M101.3 537.4h0M102.3 514.4h0M111.4 525.4h0M112.4 531.2h0M100.7 536.1h0M107.4 534.7h0M105.3 539.3h0M109.7 525.7h0M97.6 527.8h0M105.4 521.0h0M104.1 538.9h0M102.7 536.2h0M100.4 521.1h0M109.7 526.8h0M106.2 535.5h0M113.2 519.1h0M108.0 529.7h0M103.9 523.8h0M107.6 513.5h0M106.9 521.6h0M106.7 522.7h0M107.6 526.3h0M101.5 532.0h0M108.8 516.5h0M98.7 526.2h0M103.2 537.6h0M113.0 531.5h0M110.5 525.7h0M98.3 530.2h0M96.3 539.8h0M106.3 536.5h0M101.9 516.4h0M104.1 531.6h0M104.0 524.4h0M105.5 526.7h0M112.0 518.6h0M94.1 527.4h0M106.4 517.0h0M104.9 531.2h0M106.7 530.2h0M101.3 517.6h0M109.8 525.5h0M98.2 539.3h0M108.7 507.8h0M117.9 529.1h0M97.0 535.0h0M106.7 537.0h0M105.1 516.0h0M104.2 525.0h0M106.5 526.7h0M107.9 519.2h0M102.3 524.3h0M107.1 515.7h0M96.1 535.5h0M105.6 535.2h0M105.3 529.9h0M106.9 531.4h0M99.1 527.1h0M114.1 538.3h0M100.8 521.2h0M104.2 535.7h0M109.6 523.8h0M93.2 527.7h0M96.8 536.7h0M112.4 532.9h0M108.0 532.1h0M114.2 535.9h0M112.2 519.7h0M102.5 528.0h0M94.0 526.0h0M104.9 527.6h0M117.6 526.6h0M104.1 527.2h0M103.3 517.8h0M110.6 528.2h0M106.8 528.3h0M101.2 516.5h0M103.6 531.9h0M104.4 533.3h0M101.1 525.9h0M105.8 527.3h0M105.9 538.4h0M103.0 529.0h0M101.8 532.0h0M106.2 522.7h0M100.0 519.4h0M103.6 529.1h0M102.6 527.2h0M105.7 529.6h0M114.8 530.8h0M108.3 524.4h0M102.3 533.7h0M102.0 523.2h0M97.6 530.2h0M104.6 532.0h0M100.7 519.0h0M110.5 528.2h0M109.0 519.7h0M98.6 509.7h0M106.5 535.2h0M95.9 520.1h0M102.4 522.3h0M104.0 522.2h0M97.7 527.7h0M105.6 522.4h0M105.2 518.6h0M103.4 525.6h0M102.7 527.5h0M98.7 518.3h0M100.9 533.3h0M100.3 521.2h0M114.9 526.2h0M103.1 521.6h0M112.4 531.8h0M106.3 539.6h0M99.1 515.8h0M110.6 531.2h0M102.4 533.8h0M98.7 530.6h0M109.9 534.4h0M103.2 525.1h0M102.8 533.0h0M103.0 527.0h0M110.1 527.2h0M106.2 527.1h0M105.1 511.9h0M100.3 530.7h0M101.8 523.5h0M101.2 521.1h0M96.0 531.3h0M104.7 521.9h0M103.0 535.1h0M110.1 530.7h0M110.8 535.3h0M102.7 533.8h0M105.8 533.6h0M98.7 530.6h0M102.4 525.3h0M104.9 527.7h0M113.5 527.6h0M106.2 535.7h0M112.6 521.0h0M106.5 518.4h0M107.5 538.3h0M102.4 526.0h0M111.0 531.2h0M109.0 524.7h0M103.4 525.3h0M112.8 517.1h0M102.4 539.3h0M104.6 520.0h0M106.2 526.4h0M104.4 531.6h0M108.9 517.1h0M106.0 538.9h0M98.3 527.3h0M99.2 532.9h0M100.8 525.6h0M102.9 531.3h0M98.4 517.8h0M105.9 537.9h0M102.5 531.0h0M106.3 528.8h0M104.9 524.0h0M103.8 536.8h0M107.2 537.4h0M101.4 528.9h0M101.8 518.3h0M109.5 525.9h0M106.2 517.7h0M103.7 527.1h0M103.0 535.4h0M107.3 529.0h0M106.1 524.7h0M101.4 526.0h0M99.9 526.8h0M104.4 536.2h0M102.4 529.0h0M104.8 523.5h0M104.7 515.1h0M110.6 523.8h0M104.8 514.7h0M107.8 518.6h0M111.8 520.4h0M101.3 532.9h0M111.4 513.5h0M96.5 539.8h0M107.2 516.9h0M102.8 533.1h0M103.0 539.1h0M101.4 529.2h0M110.7 538.9h0M106.2 532.3h0M103.3 527.5h0M102.1 530.9h0M109.2 520.6h0M99.2 528.3h0M115.0 529.7h0M105.6 527.7h0M96.6 522.8h0M112.5 512.5h0M113.9 519.2h0M112.4 527.0h0M107.9 523.9h0M102.7 529.5h0M89.3 532.1h0M103.4 520.0h0M103.6 532.8h0M101.1 530.6h0M98.2 528.7h0M99.2 533.6h0M99.8 532.5h0M95.0 529.3h0M110.4 521.9h0M105.2 521.6h0M107.4 533.6h0M110.7 537.8h0M111.4 522.6h0M105.5 531.9h0M105.9 518.3h0M105.3 508.8h0M114.1 526.6h0M116.2 520.3h0M107.6 533.8h0M97.8 525.5h0M107.4 532.9h0M106.9 508.6h0M93.1 530.7h0M112.9 516.6h0M106.9 534.9h0M100.1 516.2h0M106.3 524.7h0M104.5 526.5h0M104.4 530.3h0M102.3 527.7h0M102.1 521.5h0M106.7 521.8h0M107.6 527.8h0M110.3 532.3h0M95.0 527.8h0M108.2 528.8h0M105.2 536.0h0M108.3 518.0h0M105.4 535.4h0M105.7 518.5h0M108.8 532.4h0M110.7 529.3h0M105.5 534.3h0M106.9 529.6h0M108.7 533.8h0M94.0 534.9h0M104.4 522.1h0M109.4 534.9h0M106.8 523.4h0M105.5 520.9h0M117.5 523.1h0M100.7 524.0h0M93.8 526.2h0M98.3 529.1h0M103.8 528.1h0M105.1 524.5h0M105.5 527.5h0M101.4 525.6h0M102.1 518.4h0M104.8 514.1h0M107.6 527.7h0M105.8 536.6h0M109.7 524.7h0M106.7 536.8h0M104.2 530.8h0M107.0 520.3h0M106.3 525.1h0M103.6 531.2h0M108.2 521.3h0M103.7 526.5h0M100.2 530.7h0M103.9 522.7h0M109.6 527.3h0M99.2 527.3h0M104.0 530.1h0M116.2 532.0h0M112.1 526.7h0M107.3 531.7h0M104.4 529.8h0M102.7 533.1h0M86.4 517.7h0M104.3 530.7h0M105.7 515.9h0M107.1 521.4h0M105.9 524.8h0M103.6 516.7h0M98.4 523.8h0M99.6 529.8h0M98.0 529.6h0M107.7 522.4h0M100.2 525.4h0M108.9 538.3h0M115.7 528.6h0M108.0 529.4h0M104.8 520.0h0M103.2 536.3h0M111.8 523.5h0M105.1 531.3h0M104.1 514.6h0M106.5 520.8h0M103.5 523.3h0M112.4 513.4h0M97.2 524.2h0M101.6 533.7h0M112.7 522.5h0M107.8 526.4h0M95.1 536.7h0M113.6 521.9h0M108.1 524.1h0M104.4 524.5h0M104.2 528.3h0M101.9 530.0h0M98.5 534.0h0M100.2 514.1h0M109.1 525.4h0M102.3 534.8h0M107.1 517.3h0M102.4 523.0h0M107.2 532.0h0M105.8 511.5h0M102.3 527.8h0M101.4 526.4h0M100.6 519.6h0M110.9 513.5h0M110.1 519.5h0M103.7 513.0h0M108.2 520.5h0M117.4 521.0h0M106.2 532.9h0M100.1 521.8h0M99.6 532.1h0M106.4 535.5h0M97.8 521.1h0M104.3 524.6h0M106.5 536.3h0M105.6 522.0h0M104.7 522.6h0M103.9 527.5h0M98.6 529.7h0M108.6 533.1h0M99.1 528.8h0M109.5 524.5h0M108.4 524.2h0M104.9 523.6h0M97.5 521.8h0M105.8 525.8h0M104.9 523.7h0M109.3 526.6h0M106.9 524.4h0M111.4 527.2h0M107.1 516.4h0M101.6 530.4h0M98.4 517.0h0M104.3 516.2h0M110.4 531.2h0M103.4 537.0h0M101.6 519.2h0M109.5 528.1h0M103.8 535.7h0M104.3 532.8h0M106.0 536.6h0M107.7 524.5h0M112.4 525.3h0M113.6 518.5h0M105.2 511.3h0M107.5 537.9h0M103.0 531.5h0M103.8 538.7h0M106.6 530.6h0M110.4 516.7h0M108.4 529.0h0M111.4 528.2h0M108.0 527.6h0M100.0 524.2h0M104.1 518.1h0M104.7 524.5h0M114.0 526.2h0M105.6 528.7h0M108.4 516.0h0M96.3 539.8h0M100.8 521.4h0M110.8 530.2h0M101.0 533.5h0M103.4 530.5h0M100.2 527.3h0M115.6 512.8h0M102.5 530.0h0M103.9 531.3h0M110.7 519.6h0M101.7 537.8h0M114.7 508.1h0M107.7 535.4h0M101.6 521.5h0M99.3 526.5h0M99.3 533.3h0M101.6 531.8h0M97.2 534.6h0M108.3 535.0h0M109.8 528.4h0M113.0 525.3h0M102.7 528.0h0M106.2 529.4h0M103.8 535.5h0M115.7 525.1h0M97.7 524.5h0M98.1 518.6h0M99.8 535.9h0M105.8 533.3h0M104.4 535.6h0M103.0 537.7h0M109.4 529.6h0M97.7 519.8h0M106.3 520.3h0M104.2 526.8h0M111.9 522.9h0M105.7 524.6h0M101.2 531.3h0M109.8 517.4h0M105.8 531.9h0M99.8 525.0h0M106.5 527.3h0M111.9 521.5h0M103.8 531.9h0M104.6 526.2h0M104.4 531.0h0M108.7 520.2h0M100.5 519.6h0M107.2 514.2h0M117.2 523.9h0M105.0 531.7h0M104.1 526.1h0M115.2 513.4h0M106.3 522.5h0M103.3 527.5h0M95.9 532.6h0M106.0 532.1h0M102.0 533.5h0M102.7 533.7h0M111.7 532.6h0M97.9 528.5h0M106.0 518.6h0M97.4 537.8h0M100.0 531.1h0M103.4 526.9h0M102.8 528.1h0M113.0 521.5h0M107.6 531.6h0M101.7 519.9h0M100.6 532.3h0M105.8 535.6h0M106.8 528.9h0M105.1 529.7h0M105.2 533.0h0M100.7 535.9h0M113.1 527.4h0M107.8 519.3h0M105.5 517.4h0M110.0 528.4h0M110.4 536.4h0M101.4 534.0h0M104.5 532.1h0M101.9 532.7h0M108.0 538.7h0M104.3 528.5h0M107.5 526.8h0M115.3 511.7h0M96.5 524.3h0M108.5 528.2h0M107.1 516.9h0M108.0 532.0h0M113.2 534.1h0M102.0 522.6h0M99.4 524.4h0M104.5 537.3h0M113.3 528.6h0M108.0 526.8h0M98.6 532.0h0M101.4 516.2h0M100.9 539.0h0M99.3 538.1h0M98.2 527.5h0M107.6 525.1h0M100.2 528.1h0M113.4 532.9h0M106.0 532.3h0M110.9 537.8h0M103.7 521.6h0M100.1 528.5h0M103.5 528.1h0M101.6 538.5h0M100.8 522.3h0M99.2 520.0h0M96.9 522.0h0M103.8 533.1h0M96.1 531.3h0M104.5 528.0h0M94.2 531.6h0M108.4 536.5h0M103.6 537.1h0M105.4 521.3h0M107.6 535.2h0M106.2 527.8h0M103.8 533.0h0M96.0 530.3h0M98.6 524.2h0M106.1 537.1h0M105.0 521.3h0M118.7 530.4h0M91.5 527.3h0M101.4 523.6h0M105.5 518.2h0M109.4 528.7h0M103.0 529.5h0M99.2 529.5h0M106.8 536.8h0M115.1 523.4h0M106.9 522.3h0M105.6 536.5h0M108.3 525.9h0M114.1 534.6h0M111.2 528.7h0M111.7 527.0h0M109.4 528.4h0M105.0 516.7h0M110.0 532.3h0M101.9 528.5h0M108.1 532.7h0M94.6 539.0h0M110.8 529.1h0M106.1 530.1h0M103.0 539.2h0M101.6 524.2h0M103.9 516.4h0M110.3 519.4h0M112.7 535.0h0M115.2 523.7h0M103.5 524.8h0M109.1 521.5h0M103.4 511.1h0M105.3 529.6h0M115.1 521.9h0M111.6 530.2h0M110.9 512.2h0M76.9 518.9h0M111.6 525.9h0M98.6 519.7h0M116.0 506.1h0M84.5 527.0h0M109.8 523.7h0M99.6 504.2h0M108.2 517.5h0M101.1 527.6h0M88.1 523.2h0M103.1 536.3h0M96.3 506.9h0M111.0 520.3h0M93.5 535.7h0M108.0 505.4h0M104.9 509.3h0M97.5 539.2h0M115.9 531.6h0M92.2 533.1h0M97.6 518.6h0M100.1 535.9h0M108.1 530.4h0M100.6 518.5h0M112.6 517.4h0M101.9 530.2h0M102.7 534.9h0M108.5 531.1h0M122.3 518.1h0M120.6 510.0h0M97.9 496.7h0M98.8 515.3h0M109.7 538.0h0M122.4 518.3h0M112.5 522.0h0M89.5 478.2h0M101.3 502.7h0M111.0 513.8h0M109.2 516.7h0M107.9 513.6h0M107.0 508.9h0M97.9 525.6h0M110.5 510.4h0M96.8 506.1h0M118.0 527.3h0M106.7 519.2h0M119.3 530.5h0M103.3 537.6h0M108.7 520.9h0M101.2 524.1h0M115.1 508.3h0M90.9 531.6h0M108.7 507.4h0M110.6 525.9h0M96.1 506.3h0M91.8 524.8h0M93.8 528.0h0M102.8 531.2h0M111.0 513.9h0M101.1 532.3h0M99.0 535.4h0M108.8 534.1h0M99.3 532.8h0M102.4 526.5h0M109.1 517.8h0M103.7 497.5h0M98.6 530.9h0M95.5 500.4h0M92.7 520.7h0M109.4 530.0h0M92.8 528.5h0M94.4 536.2h0M107.2 516.9h0M100.4 523.2h0M99.5 537.1h0M106.5 517.7h0M107.7 508.6h0M105.3 520.4h0M99.6 523.4h0M105.9 507.6h0M110.3 517.4h0M97.6 535.7h0M99.6 538.1h0M111.1 527.8h0M97.5 535.7h0M107.0 511.9h0M108.4 522.1h0M103.1 513.0h0M105.7 533.6h0M97.5 533.0h0M89.9 525.2h0M106.1 513.3h0M105.3 509.3h0M118.7 528.4h0M112.5 513.6h0M86.5 523.0h0M114.5 522.2h0M113.1 528.5h0M106.6 535.8h0M99.5 519.4h0M112.6 529.1h0M99.9 511.8h0M115.6 487.7h0M111.1 522.3h0M94.0 528.5h0M106.3 495.8h0M96.9 532.5h0M100.3 523.3h0M106.6 522.2h0M99.1 535.3h0M98.7 528.6h0M107.3 532.4h0M110.1 527.1h0M119.2 532.8h0M98.3 513.8h0M98.7 538.9h0M107.3 517.4h0M96.4 522.9h0M109.8 523.2h0M109.5 525.9h0M114.4 518.5h0M103.0 511.3h0M101.6 512.8h0M92.5 521.5h0M109.2 498.8h0M94.4 508.3h0M106.8 530.3h0M106.5 521.9h0M98.2 526.1h0M97.5 521.4h0M107.1 521.1h0M113.1 499.6h0M92.0 535.2h0M99.8 518.7h0M99.9 523.3h0M102.9 528.0h0M88.0 522.7h0M97.4 526.4h0M96.4 524.7h0M106.1 523.5h0M105.8 531.3h0M96.1 523.4h0M112.0 534.4h0M111.4 514.7h0M99.0 535.0h0M104.1 527.3h0M101.4 534.2h0M105.3 512.9h0M106.8 520.1h0M102.1 530.3h0M105.1 517.6h0M95.2 519.0h0M103.0 510.6h0M99.2 524.7h0M94.8 520.4h0M105.9 525.8h0M91.3 524.4h0M96.7 536.2h0M106.8 510.9h0M111.2 518.5h0M103.2 525.1h0M94.3 537.1h0M105.2 512.4h0M93.7 529.1h0M113.2 528.5h0M106.4 519.3h0M112.3 530.1h0M98.0 517.1h0M87.8 536.9h0M126.5 522.7h0M107.3 532.5h0M96.4 514.6h0M116.2 534.2h0M109.7 522.8h0M103.7 525.6h0M107.2 517.3h0M100.1 513.4h0M96.8 539.0h0M99.0 515.6h0M112.2 522.1h0M103.7 531.9h0M112.5 526.7h0M115.7 516.5h0M100.1 531.7h0M108.9 504.7h0M101.7 531.7h0M92.1 526.3h0M97.7 506.3h0M102.3 523.4h0M100.9 517.0h0M110.5 512.5h0M99.4 508.5h0M112.8 507.7h0M117.0 513.8h0M96.0 538.8h0M94.2 518.9h0M108.2 527.9h0M106.5 527.6h0M115.8 506.2h0M98.8 533.8h0M93.0 516.4h0M122.4 539.1h0M107.9 525.0h0M102.8 514.3h0M97.4 513.2h0M94.4 525.6h0M107.2 513.7h0M105.0 509.4h0M106.8 520.6h0M103.5 526.3h0M113.8 526.5h0M99.1 525.9h0M107.0 530.1h0M111.9 515.1h0M95.0 531.1h0M95.5 529.2h0M124.6 538.0h0M92.9 515.0h0M107.0 521.0h0M109.3 526.9h0M106.5 530.4h0M92.2 536.9h0M93.3 514.4h0M85.8 524.2h0M107.1 520.0h0M95.0 500.0h0M108.3 511.4h0M101.2 526.9h0M103.5 528.8h0M116.6 532.1h0M96.4 523.7h0M102.3 514.7h0M109.0 519.9h0M105.8 531.4h0M119.9 517.4h0M116.1 527.6h0M98.5 526.0h0M99.3 519.6h0M90.9 521.0h0M88.8 535.2h0M108.0 519.7h0M104.3 525.6h0M102.1 527.5h0M102.7 529.3h0M97.9 525.0h0M116.8 515.2h0M97.9 534.8h0M106.5 526.0h0M105.4 519.7h0M100.0 530.0h0M105.4 531.5h0M104.7 539.9h0M111.5 515.9h0M116.1 518.0h0M111.8 515.9h0M106.8 526.1h0M114.9 500.4h0M89.4 535.3h0M109.8 518.7h0M104.8 504.9h0M101.2 517.0h0M110.8 527.2h0M102.9 537.3h0M99.1 532.9h0M102.3 529.5h0M110.1 515.2h0M100.7 539.4h0M115.3 511.0h0M105.3 531.4h0M122.2 531.9h0M102.5 534.8h0M104.7 514.9h0M103.7 522.0h0M102.4 525.4h0M106.8 515.8h0M109.2 507.0h0M109.2 530.0h0M107.3 507.9h0M100.3 526.8h0M107.6 532.9h0M92.4 524.8h0M112.3 511.6h0M94.8 519.4h0M102.0 521.7h0M113.7 527.7h0M89.5 533.4h0M104.8 534.1h0M105.2 519.2h0M94.9 534.9h0M103.0 505.2h0M110.5 539.1h0M88.1 531.0h0M113.5 516.4h0M107.6 532.9h0M107.9 534.0h0M97.3 533.9h0M103.7 521.3h0M104.3 528.5h0M92.5 524.7h0M73.2 491.6h0M75.9 512.9h0M61.1 498.3h0M59.5 524.5h0M62.6 515.4h0M66.3 524.7h0M81.1 525.0h0M75.8 526.9h0M84.8 501.5h0M72.4 504.4h0M70.5 510.0h0M71.1 522.3h0M58.9 478.8h0M72.4 526.9h0M66.7 532.3h0M89.5 513.9h0M68.3 519.7h0M76.7 493.3h0M74.4 486.1h0M60.9 515.9h0M72.8 497.4h0M70.5 529.9h0M55.9 520.4h0M81.0 495.3h0M80.4 518.9h0M67.4 513.3h0M69.7 513.5h0M68.3 503.3h0M77.9 535.4h0M68.4 531.7h0M63.4 496.2h0M75.6 516.2h0M74.0 500.4h0M66.7 526.4h0M83.8 516.4h0M73.4 478.4h0M64.5 530.2h0M86.5 502.2h0M48.2 519.7h0M58.8 507.5h0M64.9 508.2h0M61.7 521.7h0M72.6 495.8h0M74.9 515.8h0M61.1 514.7h0M72.9 503.5h0M71.1 507.1h0M52.3 494.9h0M64.7 506.1h0M73.8 534.9h0M66.3 514.6h0M68.1 490.9h0M69.4 510.4h0M62.8 523.0h0M73.4 509.0h0M62.4 517.1h0M63.0 501.9h0M65.7 525.6h0M67.5 511.0h0M67.1 521.0h0M68.6 524.0h0M68.6 524.3h0M67.4 503.3h0M73.5 510.5h0M66.0 532.1h0M65.6 502.9h0M67.0 532.1h0M58.4 528.5h0M74.3 507.9h0M67.0 503.6h0M52.5 500.9h0M57.8 492.1h0M66.1 521.0h0M61.8 508.8h0M63.2 510.5h0M73.2 529.2h0M74.9 518.1h0M81.6 522.7h0M73.9 520.7h0M76.8 499.6h0M62.1 514.4h0M54.5 509.6h0M66.9 517.4h0M75.7 530.5h0M49.4 516.1h0M72.6 532.2h0M64.4 518.8h0M68.4 500.8h0M71.8 526.0h0M66.6 514.5h0M79.0 510.8h0M66.9 517.1h0M73.4 518.6h0M80.2 519.1h0M59.4 491.8h0M68.8 535.4h0M70.0 507.5h0M72.0 520.3h0M80.3 496.4h0M76.2 515.7h0M76.6 527.5h0M50.5 525.4h0M73.9 502.9h0M68.5 527.2h0M56.7 524.9h0M76.4 536.4h0M62.4 505.1h0M78.2 509.5h0M73.1 478.8h0M90.1 488.7h0M55.5 519.9h0M73.8 502.6h0M50.6 520.5h0M71.5 501.1h0M70.7 505.6h0M60.8 522.5h0M69.5 513.8h0M58.9 503.9h0M67.2 505.3h0M72.5 513.7h0M67.6 511.0h0M73.0 526.6h0M60.3 525.9h0M77.2 523.7h0M64.8 516.0h0M87.6 495.7h0M76.7 509.8h0M83.7 515.1h0M76.8 505.0h0M65.2 534.5h0M58.6 506.3h0M67.3 496.7h0M74.9 497.0h0M69.9 510.1h0M50.6 515.2h0M56.2 513.6h0M49.5 506.1h0M76.5 516.9h0M79.1 534.8h0M75.8 510.7h0M68.5 521.5h0M58.8 499.4h0M69.4 536.3h0M59.9 516.5h0M63.4 522.8h0M72.5 512.8h0M77.3 509.8h0M68.5 517.3h0M76.2 502.4h0M65.5 503.2h0M74.4 518.5h0M71.2 495.9h0M62.4 494.0h0M57.8 503.4h0M72.0 519.8h0M54.1 521.6h0M72.6 534.3h0M76.8 493.2h0M73.7 516.3h0M72.3 503.5h0M115.7 482.3h0M92.7 458.9h0M96.4 464.2h0M82.5 501.1h0M98.6 493.1h0M112.0 490.1h0M94.4 466.7h0M97.4 482.6h0M97.7 477.4h0M100.9 463.4h0M111.4 466.6h0M100.7 470.3h0M114.8 474.2h0M88.7 476.5h0M109.4 465.9h0M84.4 474.5h0M108.0 444.8h0M109.9 508.9h0M97.3 492.5h0M97.8 458.1h0M94.4 488.6h0M86.5 477.4h0M91.7 485.9h0M127.8 482.0h0M84.4 501.6h0M96.0 475.9h0M105.0 490.5h0M101.9 485.3h0M101.4 466.1h0M108.3 491.8h0M90.3 459.3h0M92.4 483.3h0M115.6 483.8h0M61.8 473.3h0M100.1 484.0h0M81.8 476.6h0M100.9 489.6h0M108.7 501.5h0M91.4 475.7h0M94.2 487.1h0M122.4 483.3h0M101.2 469.6h0M84.6 503.0h0M98.4 498.6h0M108.8 474.9h0M102.2 469.8h0M106.6 479.1h0M108.4 496.5h0M92.6 491.0h0M104.4 474.5h0M102.5 496.4h0M101.3 493.1h0M103.4 496.7h0M97.9 476.9h0M106.7 452.6h0M93.4 500.0h0M90.8 504.0h0M118.1 474.8h0M90.7 485.9h0M109.9 502.7h0M117.1 472.2h0M109.4 474.7h0M111.9 486.8h0M116.1 479.9h0M109.0 465.2h0M88.2 487.3h0M100.6 491.9h0M126.2 473.2h0M85.7 467.8h0M92.3 495.4h0M103.9 477.2h0M107.3 478.9h0M102.5 480.7h0M83.8 491.1h0M101.6 508.7h0M100.7 473.5h0M101.6 471.9h0M99.1 476.3h0M103.4 469.4h0M98.3 475.8h0M88.1 480.0h0M107.6 490.0h0M103.2 479.4h0M110.6 477.4h0M107.4 459.3h0M85.6 471.8h0M112.8 477.6h0M104.9 467.1h0M82.0 515.9h0M118.8 502.8h0M84.8 525.0h0M86.7 528.5h0M81.1 509.9h0M86.5 512.1h0M80.8 517.8h0M100.3 519.8h0M81.7 533.6h0M82.3 532.6h0M92.0 525.2h0M88.8 529.4h0M74.5 532.9h0M76.4 539.2h0M84.8 532.0h0M92.6 523.6h0M90.4 534.1h0M69.2 530.7h0M77.4 525.4h0M72.0 516.8h0M81.4 533.6h0M80.8 529.0h0M80.2 531.5h0M106.4 530.2h0M91.3 520.5h0M76.5 526.7h0M109.0 525.2h0M95.9 526.2h0M75.0 514.7h0M86.1 539.3h0M78.6 527.1h0M76.1 524.3h0M92.9 525.9h0M76.6 535.5h0M86.9 530.0h0M101.2 532.9h0M94.0 520.0h0M90.8 538.1h0M73.1 528.1h0M60.3 514.6h0M95.8 537.1h0M95.5 507.0h0" stroke="#000" stroke-width="1.1" stroke-linecap="round" fill="none" opacity="0.9"/>
<line x1="86.7" y1="443" x2="86.7" y2="540.7" stroke="#555" stroke-width="0.9" />
<line x1="42" y1="498.2" x2="182" y2="498.2" stroke="#555" stroke-width="0.9" />
<text x="55.1" y="433.8" font-size="11.9" font-weight="normal" text-anchor="start" fill="#000" textLength="24.6" lengthAdjust="spacingAndGlyphs" stroke="#000" stroke-width="0.5" font-family="'DejaVu Sans', sans-serif">32.8</text>
<text x="152.3" y="434" font-size="11.9" font-weight="normal" text-anchor="start" fill="#000" textLength="16.8" lengthAdjust="spacingAndGlyphs" stroke="#000" stroke-width="0.5" font-family="'DejaVu Sans', sans-serif">2.9</text>
<text x="144.8" y="529.6" font-size="11.9" font-weight="normal" text-anchor="start" fill="#000" textLength="24.4" lengthAdjust="spacingAndGlyphs" stroke="#000" stroke-width="0.5" font-family="'DejaVu Sans', sans-serif">53.8</text>
<text x="89.4" y="579.4" font-size="14.8" font-weight="normal" text-anchor="start" fill="#000" textLength="45.6" lengthAdjust="spacingAndGlyphs" stroke="#000" stroke-width="0.35">NKG2C</text>
<text x="12.7" y="493.2" font-size="14.8" font-weight="normal" text-anchor="start" fill="#000" textLength="45.9" lengthAdjust="spacingAndGlyphs" transform="rotate(-90 12.7 493.2)" stroke="#000" stroke-width="0.35">NKG2A</text>
<rect x="255.2" y="20.8" width="258.3" height="144.5" fill="none" stroke="#000" stroke-width="1.55"/>
<line x1="251.4" y1="165.3" x2="255.2" y2="165.3" stroke="#000" stroke-width="1.3" />
<line x1="513.5" y1="165.3" x2="518" y2="165.3" stroke="#000" stroke-width="1.2" />
<line x1="253.6" y1="157.27" x2="255.2" y2="157.27" stroke="#000" stroke-width="1.1" />
<line x1="513.5" y1="157.27" x2="516.2" y2="157.27" stroke="#000" stroke-width="1.1" />
<line x1="251.4" y1="149.24" x2="255.2" y2="149.24" stroke="#000" stroke-width="1.3" />
<line x1="513.5" y1="149.24" x2="518" y2="149.24" stroke="#000" stroke-width="1.2" />
<line x1="253.6" y1="141.22" x2="255.2" y2="141.22" stroke="#000" stroke-width="1.1" />
<line x1="513.5" y1="141.22" x2="516.2" y2="141.22" stroke="#000" stroke-width="1.1" />
<line x1="251.4" y1="133.19" x2="255.2" y2="133.19" stroke="#000" stroke-width="1.3" />
<line x1="513.5" y1="133.19" x2="518" y2="133.19" stroke="#000" stroke-width="1.2" />
<line x1="253.6" y1="125.16" x2="255.2" y2="125.16" stroke="#000" stroke-width="1.1" />
<line x1="513.5" y1="125.16" x2="516.2" y2="125.16" stroke="#000" stroke-width="1.1" />
<line x1="251.4" y1="117.13" x2="255.2" y2="117.13" stroke="#000" stroke-width="1.3" />
<line x1="513.5" y1="117.13" x2="518" y2="117.13" stroke="#000" stroke-width="1.2" />
<line x1="253.6" y1="109.11" x2="255.2" y2="109.11" stroke="#000" stroke-width="1.1" />
<line x1="513.5" y1="109.11" x2="516.2" y2="109.11" stroke="#000" stroke-width="1.1" />
<line x1="251.4" y1="101.08" x2="255.2" y2="101.08" stroke="#000" stroke-width="1.3" />
<line x1="513.5" y1="101.08" x2="518" y2="101.08" stroke="#000" stroke-width="1.2" />
<line x1="253.6" y1="93.05" x2="255.2" y2="93.05" stroke="#000" stroke-width="1.1" />
<line x1="513.5" y1="93.05" x2="516.2" y2="93.05" stroke="#000" stroke-width="1.1" />
<line x1="251.4" y1="85.02" x2="255.2" y2="85.02" stroke="#000" stroke-width="1.3" />
<line x1="513.5" y1="85.02" x2="518" y2="85.02" stroke="#000" stroke-width="1.2" />
<line x1="253.6" y1="76.99" x2="255.2" y2="76.99" stroke="#000" stroke-width="1.1" />
<line x1="513.5" y1="76.99" x2="516.2" y2="76.99" stroke="#000" stroke-width="1.1" />
<line x1="251.4" y1="68.97" x2="255.2" y2="68.97" stroke="#000" stroke-width="1.3" />
<line x1="513.5" y1="68.97" x2="518" y2="68.97" stroke="#000" stroke-width="1.2" />
<line x1="253.6" y1="60.94" x2="255.2" y2="60.94" stroke="#000" stroke-width="1.1" />
<line x1="513.5" y1="60.94" x2="516.2" y2="60.94" stroke="#000" stroke-width="1.1" />
<line x1="251.4" y1="52.91" x2="255.2" y2="52.91" stroke="#000" stroke-width="1.3" />
<line x1="513.5" y1="52.91" x2="518" y2="52.91" stroke="#000" stroke-width="1.2" />
<line x1="253.6" y1="44.88" x2="255.2" y2="44.88" stroke="#000" stroke-width="1.1" />
<line x1="513.5" y1="44.88" x2="516.2" y2="44.88" stroke="#000" stroke-width="1.1" />
<line x1="251.4" y1="36.86" x2="255.2" y2="36.86" stroke="#000" stroke-width="1.3" />
<line x1="513.5" y1="36.86" x2="518" y2="36.86" stroke="#000" stroke-width="1.2" />
<line x1="253.6" y1="28.83" x2="255.2" y2="28.83" stroke="#000" stroke-width="1.1" />
<line x1="513.5" y1="28.83" x2="516.2" y2="28.83" stroke="#000" stroke-width="1.1" />
<line x1="251.4" y1="20.8" x2="255.2" y2="20.8" stroke="#000" stroke-width="1.3" />
<line x1="513.5" y1="20.8" x2="518" y2="20.8" stroke="#000" stroke-width="1.2" />
<line x1="255.2" y1="19.5" x2="255.2" y2="20.8" stroke="#000" stroke-width="1" />
<line x1="255.2" y1="165.3" x2="255.2" y2="166.8" stroke="#000" stroke-width="1" />
<line x1="263.67" y1="19.5" x2="263.67" y2="20.8" stroke="#000" stroke-width="1" />
<line x1="263.67" y1="165.3" x2="263.67" y2="166.8" stroke="#000" stroke-width="1" />
<line x1="272.14" y1="19.5" x2="272.14" y2="20.8" stroke="#000" stroke-width="1" />
<line x1="272.14" y1="165.3" x2="272.14" y2="166.8" stroke="#000" stroke-width="1" />
<line x1="280.61" y1="19.5" x2="280.61" y2="20.8" stroke="#000" stroke-width="1" />
<line x1="280.61" y1="165.3" x2="280.61" y2="166.8" stroke="#000" stroke-width="1" />
<line x1="289.08" y1="19.5" x2="289.08" y2="20.8" stroke="#000" stroke-width="1" />
<line x1="289.08" y1="165.3" x2="289.08" y2="166.8" stroke="#000" stroke-width="1" />
<line x1="297.54" y1="19.5" x2="297.54" y2="20.8" stroke="#000" stroke-width="1" />
<line x1="297.54" y1="165.3" x2="297.54" y2="166.8" stroke="#000" stroke-width="1" />
<line x1="306.01" y1="19.5" x2="306.01" y2="20.8" stroke="#000" stroke-width="1" />
<line x1="306.01" y1="165.3" x2="306.01" y2="166.8" stroke="#000" stroke-width="1" />
<line x1="314.48" y1="19.5" x2="314.48" y2="20.8" stroke="#000" stroke-width="1" />
<line x1="314.48" y1="165.3" x2="314.48" y2="166.8" stroke="#000" stroke-width="1" />
<line x1="322.95" y1="19.5" x2="322.95" y2="20.8" stroke="#000" stroke-width="1" />
<line x1="322.95" y1="165.3" x2="322.95" y2="166.8" stroke="#000" stroke-width="1" />
<line x1="331.42" y1="19.5" x2="331.42" y2="20.8" stroke="#000" stroke-width="1" />
<line x1="331.42" y1="165.3" x2="331.42" y2="166.8" stroke="#000" stroke-width="1" />
<line x1="339.89" y1="19.5" x2="339.89" y2="20.8" stroke="#000" stroke-width="1" />
<line x1="339.89" y1="165.3" x2="339.89" y2="166.8" stroke="#000" stroke-width="1" />
<line x1="348.36" y1="19.5" x2="348.36" y2="20.8" stroke="#000" stroke-width="1" />
<line x1="348.36" y1="165.3" x2="348.36" y2="166.8" stroke="#000" stroke-width="1" />
<line x1="356.83" y1="19.5" x2="356.83" y2="20.8" stroke="#000" stroke-width="1" />
<line x1="356.83" y1="165.3" x2="356.83" y2="166.8" stroke="#000" stroke-width="1" />
<line x1="365.3" y1="19.5" x2="365.3" y2="20.8" stroke="#000" stroke-width="1" />
<line x1="365.3" y1="165.3" x2="365.3" y2="166.8" stroke="#000" stroke-width="1" />
<line x1="373.76" y1="19.5" x2="373.76" y2="20.8" stroke="#000" stroke-width="1" />
<line x1="373.76" y1="165.3" x2="373.76" y2="166.8" stroke="#000" stroke-width="1" />
<line x1="382.23" y1="19.5" x2="382.23" y2="20.8" stroke="#000" stroke-width="1" />
<line x1="382.23" y1="165.3" x2="382.23" y2="166.8" stroke="#000" stroke-width="1" />
<line x1="390.7" y1="19.5" x2="390.7" y2="20.8" stroke="#000" stroke-width="1" />
<line x1="390.7" y1="165.3" x2="390.7" y2="166.8" stroke="#000" stroke-width="1" />
<line x1="399.17" y1="19.5" x2="399.17" y2="20.8" stroke="#000" stroke-width="1" />
<line x1="399.17" y1="165.3" x2="399.17" y2="166.8" stroke="#000" stroke-width="1" />
<line x1="407.64" y1="19.5" x2="407.64" y2="20.8" stroke="#000" stroke-width="1" />
<line x1="407.64" y1="165.3" x2="407.64" y2="166.8" stroke="#000" stroke-width="1" />
<line x1="416.11" y1="19.5" x2="416.11" y2="20.8" stroke="#000" stroke-width="1" />
<line x1="416.11" y1="165.3" x2="416.11" y2="166.8" stroke="#000" stroke-width="1" />
<line x1="424.58" y1="19.5" x2="424.58" y2="20.8" stroke="#000" stroke-width="1" />
<line x1="424.58" y1="165.3" x2="424.58" y2="166.8" stroke="#000" stroke-width="1" />
<line x1="433.05" y1="19.5" x2="433.05" y2="20.8" stroke="#000" stroke-width="1" />
<line x1="433.05" y1="165.3" x2="433.05" y2="166.8" stroke="#000" stroke-width="1" />
<line x1="441.51" y1="19.5" x2="441.51" y2="20.8" stroke="#000" stroke-width="1" />
<line x1="441.51" y1="165.3" x2="441.51" y2="166.8" stroke="#000" stroke-width="1" />
<line x1="449.98" y1="19.5" x2="449.98" y2="20.8" stroke="#000" stroke-width="1" />
<line x1="449.98" y1="165.3" x2="449.98" y2="166.8" stroke="#000" stroke-width="1" />
<line x1="458.45" y1="19.5" x2="458.45" y2="20.8" stroke="#000" stroke-width="1" />
<line x1="458.45" y1="165.3" x2="458.45" y2="166.8" stroke="#000" stroke-width="1" />
<line x1="466.92" y1="19.5" x2="466.92" y2="20.8" stroke="#000" stroke-width="1" />
<line x1="466.92" y1="165.3" x2="466.92" y2="166.8" stroke="#000" stroke-width="1" />
<line x1="475.39" y1="19.5" x2="475.39" y2="20.8" stroke="#000" stroke-width="1" />
<line x1="475.39" y1="165.3" x2="475.39" y2="166.8" stroke="#000" stroke-width="1" />
<line x1="483.86" y1="19.5" x2="483.86" y2="20.8" stroke="#000" stroke-width="1" />
<line x1="483.86" y1="165.3" x2="483.86" y2="166.8" stroke="#000" stroke-width="1" />
<line x1="492.33" y1="19.5" x2="492.33" y2="20.8" stroke="#000" stroke-width="1" />
<line x1="492.33" y1="165.3" x2="492.33" y2="166.8" stroke="#000" stroke-width="1" />
<line x1="500.8" y1="19.5" x2="500.8" y2="20.8" stroke="#000" stroke-width="1" />
<line x1="500.8" y1="165.3" x2="500.8" y2="166.8" stroke="#000" stroke-width="1" />
<line x1="509.27" y1="19.5" x2="509.27" y2="20.8" stroke="#000" stroke-width="1" />
<line x1="509.27" y1="165.3" x2="509.27" y2="166.8" stroke="#000" stroke-width="1" />
<text x="248.6" y="41" font-size="12.6" font-weight="normal" text-anchor="end" fill="#000" textLength="15.3" lengthAdjust="spacingAndGlyphs" stroke="#000" stroke-width="0.3">80</text>
<text x="248.6" y="73.1" font-size="12.6" font-weight="normal" text-anchor="end" fill="#000" textLength="15.3" lengthAdjust="spacingAndGlyphs" stroke="#000" stroke-width="0.3">60</text>
<text x="248.6" y="105.2" font-size="12.6" font-weight="normal" text-anchor="end" fill="#000" textLength="15.3" lengthAdjust="spacingAndGlyphs" stroke="#000" stroke-width="0.3">40</text>
<text x="248.6" y="137.4" font-size="12.6" font-weight="normal" text-anchor="end" fill="#000" textLength="15.3" lengthAdjust="spacingAndGlyphs" stroke="#000" stroke-width="0.3">20</text>
<text x="246.2" y="169.5" font-size="12.6" font-weight="normal" text-anchor="end" fill="#000" textLength="7.2" lengthAdjust="spacingAndGlyphs" stroke="#000" stroke-width="0.3">0</text>
<text x="223.5" y="168.5" font-size="14" font-weight="normal" text-anchor="start" fill="#000" textLength="143.7" lengthAdjust="spacingAndGlyphs" transform="rotate(-90 223.5 168.5)" stroke="#000" stroke-width="0.25">% of CD56dim NK cells</text>
<line x1="264.8" y1="51.2" x2="264.8" y2="56.3" stroke="#000" stroke-width="1.55" />
<line x1="264.8" y1="94" x2="264.8" y2="99" stroke="#000" stroke-width="1.55" />
<line x1="263.05" y1="51.2" x2="266.55" y2="51.2" stroke="#000" stroke-width="1.55" />
<line x1="263.05" y1="99" x2="266.55" y2="99" stroke="#000" stroke-width="1.55" />
<rect x="261.8" y="56.3" width="6" height="37.7" fill="#fff" stroke="#000" stroke-width="1.55"/>
<line x1="261.8" y1="81.5" x2="267.8" y2="81.5" stroke="#000" stroke-width="1.55" />
<circle cx="264.5" cy="28.8" r="2.6" fill="#000"/>
<circle cx="264.5" cy="46.2" r="2.6" fill="#000"/>
<circle cx="264.5" cy="104" r="2.6" fill="#000"/>
<circle cx="264.5" cy="143.3" r="2.6" fill="#000"/>
<line x1="273.8" y1="50.6" x2="273.8" y2="66" stroke="#000" stroke-width="1.55" />
<line x1="273.8" y1="121.7" x2="273.8" y2="131.7" stroke="#000" stroke-width="1.55" />
<line x1="272.05" y1="50.6" x2="275.55" y2="50.6" stroke="#000" stroke-width="1.55" />
<line x1="272.05" y1="131.7" x2="275.55" y2="131.7" stroke="#000" stroke-width="1.55" />
<rect x="270.8" y="66" width="6" height="55.7" fill="#fff" stroke="#000" stroke-width="1.55"/>
<line x1="270.8" y1="92.2" x2="276.8" y2="92.2" stroke="#000" stroke-width="1.55" />
<circle cx="273.5" cy="46.7" r="2.6" fill="#000"/>
<circle cx="273.5" cy="50" r="2.6" fill="#000"/>
<circle cx="273.5" cy="133.7" r="2.6" fill="#000"/>
<circle cx="273.5" cy="137.5" r="2.6" fill="#000"/>
<line x1="281.7" y1="77.5" x2="281.7" y2="88.4" stroke="#000" stroke-width="1.55" />
<line x1="281.7" y1="125.4" x2="281.7" y2="132.7" stroke="#000" stroke-width="1.55" />
<line x1="279.95" y1="77.5" x2="283.45" y2="77.5" stroke="#000" stroke-width="1.55" />
<line x1="279.95" y1="132.7" x2="283.45" y2="132.7" stroke="#000" stroke-width="1.55" />
<rect x="278.7" y="88.4" width="6" height="37" fill="#fff" stroke="#000" stroke-width="1.55"/>
<line x1="278.7" y1="98.6" x2="284.7" y2="98.6" stroke="#000" stroke-width="1.55" />
<circle cx="281.4" cy="76" r="2.6" fill="#000"/>
<circle cx="281.4" cy="134.6" r="2.6" fill="#000"/>
<circle cx="281.4" cy="142.9" r="2.6" fill="#000"/>
<line x1="289.8" y1="82" x2="289.8" y2="93.6" stroke="#000" stroke-width="1.55" />
<line x1="289.8" y1="116" x2="289.8" y2="136.5" stroke="#000" stroke-width="1.55" />
<line x1="288.05" y1="82" x2="291.55" y2="82" stroke="#000" stroke-width="1.55" />
<line x1="288.05" y1="136.5" x2="291.55" y2="136.5" stroke="#000" stroke-width="1.55" />
<rect x="286.8" y="93.6" width="6" height="22.4" fill="#fff" stroke="#000" stroke-width="1.55"/>
<line x1="286.8" y1="104.6" x2="292.8" y2="104.6" stroke="#000" stroke-width="1.55" />
<circle cx="289.5" cy="59.2" r="2.6" fill="#000"/>
<circle cx="289.5" cy="79.8" r="2.6" fill="#000"/>
<circle cx="289.5" cy="138" r="2.6" fill="#000"/>
<circle cx="289.5" cy="143.8" r="2.6" fill="#000"/>
<line x1="299.2" y1="74.6" x2="299.2" y2="81.9" stroke="#000" stroke-width="1.55" />
<line x1="299.2" y1="117.7" x2="299.2" y2="131.7" stroke="#000" stroke-width="1.55" />
<line x1="297.45" y1="74.6" x2="300.95" y2="74.6" stroke="#000" stroke-width="1.55" />
<line x1="297.45" y1="131.7" x2="300.95" y2="131.7" stroke="#000" stroke-width="1.55" />
<rect x="296.2" y="81.9" width="6" height="35.8" fill="#fff" stroke="#000" stroke-width="1.55"/>
<line x1="296.2" y1="103.7" x2="302.2" y2="103.7" stroke="#000" stroke-width="1.55" />
<circle cx="298.9" cy="72.7" r="2.6" fill="#000"/>
<circle cx="298.9" cy="132.7" r="2.6" fill="#000"/>
<circle cx="298.9" cy="143.3" r="2.6" fill="#000"/>
<line x1="306.7" y1="68.8" x2="306.7" y2="89.5" stroke="#000" stroke-width="1.55" />
<line x1="306.7" y1="118.8" x2="306.7" y2="129.8" stroke="#000" stroke-width="1.55" />
<line x1="304.95" y1="68.8" x2="308.45" y2="68.8" stroke="#000" stroke-width="1.55" />
<line x1="304.95" y1="129.8" x2="308.45" y2="129.8" stroke="#000" stroke-width="1.55" />
<rect x="303.7" y="89.5" width="6" height="29.3" fill="#fff" stroke="#000" stroke-width="1.55"/>
<line x1="303.7" y1="107.7" x2="309.7" y2="107.7" stroke="#000" stroke-width="1.55" />
<circle cx="306.4" cy="41.9" r="2.6" fill="#000"/>
<circle cx="306.4" cy="64.4" r="2.6" fill="#000"/>
<circle cx="306.4" cy="131.3" r="2.6" fill="#000"/>
<circle cx="306.4" cy="141.3" r="2.6" fill="#000"/>
<line x1="315.1" y1="69.2" x2="315.1" y2="80.9" stroke="#000" stroke-width="1.55" />
<line x1="315.1" y1="125" x2="315.1" y2="140.4" stroke="#000" stroke-width="1.55" />
<line x1="313.35" y1="69.2" x2="316.85" y2="69.2" stroke="#000" stroke-width="1.55" />
<line x1="313.35" y1="140.4" x2="316.85" y2="140.4" stroke="#000" stroke-width="1.55" />
<rect x="312.1" y="80.9" width="6" height="44.1" fill="#fff" stroke="#000" stroke-width="1.55"/>
<line x1="312.1" y1="110" x2="318.1" y2="110" stroke="#000" stroke-width="1.55" />
<circle cx="314.8" cy="51.2" r="2.6" fill="#000"/>
<circle cx="314.8" cy="66.2" r="2.6" fill="#000"/>
<circle cx="314.8" cy="141.3" r="2.6" fill="#000"/>
<circle cx="314.8" cy="145.2" r="2.6" fill="#000"/>
<line x1="323.6" y1="88" x2="323.6" y2="97.7" stroke="#000" stroke-width="1.55" />
<line x1="323.6" y1="125" x2="323.6" y2="130.8" stroke="#000" stroke-width="1.55" />
<line x1="321.85" y1="88" x2="325.35" y2="88" stroke="#000" stroke-width="1.55" />
<line x1="321.85" y1="130.8" x2="325.35" y2="130.8" stroke="#000" stroke-width="1.55" />
<rect x="320.6" y="97.7" width="6" height="27.3" fill="#fff" stroke="#000" stroke-width="1.55"/>
<line x1="320.6" y1="113.5" x2="326.6" y2="113.5" stroke="#000" stroke-width="1.55" />
<circle cx="323.3" cy="65.6" r="2.6" fill="#000"/>
<circle cx="323.3" cy="85.2" r="2.6" fill="#000"/>
<circle cx="323.3" cy="132.7" r="2.6" fill="#000"/>
<circle cx="323.3" cy="135.6" r="2.6" fill="#000"/>
<line x1="332.2" y1="95.8" x2="332.2" y2="106.3" stroke="#000" stroke-width="1.55" />
<line x1="332.2" y1="128.8" x2="332.2" y2="132.7" stroke="#000" stroke-width="1.55" />
<line x1="330.45" y1="95.8" x2="333.95" y2="95.8" stroke="#000" stroke-width="1.55" />
<line x1="330.45" y1="132.7" x2="333.95" y2="132.7" stroke="#000" stroke-width="1.55" />
<rect x="329.2" y="106.3" width="6" height="22.5" fill="#fff" stroke="#000" stroke-width="1.55"/>
<line x1="329.2" y1="114.4" x2="335.2" y2="114.4" stroke="#000" stroke-width="1.55" />
<circle cx="331.9" cy="89" r="2.6" fill="#000"/>
<circle cx="331.9" cy="92" r="2.6" fill="#000"/>
<circle cx="331.9" cy="134.6" r="2.6" fill="#000"/>
<circle cx="331.9" cy="137.5" r="2.6" fill="#000"/>
<line x1="350.9" y1="121.9" x2="350.9" y2="129.6" stroke="#000" stroke-width="1.55" />
<line x1="350.9" y1="140.2" x2="350.9" y2="144.6" stroke="#000" stroke-width="1.55" />
<line x1="349.15" y1="121.9" x2="352.65" y2="121.9" stroke="#000" stroke-width="1.55" />
<line x1="349.15" y1="144.6" x2="352.65" y2="144.6" stroke="#000" stroke-width="1.55" />
<rect x="347.9" y="129.6" width="6" height="10.6" fill="#fff" stroke="#000" stroke-width="1.55"/>
<line x1="347.9" y1="134.4" x2="353.9" y2="134.4" stroke="#000" stroke-width="1.55" />
<circle cx="350.6" cy="118.1" r="2.6" fill="#000"/>
<circle cx="350.6" cy="146" r="2.6" fill="#000"/>
<circle cx="350.6" cy="155" r="2.6" fill="#000"/>
<line x1="360.1" y1="129.6" x2="360.1" y2="134.4" stroke="#000" stroke-width="1.55" />
<line x1="360.1" y1="147.3" x2="360.1" y2="149" stroke="#000" stroke-width="1.55" />
<line x1="358.35" y1="129.6" x2="361.85" y2="129.6" stroke="#000" stroke-width="1.55" />
<line x1="358.35" y1="149" x2="361.85" y2="149" stroke="#000" stroke-width="1.55" />
<rect x="357.1" y="134.4" width="6" height="12.9" fill="#fff" stroke="#000" stroke-width="1.55"/>
<line x1="357.1" y1="141.2" x2="363.1" y2="141.2" stroke="#000" stroke-width="1.55" />
<circle cx="359.8" cy="122.9" r="2.6" fill="#000"/>
<circle cx="359.8" cy="129.6" r="2.6" fill="#000"/>
<circle cx="359.8" cy="150.4" r="2.6" fill="#000"/>
<line x1="367.7" y1="132.5" x2="367.7" y2="139.6" stroke="#000" stroke-width="1.55" />
<line x1="367.7" y1="148.5" x2="367.7" y2="151.7" stroke="#000" stroke-width="1.55" />
<line x1="365.95" y1="132.5" x2="369.45" y2="132.5" stroke="#000" stroke-width="1.55" />
<line x1="365.95" y1="151.7" x2="369.45" y2="151.7" stroke="#000" stroke-width="1.55" />
<rect x="364.7" y="139.6" width="6" height="8.9" fill="#fff" stroke="#000" stroke-width="1.55"/>
<line x1="364.7" y1="142.7" x2="370.7" y2="142.7" stroke="#000" stroke-width="1.55" />
<circle cx="367.4" cy="126.2" r="2.6" fill="#000"/>
<circle cx="367.4" cy="135.8" r="2.6" fill="#000"/>
<circle cx="367.4" cy="152.3" r="2.6" fill="#000"/>
<line x1="376.2" y1="121.9" x2="376.2" y2="130.6" stroke="#000" stroke-width="1.55" />
<line x1="376.2" y1="139.6" x2="376.2" y2="149.4" stroke="#000" stroke-width="1.55" />
<line x1="374.45" y1="121.9" x2="377.95" y2="121.9" stroke="#000" stroke-width="1.55" />
<line x1="374.45" y1="149.4" x2="377.95" y2="149.4" stroke="#000" stroke-width="1.55" />
<rect x="373.2" y="130.6" width="6" height="9" fill="#fff" stroke="#000" stroke-width="1.55"/>
<line x1="373.2" y1="134" x2="379.2" y2="134" stroke="#000" stroke-width="1.55" />
<circle cx="375.9" cy="100.8" r="2.6" fill="#000"/>
<circle cx="375.9" cy="114.8" r="2.6" fill="#000"/>
<circle cx="375.9" cy="151.2" r="2.6" fill="#000"/>
<line x1="384.8" y1="125.4" x2="384.8" y2="134.8" stroke="#000" stroke-width="1.55" />
<line x1="384.8" y1="143.1" x2="384.8" y2="148.8" stroke="#000" stroke-width="1.55" />
<line x1="383.05" y1="125.4" x2="386.55" y2="125.4" stroke="#000" stroke-width="1.55" />
<line x1="383.05" y1="148.8" x2="386.55" y2="148.8" stroke="#000" stroke-width="1.55" />
<rect x="381.8" y="134.8" width="6" height="8.3" fill="#fff" stroke="#000" stroke-width="1.55"/>
<line x1="381.8" y1="138.8" x2="387.8" y2="138.8" stroke="#000" stroke-width="1.55" />
<circle cx="384.5" cy="118.1" r="2.6" fill="#000"/>
<circle cx="384.5" cy="125.2" r="2.6" fill="#000"/>
<circle cx="384.5" cy="147.3" r="2.6" fill="#000"/>
<circle cx="384.5" cy="153.7" r="2.6" fill="#000"/>
<line x1="393.2" y1="127.7" x2="393.2" y2="137.7" stroke="#000" stroke-width="1.55" />
<line x1="393.2" y1="146.9" x2="393.2" y2="152.7" stroke="#000" stroke-width="1.55" />
<line x1="391.45" y1="127.7" x2="394.95" y2="127.7" stroke="#000" stroke-width="1.55" />
<line x1="391.45" y1="152.7" x2="394.95" y2="152.7" stroke="#000" stroke-width="1.55" />
<rect x="390.2" y="137.7" width="6" height="9.2" fill="#fff" stroke="#000" stroke-width="1.55"/>
<line x1="390.2" y1="141.7" x2="396.2" y2="141.7" stroke="#000" stroke-width="1.55" />
<circle cx="392.9" cy="124.8" r="2.6" fill="#000"/>
<circle cx="392.9" cy="129.6" r="2.6" fill="#000"/>
<circle cx="392.9" cy="150.8" r="2.6" fill="#000"/>
<circle cx="392.9" cy="156.2" r="2.6" fill="#000"/>
<line x1="401.4" y1="129.2" x2="401.4" y2="135.4" stroke="#000" stroke-width="1.55" />
<line x1="401.4" y1="144" x2="401.4" y2="151.7" stroke="#000" stroke-width="1.55" />
<line x1="399.65" y1="129.2" x2="403.15" y2="129.2" stroke="#000" stroke-width="1.55" />
<line x1="399.65" y1="151.7" x2="403.15" y2="151.7" stroke="#000" stroke-width="1.55" />
<rect x="398.4" y="135.4" width="6" height="8.6" fill="#fff" stroke="#000" stroke-width="1.55"/>
<line x1="398.4" y1="139.6" x2="404.4" y2="139.6" stroke="#000" stroke-width="1.55" />
<circle cx="401.1" cy="126.2" r="2.6" fill="#000"/>
<circle cx="401.1" cy="130.6" r="2.6" fill="#000"/>
<circle cx="401.1" cy="146.9" r="2.6" fill="#000"/>
<circle cx="401.1" cy="155.6" r="2.6" fill="#000"/>
<line x1="409.8" y1="127.7" x2="409.8" y2="131.5" stroke="#000" stroke-width="1.55" />
<line x1="409.8" y1="143.1" x2="409.8" y2="148.8" stroke="#000" stroke-width="1.55" />
<line x1="408.05" y1="127.7" x2="411.55" y2="127.7" stroke="#000" stroke-width="1.55" />
<line x1="408.05" y1="148.8" x2="411.55" y2="148.8" stroke="#000" stroke-width="1.55" />
<rect x="406.8" y="131.5" width="6" height="11.6" fill="#fff" stroke="#000" stroke-width="1.55"/>
<line x1="406.8" y1="136.3" x2="412.8" y2="136.3" stroke="#000" stroke-width="1.55" />
<circle cx="409.5" cy="121.9" r="2.6" fill="#000"/>
<circle cx="409.5" cy="125.8" r="2.6" fill="#000"/>
<circle cx="409.5" cy="150.8" r="2.6" fill="#000"/>
<line x1="418.5" y1="130.6" x2="418.5" y2="135" stroke="#000" stroke-width="1.55" />
<line x1="418.5" y1="143.1" x2="418.5" y2="148.8" stroke="#000" stroke-width="1.55" />
<line x1="416.75" y1="130.6" x2="420.25" y2="130.6" stroke="#000" stroke-width="1.55" />
<line x1="416.75" y1="148.8" x2="420.25" y2="148.8" stroke="#000" stroke-width="1.55" />
<rect x="415.5" y="135" width="6" height="8.1" fill="#fff" stroke="#000" stroke-width="1.55"/>
<line x1="415.5" y1="140.2" x2="421.5" y2="140.2" stroke="#000" stroke-width="1.55" />
<circle cx="418.2" cy="117.1" r="2.6" fill="#000"/>
<circle cx="418.2" cy="125.4" r="2.6" fill="#000"/>
<circle cx="418.2" cy="150.8" r="2.6" fill="#000"/>
<line x1="437.5" y1="97.2" x2="437.5" y2="109.2" stroke="#000" stroke-width="1.55" />
<line x1="437.5" y1="145.2" x2="437.5" y2="154.8" stroke="#000" stroke-width="1.55" />
<line x1="435.75" y1="97.2" x2="439.25" y2="97.2" stroke="#000" stroke-width="1.55" />
<line x1="435.75" y1="154.8" x2="439.25" y2="154.8" stroke="#000" stroke-width="1.55" />
<rect x="434.25" y="109.2" width="6.5" height="36" fill="#fff" stroke="#000" stroke-width="1.55"/>
<line x1="434.25" y1="126.5" x2="440.75" y2="126.5" stroke="#000" stroke-width="1.55" />
<circle cx="437.2" cy="44.8" r="2.6" fill="#000"/>
<circle cx="437.2" cy="86.5" r="2.6" fill="#000"/>
<circle cx="437.2" cy="155.8" r="2.6" fill="#000"/>
<line x1="446" y1="61.2" x2="446" y2="66.9" stroke="#000" stroke-width="1.55" />
<line x1="446" y1="135.6" x2="446" y2="148" stroke="#000" stroke-width="1.55" />
<line x1="444.25" y1="61.2" x2="447.75" y2="61.2" stroke="#000" stroke-width="1.55" />
<line x1="444.25" y1="148" x2="447.75" y2="148" stroke="#000" stroke-width="1.55" />
<rect x="442.75" y="66.9" width="6.5" height="68.7" fill="#fff" stroke="#000" stroke-width="1.55"/>
<line x1="442.75" y1="103.6" x2="449.25" y2="103.6" stroke="#000" stroke-width="1.55" />
<circle cx="445.7" cy="47.3" r="2.6" fill="#000"/>
<circle cx="445.7" cy="59.2" r="2.6" fill="#000"/>
<circle cx="445.7" cy="149" r="2.6" fill="#000"/>
<circle cx="445.7" cy="154.8" r="2.6" fill="#000"/>
<line x1="454.5" y1="49.2" x2="454.5" y2="61.7" stroke="#000" stroke-width="1.55" />
<line x1="454.5" y1="114.4" x2="454.5" y2="119.2" stroke="#000" stroke-width="1.55" />
<line x1="452.75" y1="49.2" x2="456.25" y2="49.2" stroke="#000" stroke-width="1.55" />
<line x1="452.75" y1="119.2" x2="456.25" y2="119.2" stroke="#000" stroke-width="1.55" />
<rect x="451.25" y="61.7" width="6.5" height="52.7" fill="#fff" stroke="#000" stroke-width="1.55"/>
<line x1="451.25" y1="97.2" x2="457.75" y2="97.2" stroke="#000" stroke-width="1.55" />
<circle cx="454.2" cy="36.5" r="2.6" fill="#000"/>
<circle cx="454.2" cy="47.3" r="2.6" fill="#000"/>
<circle cx="454.2" cy="120.2" r="2.6" fill="#000"/>
<circle cx="454.2" cy="159" r="2.6" fill="#000"/>
<line x1="462.7" y1="64.6" x2="462.7" y2="85.3" stroke="#000" stroke-width="1.55" />
<line x1="462.7" y1="116.3" x2="462.7" y2="120.2" stroke="#000" stroke-width="1.55" />
<line x1="460.95" y1="64.6" x2="464.45" y2="64.6" stroke="#000" stroke-width="1.55" />
<line x1="460.95" y1="120.2" x2="464.45" y2="120.2" stroke="#000" stroke-width="1.55" />
<rect x="459.45" y="85.3" width="6.5" height="31" fill="#fff" stroke="#000" stroke-width="1.55"/>
<line x1="459.45" y1="96.1" x2="465.95" y2="96.1" stroke="#000" stroke-width="1.55" />
<circle cx="462.4" cy="44.8" r="2.6" fill="#000"/>
<circle cx="462.4" cy="48.1" r="2.6" fill="#000"/>
<circle cx="462.4" cy="121.2" r="2.6" fill="#000"/>
<circle cx="462.4" cy="143.7" r="2.6" fill="#000"/>
<line x1="471.2" y1="58.8" x2="471.2" y2="79.1" stroke="#000" stroke-width="1.55" />
<line x1="471.2" y1="117.3" x2="471.2" y2="130.8" stroke="#000" stroke-width="1.55" />
<line x1="469.45" y1="58.8" x2="472.95" y2="58.8" stroke="#000" stroke-width="1.55" />
<line x1="469.45" y1="130.8" x2="472.95" y2="130.8" stroke="#000" stroke-width="1.55" />
<rect x="467.95" y="79.1" width="6.5" height="38.2" fill="#fff" stroke="#000" stroke-width="1.55"/>
<line x1="467.95" y1="92.5" x2="474.45" y2="92.5" stroke="#000" stroke-width="1.55" />
<circle cx="470.9" cy="54.8" r="2.6" fill="#000"/>
<circle cx="470.9" cy="138.5" r="2.6" fill="#000"/>
<line x1="479.7" y1="52.5" x2="479.7" y2="72.3" stroke="#000" stroke-width="1.55" />
<line x1="479.7" y1="109.2" x2="479.7" y2="130.8" stroke="#000" stroke-width="1.55" />
<line x1="477.95" y1="52.5" x2="481.45" y2="52.5" stroke="#000" stroke-width="1.55" />
<line x1="477.95" y1="130.8" x2="481.45" y2="130.8" stroke="#000" stroke-width="1.55" />
<rect x="476.45" y="72.3" width="6.5" height="36.9" fill="#fff" stroke="#000" stroke-width="1.55"/>
<line x1="476.45" y1="88.9" x2="482.95" y2="88.9" stroke="#000" stroke-width="1.55" />
<circle cx="479.4" cy="41.9" r="2.6" fill="#000"/>
<circle cx="479.4" cy="51.2" r="2.6" fill="#000"/>
<circle cx="479.4" cy="146.5" r="2.6" fill="#000"/>
<circle cx="479.4" cy="152.9" r="2.6" fill="#000"/>
<line x1="487.3" y1="54.4" x2="487.3" y2="73.7" stroke="#000" stroke-width="1.55" />
<line x1="487.3" y1="114.4" x2="487.3" y2="123" stroke="#000" stroke-width="1.55" />
<line x1="485.55" y1="54.4" x2="489.05" y2="54.4" stroke="#000" stroke-width="1.55" />
<line x1="485.55" y1="123" x2="489.05" y2="123" stroke="#000" stroke-width="1.55" />
<rect x="484.05" y="73.7" width="6.5" height="40.7" fill="#fff" stroke="#000" stroke-width="1.55"/>
<line x1="484.05" y1="94.5" x2="490.55" y2="94.5" stroke="#000" stroke-width="1.55" />
<circle cx="487" cy="48.7" r="2.6" fill="#000"/>
<circle cx="487" cy="53.1" r="2.6" fill="#000"/>
<circle cx="487" cy="124.6" r="2.6" fill="#000"/>
<circle cx="487" cy="139" r="2.6" fill="#000"/>
<line x1="495.9" y1="59.2" x2="495.9" y2="66.9" stroke="#000" stroke-width="1.55" />
<line x1="495.9" y1="109" x2="495.9" y2="120.2" stroke="#000" stroke-width="1.55" />
<line x1="494.15" y1="59.2" x2="497.65" y2="59.2" stroke="#000" stroke-width="1.55" />
<line x1="494.15" y1="120.2" x2="497.65" y2="120.2" stroke="#000" stroke-width="1.55" />
<rect x="492.65" y="66.9" width="6.5" height="42.1" fill="#fff" stroke="#000" stroke-width="1.55"/>
<line x1="492.65" y1="91.4" x2="499.15" y2="91.4" stroke="#000" stroke-width="1.55" />
<circle cx="495.6" cy="50.6" r="2.6" fill="#000"/>
<circle cx="495.6" cy="52" r="2.6" fill="#000"/>
<circle cx="495.6" cy="121.7" r="2.6" fill="#000"/>
<circle cx="495.6" cy="132.7" r="2.6" fill="#000"/>
<line x1="504.9" y1="54.4" x2="504.9" y2="66.9" stroke="#000" stroke-width="1.55" />
<line x1="504.9" y1="93.1" x2="504.9" y2="105.8" stroke="#000" stroke-width="1.55" />
<line x1="503.15" y1="54.4" x2="506.65" y2="54.4" stroke="#000" stroke-width="1.55" />
<line x1="503.15" y1="105.8" x2="506.65" y2="105.8" stroke="#000" stroke-width="1.55" />
<rect x="501.65" y="66.9" width="6.5" height="26.2" fill="#fff" stroke="#000" stroke-width="1.55"/>
<line x1="501.65" y1="83.1" x2="508.15" y2="83.1" stroke="#000" stroke-width="1.55" />
<circle cx="504.6" cy="47.3" r="2.6" fill="#000"/>
<circle cx="504.6" cy="53.5" r="2.6" fill="#000"/>
<circle cx="504.6" cy="107.3" r="2.6" fill="#000"/>
<circle cx="504.6" cy="120.2" r="2.6" fill="#000"/>
<circle cx="280.4" cy="35.6" r="2.6" fill="#000"/>
<line x1="268.7" y1="35.2" x2="332.7" y2="35.2" stroke="#000" stroke-width="1.3" />
<line x1="441.2" y1="35.2" x2="505.6" y2="35.2" stroke="#000" stroke-width="1.3" />
<text x="284.6" y="34.8" font-size="15.5" font-weight="bold" text-anchor="start" fill="#000" textLength="26" lengthAdjust="spacingAndGlyphs" font-family="'DejaVu Sans', sans-serif">***</text>
<text x="453.7" y="34.8" font-size="15.5" font-weight="bold" text-anchor="start" fill="#000" textLength="26" lengthAdjust="spacingAndGlyphs" font-family="'DejaVu Sans', sans-serif">***</text>
<text x="276.2" y="16" font-size="14.7" font-weight="normal" text-anchor="start" fill="#000" textLength="35" lengthAdjust="spacingAndGlyphs" stroke="#000" stroke-width="0.2">CD57</text>
<text x="312.4" y="11.5" font-size="11" font-weight="normal" text-anchor="start" fill="#000" textLength="3.2" lengthAdjust="spacingAndGlyphs" stroke="#000" stroke-width="0.3">-</text>
<text x="358.2" y="16" font-size="14.7" font-weight="normal" text-anchor="start" fill="#000" textLength="35.4" lengthAdjust="spacingAndGlyphs" stroke="#000" stroke-width="0.2">CD57</text>
<text x="394.6" y="11.4" font-size="9" font-weight="normal" text-anchor="start" fill="#000" textLength="12.8" lengthAdjust="spacingAndGlyphs" stroke="#000" stroke-width="0.3">int</text>
<text x="448.9" y="16" font-size="14.7" font-weight="normal" text-anchor="start" fill="#000" textLength="34.7" lengthAdjust="spacingAndGlyphs" stroke="#000" stroke-width="0.2">CD57</text>
<text x="484.5" y="11.4" font-size="9.5" font-weight="normal" text-anchor="start" fill="#000" textLength="5.2" lengthAdjust="spacingAndGlyphs" stroke="#000" stroke-width="0.3">+</text>
<text x="262" y="184" font-size="13" font-weight="normal" text-anchor="start" fill="#000" transform="rotate(-52 262 184)" stroke="#000" stroke-width="0.3">≤2</text>
<line x1="267" y1="182" x2="320.8" y2="182" stroke="#000" stroke-width="1.5" />
<polyline points="313.8,177.5 320.8,182 313.8,186.5" fill="none" stroke="#000" stroke-width="1.5"/>
<text x="328" y="190" font-size="13" font-weight="normal" text-anchor="start" fill="#000" transform="rotate(-52 328 190)" stroke="#000" stroke-width="0.3">≥40</text>
<text x="349" y="184" font-size="13" font-weight="normal" text-anchor="start" fill="#000" transform="rotate(-52 349 184)" stroke="#000" stroke-width="0.3">≤2</text>
<line x1="354" y1="182" x2="405.5" y2="182" stroke="#000" stroke-width="1.5" />
<polyline points="398.5,177.5 405.5,182 398.5,186.5" fill="none" stroke="#000" stroke-width="1.5"/>
<text x="414" y="190" font-size="13" font-weight="normal" text-anchor="start" fill="#000" transform="rotate(-52 414 190)" stroke="#000" stroke-width="0.3">≥40</text>
<text x="435" y="184" font-size="13" font-weight="normal" text-anchor="start" fill="#000" transform="rotate(-52 435 184)" stroke="#000" stroke-width="0.3">≤2</text>
<line x1="440" y1="182" x2="491.5" y2="182" stroke="#000" stroke-width="1.5" />
<polyline points="484.5,177.5 491.5,182 484.5,186.5" fill="none" stroke="#000" stroke-width="1.5"/>
<text x="501" y="190" font-size="13" font-weight="normal" text-anchor="start" fill="#000" transform="rotate(-52 501 190)" stroke="#000" stroke-width="0.3">≥40</text>
<rect x="257.4" y="222.3" width="221.7" height="138.1" fill="none" stroke="#000" stroke-width="1.5"/>
<line x1="253.4" y1="360.4" x2="257.4" y2="360.4" stroke="#000" stroke-width="1.3" />
<line x1="479.1" y1="360.4" x2="482.8" y2="360.4" stroke="#000" stroke-width="1.2" />
<line x1="254.6" y1="353.5" x2="257.4" y2="353.5" stroke="#000" stroke-width="1.1" />
<line x1="479.1" y1="353.5" x2="481.6" y2="353.5" stroke="#000" stroke-width="1.1" />
<line x1="253.4" y1="346.59" x2="257.4" y2="346.59" stroke="#000" stroke-width="1.3" />
<line x1="479.1" y1="346.59" x2="482.8" y2="346.59" stroke="#000" stroke-width="1.2" />
<line x1="254.6" y1="339.69" x2="257.4" y2="339.69" stroke="#000" stroke-width="1.1" />
<line x1="479.1" y1="339.69" x2="481.6" y2="339.69" stroke="#000" stroke-width="1.1" />
<line x1="253.4" y1="332.78" x2="257.4" y2="332.78" stroke="#000" stroke-width="1.3" />
<line x1="479.1" y1="332.78" x2="482.8" y2="332.78" stroke="#000" stroke-width="1.2" />
<line x1="254.6" y1="325.88" x2="257.4" y2="325.88" stroke="#000" stroke-width="1.1" />
<line x1="479.1" y1="325.88" x2="481.6" y2="325.88" stroke="#000" stroke-width="1.1" />
<line x1="253.4" y1="318.97" x2="257.4" y2="318.97" stroke="#000" stroke-width="1.3" />
<line x1="479.1" y1="318.97" x2="482.8" y2="318.97" stroke="#000" stroke-width="1.2" />
<line x1="254.6" y1="312.06" x2="257.4" y2="312.06" stroke="#000" stroke-width="1.1" />
<line x1="479.1" y1="312.06" x2="481.6" y2="312.06" stroke="#000" stroke-width="1.1" />
<line x1="253.4" y1="305.16" x2="257.4" y2="305.16" stroke="#000" stroke-width="1.3" />
<line x1="479.1" y1="305.16" x2="482.8" y2="305.16" stroke="#000" stroke-width="1.2" />
<line x1="254.6" y1="298.25" x2="257.4" y2="298.25" stroke="#000" stroke-width="1.1" />
<line x1="479.1" y1="298.25" x2="481.6" y2="298.25" stroke="#000" stroke-width="1.1" />
<line x1="253.4" y1="291.35" x2="257.4" y2="291.35" stroke="#000" stroke-width="1.3" />
<line x1="479.1" y1="291.35" x2="482.8" y2="291.35" stroke="#000" stroke-width="1.2" />
<line x1="254.6" y1="284.44" x2="257.4" y2="284.44" stroke="#000" stroke-width="1.1" />
<line x1="479.1" y1="284.44" x2="481.6" y2="284.44" stroke="#000" stroke-width="1.1" />
<line x1="253.4" y1="277.54" x2="257.4" y2="277.54" stroke="#000" stroke-width="1.3" />
<line x1="479.1" y1="277.54" x2="482.8" y2="277.54" stroke="#000" stroke-width="1.2" />
<line x1="254.6" y1="270.63" x2="257.4" y2="270.63" stroke="#000" stroke-width="1.1" />
<line x1="479.1" y1="270.63" x2="481.6" y2="270.63" stroke="#000" stroke-width="1.1" />
<line x1="253.4" y1="263.73" x2="257.4" y2="263.73" stroke="#000" stroke-width="1.3" />
<line x1="479.1" y1="263.73" x2="482.8" y2="263.73" stroke="#000" stroke-width="1.2" />
<line x1="254.6" y1="256.83" x2="257.4" y2="256.83" stroke="#000" stroke-width="1.1" />
<line x1="479.1" y1="256.83" x2="481.6" y2="256.83" stroke="#000" stroke-width="1.1" />
<line x1="253.4" y1="249.92" x2="257.4" y2="249.92" stroke="#000" stroke-width="1.3" />
<line x1="479.1" y1="249.92" x2="482.8" y2="249.92" stroke="#000" stroke-width="1.2" />
<line x1="254.6" y1="243.02" x2="257.4" y2="243.02" stroke="#000" stroke-width="1.1" />
<line x1="479.1" y1="243.02" x2="481.6" y2="243.02" stroke="#000" stroke-width="1.1" />
<line x1="253.4" y1="236.11" x2="257.4" y2="236.11" stroke="#000" stroke-width="1.3" />
<line x1="479.1" y1="236.11" x2="482.8" y2="236.11" stroke="#000" stroke-width="1.2" />
<line x1="254.6" y1="229.21" x2="257.4" y2="229.21" stroke="#000" stroke-width="1.1" />
<line x1="479.1" y1="229.21" x2="481.6" y2="229.21" stroke="#000" stroke-width="1.1" />
<line x1="253.4" y1="222.3" x2="257.4" y2="222.3" stroke="#000" stroke-width="1.3" />
<line x1="479.1" y1="222.3" x2="482.8" y2="222.3" stroke="#000" stroke-width="1.2" />
<line x1="260.6" y1="220.8" x2="260.6" y2="222.3" stroke="#000" stroke-width="1" />
<line x1="260.6" y1="360.4" x2="260.6" y2="362.2" stroke="#000" stroke-width="1" />
<line x1="282.3" y1="220.8" x2="282.3" y2="222.3" stroke="#000" stroke-width="1" />
<line x1="282.3" y1="360.4" x2="282.3" y2="362.2" stroke="#000" stroke-width="1" />
<line x1="303.4" y1="220.8" x2="303.4" y2="222.3" stroke="#000" stroke-width="1" />
<line x1="303.4" y1="360.4" x2="303.4" y2="362.2" stroke="#000" stroke-width="1" />
<line x1="324.7" y1="220.8" x2="324.7" y2="222.3" stroke="#000" stroke-width="1" />
<line x1="324.7" y1="360.4" x2="324.7" y2="362.2" stroke="#000" stroke-width="1" />
<line x1="346.2" y1="220.8" x2="346.2" y2="222.3" stroke="#000" stroke-width="1" />
<line x1="346.2" y1="360.4" x2="346.2" y2="362.2" stroke="#000" stroke-width="1" />
<line x1="368" y1="220.8" x2="368" y2="222.3" stroke="#000" stroke-width="1" />
<line x1="368" y1="360.4" x2="368" y2="362.2" stroke="#000" stroke-width="1" />
<line x1="389.5" y1="220.8" x2="389.5" y2="222.3" stroke="#000" stroke-width="1" />
<line x1="389.5" y1="360.4" x2="389.5" y2="362.2" stroke="#000" stroke-width="1" />
<line x1="411" y1="220.8" x2="411" y2="222.3" stroke="#000" stroke-width="1" />
<line x1="411" y1="360.4" x2="411" y2="362.2" stroke="#000" stroke-width="1" />
<line x1="432.2" y1="220.8" x2="432.2" y2="222.3" stroke="#000" stroke-width="1" />
<line x1="432.2" y1="360.4" x2="432.2" y2="362.2" stroke="#000" stroke-width="1" />
<line x1="453.4" y1="220.8" x2="453.4" y2="222.3" stroke="#000" stroke-width="1" />
<line x1="453.4" y1="360.4" x2="453.4" y2="362.2" stroke="#000" stroke-width="1" />
<line x1="475" y1="220.8" x2="475" y2="222.3" stroke="#000" stroke-width="1" />
<line x1="475" y1="360.4" x2="475" y2="362.2" stroke="#000" stroke-width="1" />
<text x="250.5" y="226.3" font-size="12.4" font-weight="normal" text-anchor="end" fill="#000" textLength="21.6" lengthAdjust="spacingAndGlyphs" stroke="#000" stroke-width="0.3">100</text>
<text x="248.5" y="253.9" font-size="12.4" font-weight="normal" text-anchor="end" fill="#000" textLength="14.8" lengthAdjust="spacingAndGlyphs" stroke="#000" stroke-width="0.3">80</text>
<text x="248.5" y="281.5" font-size="12.4" font-weight="normal" text-anchor="end" fill="#000" textLength="14.8" lengthAdjust="spacingAndGlyphs" stroke="#000" stroke-width="0.3">60</text>
<text x="248.5" y="309.2" font-size="12.4" font-weight="normal" text-anchor="end" fill="#000" textLength="14.8" lengthAdjust="spacingAndGlyphs" stroke="#000" stroke-width="0.3">40</text>
<text x="248.5" y="336.8" font-size="12.4" font-weight="normal" text-anchor="end" fill="#000" textLength="14.8" lengthAdjust="spacingAndGlyphs" stroke="#000" stroke-width="0.3">20</text>
<text x="245" y="364.4" font-size="12.4" font-weight="normal" text-anchor="end" fill="#000" textLength="7.3" lengthAdjust="spacingAndGlyphs" stroke="#000" stroke-width="0.3">0</text>
<text x="223.3" y="356.2" font-size="14" font-weight="normal" text-anchor="start" fill="#000" textLength="136.2" lengthAdjust="spacingAndGlyphs" transform="rotate(-90 223.3 356.2)" stroke="#000" stroke-width="0.25">% of CD56dim NK cells</text>
<line x1="282.3" y1="245" x2="282.3" y2="253" stroke="#000" stroke-width="1.5" />
<line x1="282.3" y1="283" x2="282.3" y2="295" stroke="#000" stroke-width="1.5" />
<line x1="280.8" y1="245" x2="283.8" y2="245" stroke="#000" stroke-width="1.5" />
<line x1="280.8" y1="295" x2="283.8" y2="295" stroke="#000" stroke-width="1.5" />
<rect x="274.55" y="253" width="15.5" height="30" fill="#fff" stroke="#000" stroke-width="1.5"/>
<line x1="274.55" y1="268" x2="290.05" y2="268" stroke="#000" stroke-width="1.5" />
<circle cx="282" cy="241.2" r="3.3" fill="#000"/>
<circle cx="282" cy="243.7" r="3.3" fill="#000"/>
<circle cx="282" cy="298.2" r="3.3" fill="#000"/>
<circle cx="282" cy="315.7" r="3.3" fill="#000"/>
<line x1="303.4" y1="245" x2="303.4" y2="258.5" stroke="#000" stroke-width="1.5" />
<line x1="303.4" y1="293" x2="303.4" y2="318" stroke="#000" stroke-width="1.5" />
<line x1="301.9" y1="245" x2="304.9" y2="245" stroke="#000" stroke-width="1.5" />
<line x1="301.9" y1="318" x2="304.9" y2="318" stroke="#000" stroke-width="1.5" />
<rect x="295.65" y="258.5" width="15.5" height="34.5" fill="#fff" stroke="#000" stroke-width="1.5"/>
<line x1="295.65" y1="271" x2="311.15" y2="271" stroke="#000" stroke-width="1.5" />
<circle cx="303.1" cy="240" r="3.3" fill="#000"/>
<circle cx="303.1" cy="243.7" r="3.3" fill="#000"/>
<circle cx="303.1" cy="323.5" r="3.3" fill="#000"/>
<circle cx="303.1" cy="331.2" r="3.3" fill="#000"/>
<line x1="324.7" y1="236" x2="324.7" y2="238.2" stroke="#000" stroke-width="1.5" />
<line x1="324.7" y1="302.3" x2="324.7" y2="321" stroke="#000" stroke-width="1.5" />
<line x1="323.2" y1="236" x2="326.2" y2="236" stroke="#000" stroke-width="1.5" />
<line x1="323.2" y1="321" x2="326.2" y2="321" stroke="#000" stroke-width="1.5" />
<rect x="316.95" y="238.2" width="15.5" height="64.1" fill="#fff" stroke="#000" stroke-width="1.5"/>
<line x1="316.95" y1="277.7" x2="332.45" y2="277.7" stroke="#000" stroke-width="1.5" />
<circle cx="324.4" cy="231.2" r="3.3" fill="#000"/>
<circle cx="324.4" cy="233.7" r="3.3" fill="#000"/>
<circle cx="324.4" cy="323.7" r="3.3" fill="#000"/>
<circle cx="324.4" cy="333.7" r="3.3" fill="#000"/>
<line x1="346.2" y1="240" x2="346.2" y2="261.2" stroke="#000" stroke-width="1.5" />
<line x1="346.2" y1="311.7" x2="346.2" y2="326" stroke="#000" stroke-width="1.5" />
<line x1="344.7" y1="240" x2="347.7" y2="240" stroke="#000" stroke-width="1.5" />
<line x1="344.7" y1="326" x2="347.7" y2="326" stroke="#000" stroke-width="1.5" />
<rect x="338.45" y="261.2" width="15.5" height="50.5" fill="#fff" stroke="#000" stroke-width="1.5"/>
<line x1="338.45" y1="288.2" x2="353.95" y2="288.2" stroke="#000" stroke-width="1.5" />
<circle cx="345.9" cy="235" r="3.3" fill="#000"/>
<circle cx="345.9" cy="238.7" r="3.3" fill="#000"/>
<circle cx="345.9" cy="327.5" r="3.3" fill="#000"/>
<circle cx="345.9" cy="330.7" r="3.3" fill="#000"/>
<line x1="368" y1="241.2" x2="368" y2="254.2" stroke="#000" stroke-width="1.5" />
<line x1="368" y1="303" x2="368" y2="311" stroke="#000" stroke-width="1.5" />
<line x1="366.5" y1="241.2" x2="369.5" y2="241.2" stroke="#000" stroke-width="1.5" />
<line x1="366.5" y1="311" x2="369.5" y2="311" stroke="#000" stroke-width="1.5" />
<rect x="360.25" y="254.2" width="15.5" height="48.8" fill="#fff" stroke="#000" stroke-width="1.5"/>
<line x1="360.25" y1="278.7" x2="375.75" y2="278.7" stroke="#000" stroke-width="1.5" />
<circle cx="367.7" cy="235" r="3.3" fill="#000"/>
<circle cx="367.7" cy="238.7" r="3.3" fill="#000"/>
<circle cx="367.7" cy="313.5" r="3.3" fill="#000"/>
<circle cx="367.7" cy="344.5" r="3.3" fill="#000"/>
<line x1="389.5" y1="242.5" x2="389.5" y2="253.7" stroke="#000" stroke-width="1.5" />
<line x1="389.5" y1="306.5" x2="389.5" y2="321" stroke="#000" stroke-width="1.5" />
<line x1="388" y1="242.5" x2="391" y2="242.5" stroke="#000" stroke-width="1.5" />
<line x1="388" y1="321" x2="391" y2="321" stroke="#000" stroke-width="1.5" />
<rect x="381.75" y="253.7" width="15.5" height="52.8" fill="#fff" stroke="#000" stroke-width="1.5"/>
<line x1="381.75" y1="269.5" x2="397.25" y2="269.5" stroke="#000" stroke-width="1.5" />
<circle cx="389.2" cy="231.2" r="3.3" fill="#000"/>
<circle cx="389.2" cy="240.7" r="3.3" fill="#000"/>
<circle cx="389.2" cy="322.5" r="3.3" fill="#000"/>
<line x1="411" y1="243.7" x2="411" y2="263.7" stroke="#000" stroke-width="1.5" />
<line x1="411" y1="300" x2="411" y2="330" stroke="#000" stroke-width="1.5" />
<line x1="409.5" y1="243.7" x2="412.5" y2="243.7" stroke="#000" stroke-width="1.5" />
<line x1="409.5" y1="330" x2="412.5" y2="330" stroke="#000" stroke-width="1.5" />
<rect x="403.25" y="263.7" width="15.5" height="36.3" fill="#fff" stroke="#000" stroke-width="1.5"/>
<line x1="403.25" y1="288" x2="418.75" y2="288" stroke="#000" stroke-width="1.5" />
<circle cx="410.7" cy="238.7" r="3.3" fill="#000"/>
<circle cx="410.7" cy="241" r="3.3" fill="#000"/>
<circle cx="410.7" cy="331.2" r="3.3" fill="#000"/>
<circle cx="410.7" cy="344.2" r="3.3" fill="#000"/>
<line x1="432.2" y1="252.5" x2="432.2" y2="263.7" stroke="#000" stroke-width="1.5" />
<line x1="432.2" y1="309.5" x2="432.2" y2="335.5" stroke="#000" stroke-width="1.5" />
<line x1="430.7" y1="252.5" x2="433.7" y2="252.5" stroke="#000" stroke-width="1.5" />
<line x1="430.7" y1="335.5" x2="433.7" y2="335.5" stroke="#000" stroke-width="1.5" />
<rect x="424.45" y="263.7" width="15.5" height="45.8" fill="#fff" stroke="#000" stroke-width="1.5"/>
<line x1="424.45" y1="286.6" x2="439.95" y2="286.6" stroke="#000" stroke-width="1.5" />
<circle cx="431.9" cy="240.5" r="3.3" fill="#000"/>
<circle cx="431.9" cy="248.7" r="3.3" fill="#000"/>
<circle cx="431.9" cy="337.5" r="3.3" fill="#000"/>
<circle cx="431.9" cy="344.2" r="3.3" fill="#000"/>
<line x1="453.4" y1="247.5" x2="453.4" y2="259.5" stroke="#000" stroke-width="1.5" />
<line x1="453.4" y1="296.7" x2="453.4" y2="322.5" stroke="#000" stroke-width="1.5" />
<line x1="451.9" y1="247.5" x2="454.9" y2="247.5" stroke="#000" stroke-width="1.5" />
<line x1="451.9" y1="322.5" x2="454.9" y2="322.5" stroke="#000" stroke-width="1.5" />
<rect x="445.65" y="259.5" width="15.5" height="37.2" fill="#fff" stroke="#000" stroke-width="1.5"/>
<line x1="445.65" y1="285.5" x2="461.15" y2="285.5" stroke="#000" stroke-width="1.5" />
<circle cx="453.1" cy="243.7" r="3.3" fill="#000"/>
<circle cx="453.1" cy="245.5" r="3.3" fill="#000"/>
<circle cx="453.1" cy="332" r="3.3" fill="#000"/>
<circle cx="453.1" cy="338" r="3.3" fill="#000"/>
<text x="258.8" y="213.2" font-size="15" font-weight="normal" text-anchor="start" fill="#000" textLength="35.7" lengthAdjust="spacingAndGlyphs" stroke="#000" stroke-width="0.2">CD94</text>
<text x="295.4" y="208.4" font-size="9.5" font-weight="normal" text-anchor="start" fill="#000" textLength="5.3" lengthAdjust="spacingAndGlyphs" stroke="#000" stroke-width="0.3">+</text>
<text x="277" y="383" font-size="13.5" font-weight="normal" text-anchor="start" fill="#000" transform="rotate(-52 277 383)" stroke="#000" stroke-width="0.3">≤2</text>
<line x1="296" y1="373" x2="434" y2="373" stroke="#000" stroke-width="1.5" />
<polyline points="427,368.5 434,373 427,377.5" fill="none" stroke="#000" stroke-width="1.5"/>
<text x="448" y="388" font-size="13.5" font-weight="normal" text-anchor="start" fill="#000" transform="rotate(-52 448 388)" stroke="#000" stroke-width="0.3">≥40</text>
<rect x="260.4" y="417.4" width="253.8" height="145.5" fill="none" stroke="#000" stroke-width="1.5"/>
<line x1="256.8" y1="562.9" x2="260.4" y2="562.9" stroke="#000" stroke-width="1.3" />
<line x1="514.2" y1="562.9" x2="517.9" y2="562.9" stroke="#000" stroke-width="1.2" />
<line x1="258.1" y1="550.77" x2="260.4" y2="550.77" stroke="#000" stroke-width="1.1" />
<line x1="514.2" y1="550.77" x2="516.7" y2="550.77" stroke="#000" stroke-width="1.1" />
<line x1="256.8" y1="538.65" x2="260.4" y2="538.65" stroke="#000" stroke-width="1.3" />
<line x1="514.2" y1="538.65" x2="517.9" y2="538.65" stroke="#000" stroke-width="1.2" />
<line x1="258.1" y1="526.52" x2="260.4" y2="526.52" stroke="#000" stroke-width="1.1" />
<line x1="514.2" y1="526.52" x2="516.7" y2="526.52" stroke="#000" stroke-width="1.1" />
<line x1="256.8" y1="514.4" x2="260.4" y2="514.4" stroke="#000" stroke-width="1.3" />
<line x1="514.2" y1="514.4" x2="517.9" y2="514.4" stroke="#000" stroke-width="1.2" />
<line x1="258.1" y1="502.27" x2="260.4" y2="502.27" stroke="#000" stroke-width="1.1" />
<line x1="514.2" y1="502.27" x2="516.7" y2="502.27" stroke="#000" stroke-width="1.1" />
<line x1="256.8" y1="490.15" x2="260.4" y2="490.15" stroke="#000" stroke-width="1.3" />
<line x1="514.2" y1="490.15" x2="517.9" y2="490.15" stroke="#000" stroke-width="1.2" />
<line x1="258.1" y1="478.02" x2="260.4" y2="478.02" stroke="#000" stroke-width="1.1" />
<line x1="514.2" y1="478.02" x2="516.7" y2="478.02" stroke="#000" stroke-width="1.1" />
<line x1="256.8" y1="465.9" x2="260.4" y2="465.9" stroke="#000" stroke-width="1.3" />
<line x1="514.2" y1="465.9" x2="517.9" y2="465.9" stroke="#000" stroke-width="1.2" />
<line x1="258.1" y1="453.77" x2="260.4" y2="453.77" stroke="#000" stroke-width="1.1" />
<line x1="514.2" y1="453.77" x2="516.7" y2="453.77" stroke="#000" stroke-width="1.1" />
<line x1="256.8" y1="441.65" x2="260.4" y2="441.65" stroke="#000" stroke-width="1.3" />
<line x1="514.2" y1="441.65" x2="517.9" y2="441.65" stroke="#000" stroke-width="1.2" />
<line x1="258.1" y1="429.52" x2="260.4" y2="429.52" stroke="#000" stroke-width="1.1" />
<line x1="514.2" y1="429.52" x2="516.7" y2="429.52" stroke="#000" stroke-width="1.1" />
<line x1="256.8" y1="417.4" x2="260.4" y2="417.4" stroke="#000" stroke-width="1.3" />
<line x1="514.2" y1="417.4" x2="517.9" y2="417.4" stroke="#000" stroke-width="1.2" />
<line x1="260.4" y1="416.1" x2="260.4" y2="417.4" stroke="#000" stroke-width="1" />
<line x1="260.4" y1="562.9" x2="260.4" y2="564.5" stroke="#000" stroke-width="1" />
<line x1="273.09" y1="416.1" x2="273.09" y2="417.4" stroke="#000" stroke-width="1" />
<line x1="273.09" y1="562.9" x2="273.09" y2="564.5" stroke="#000" stroke-width="1" />
<line x1="285.78" y1="416.1" x2="285.78" y2="417.4" stroke="#000" stroke-width="1" />
<line x1="285.78" y1="562.9" x2="285.78" y2="564.5" stroke="#000" stroke-width="1" />
<line x1="298.47" y1="416.1" x2="298.47" y2="417.4" stroke="#000" stroke-width="1" />
<line x1="298.47" y1="562.9" x2="298.47" y2="564.5" stroke="#000" stroke-width="1" />
<line x1="311.16" y1="416.1" x2="311.16" y2="417.4" stroke="#000" stroke-width="1" />
<line x1="311.16" y1="562.9" x2="311.16" y2="564.5" stroke="#000" stroke-width="1" />
<line x1="323.85" y1="416.1" x2="323.85" y2="417.4" stroke="#000" stroke-width="1" />
<line x1="323.85" y1="562.9" x2="323.85" y2="564.5" stroke="#000" stroke-width="1" />
<line x1="336.54" y1="416.1" x2="336.54" y2="417.4" stroke="#000" stroke-width="1" />
<line x1="336.54" y1="562.9" x2="336.54" y2="564.5" stroke="#000" stroke-width="1" />
<line x1="349.23" y1="416.1" x2="349.23" y2="417.4" stroke="#000" stroke-width="1" />
<line x1="349.23" y1="562.9" x2="349.23" y2="564.5" stroke="#000" stroke-width="1" />
<line x1="361.92" y1="416.1" x2="361.92" y2="417.4" stroke="#000" stroke-width="1" />
<line x1="361.92" y1="562.9" x2="361.92" y2="564.5" stroke="#000" stroke-width="1" />
<line x1="374.61" y1="416.1" x2="374.61" y2="417.4" stroke="#000" stroke-width="1" />
<line x1="374.61" y1="562.9" x2="374.61" y2="564.5" stroke="#000" stroke-width="1" />
<line x1="387.3" y1="416.1" x2="387.3" y2="417.4" stroke="#000" stroke-width="1" />
<line x1="387.3" y1="562.9" x2="387.3" y2="564.5" stroke="#000" stroke-width="1" />
<line x1="399.99" y1="416.1" x2="399.99" y2="417.4" stroke="#000" stroke-width="1" />
<line x1="399.99" y1="562.9" x2="399.99" y2="564.5" stroke="#000" stroke-width="1" />
<line x1="412.68" y1="416.1" x2="412.68" y2="417.4" stroke="#000" stroke-width="1" />
<line x1="412.68" y1="562.9" x2="412.68" y2="564.5" stroke="#000" stroke-width="1" />
<line x1="425.37" y1="416.1" x2="425.37" y2="417.4" stroke="#000" stroke-width="1" />
<line x1="425.37" y1="562.9" x2="425.37" y2="564.5" stroke="#000" stroke-width="1" />
<line x1="438.06" y1="416.1" x2="438.06" y2="417.4" stroke="#000" stroke-width="1" />
<line x1="438.06" y1="562.9" x2="438.06" y2="564.5" stroke="#000" stroke-width="1" />
<line x1="450.75" y1="416.1" x2="450.75" y2="417.4" stroke="#000" stroke-width="1" />
<line x1="450.75" y1="562.9" x2="450.75" y2="564.5" stroke="#000" stroke-width="1" />
<line x1="463.44" y1="416.1" x2="463.44" y2="417.4" stroke="#000" stroke-width="1" />
<line x1="463.44" y1="562.9" x2="463.44" y2="564.5" stroke="#000" stroke-width="1" />
<line x1="476.13" y1="416.1" x2="476.13" y2="417.4" stroke="#000" stroke-width="1" />
<line x1="476.13" y1="562.9" x2="476.13" y2="564.5" stroke="#000" stroke-width="1" />
<line x1="488.82" y1="416.1" x2="488.82" y2="417.4" stroke="#000" stroke-width="1" />
<line x1="488.82" y1="562.9" x2="488.82" y2="564.5" stroke="#000" stroke-width="1" />
<line x1="501.51" y1="416.1" x2="501.51" y2="417.4" stroke="#000" stroke-width="1" />
<line x1="501.51" y1="562.9" x2="501.51" y2="564.5" stroke="#000" stroke-width="1" />
<line x1="514.2" y1="416.1" x2="514.2" y2="417.4" stroke="#000" stroke-width="1" />
<line x1="514.2" y1="562.9" x2="514.2" y2="564.5" stroke="#000" stroke-width="1" />
<text x="253.5" y="421.6" font-size="12.4" font-weight="normal" text-anchor="end" fill="#000" textLength="21.6" lengthAdjust="spacingAndGlyphs" stroke="#000" stroke-width="0.3">110</text>
<text x="251.5" y="445.8" font-size="12.4" font-weight="normal" text-anchor="end" fill="#000" textLength="14.8" lengthAdjust="spacingAndGlyphs" stroke="#000" stroke-width="0.3">90</text>
<text x="251.5" y="470.1" font-size="12.4" font-weight="normal" text-anchor="end" fill="#000" textLength="14.8" lengthAdjust="spacingAndGlyphs" stroke="#000" stroke-width="0.3">70</text>
<text x="251.5" y="494.3" font-size="12.4" font-weight="normal" text-anchor="end" fill="#000" textLength="14.8" lengthAdjust="spacingAndGlyphs" stroke="#000" stroke-width="0.3">50</text>
<text x="251.5" y="518.6" font-size="12.4" font-weight="normal" text-anchor="end" fill="#000" textLength="14.8" lengthAdjust="spacingAndGlyphs" stroke="#000" stroke-width="0.3">30</text>
<text x="251.5" y="542.8" font-size="12.4" font-weight="normal" text-anchor="end" fill="#000" textLength="14.8" lengthAdjust="spacingAndGlyphs" stroke="#000" stroke-width="0.3">10</text>
<text x="251.5" y="567.1" font-size="12.4" font-weight="normal" text-anchor="end" fill="#000" textLength="18.8" lengthAdjust="spacingAndGlyphs" stroke="#000" stroke-width="0.3">-10</text>
<text x="224.3" y="591.7" font-size="14" font-weight="normal" text-anchor="start" fill="#000" textLength="129" lengthAdjust="spacingAndGlyphs" transform="rotate(-90 224.3 591.7)" stroke="#000" stroke-width="0.25">% of CD56dimCD94+</text>
<text x="224.3" y="452.8" font-size="14" font-weight="normal" text-anchor="start" fill="#000" textLength="48.8" lengthAdjust="spacingAndGlyphs" transform="rotate(-90 224.3 452.8)" stroke="#000" stroke-width="0.25">NK cells</text>
<line x1="274.5" y1="440.5" x2="274.5" y2="454.4" stroke="#000" stroke-width="1.45" />
<line x1="274.5" y1="490" x2="274.5" y2="498.7" stroke="#000" stroke-width="1.45" />
<rect x="269.75" y="454.4" width="9.5" height="35.6" fill="#fff" stroke="#000" stroke-width="1.45"/>
<line x1="269.75" y1="466.8" x2="279.25" y2="466.8" stroke="#000" stroke-width="1.45" />
<circle cx="274.2" cy="430.5" r="3.05" fill="#000"/>
<circle cx="274.2" cy="433" r="3.05" fill="#000"/>
<circle cx="274.2" cy="505" r="3.05" fill="#000"/>
<circle cx="274.2" cy="530" r="3.05" fill="#000"/>
<line x1="287" y1="445" x2="287" y2="449.2" stroke="#000" stroke-width="1.45" />
<line x1="287" y1="507" x2="287" y2="520" stroke="#000" stroke-width="1.45" />
<rect x="282.25" y="449.2" width="9.5" height="57.8" fill="#fff" stroke="#000" stroke-width="1.45"/>
<line x1="282.25" y1="469.5" x2="291.75" y2="469.5" stroke="#000" stroke-width="1.45" />
<circle cx="286.7" cy="431.2" r="3.05" fill="#000"/>
<circle cx="286.7" cy="441.4" r="3.05" fill="#000"/>
<circle cx="286.7" cy="523" r="3.05" fill="#000"/>
<line x1="299.6" y1="447.5" x2="299.6" y2="462.8" stroke="#000" stroke-width="1.45" />
<line x1="299.6" y1="509.2" x2="299.6" y2="526" stroke="#000" stroke-width="1.45" />
<rect x="294.85" y="462.8" width="9.5" height="46.4" fill="#fff" stroke="#000" stroke-width="1.45"/>
<line x1="294.85" y1="496.4" x2="304.35" y2="496.4" stroke="#000" stroke-width="1.45" />
<circle cx="299.3" cy="432.7" r="3.05" fill="#000"/>
<circle cx="299.3" cy="444" r="3.05" fill="#000"/>
<circle cx="299.3" cy="528" r="3.05" fill="#000"/>
<circle cx="299.3" cy="540" r="3.05" fill="#000"/>
<line x1="311.6" y1="438.7" x2="311.6" y2="463.7" stroke="#000" stroke-width="1.45" />
<line x1="311.6" y1="497.2" x2="311.6" y2="507.5" stroke="#000" stroke-width="1.45" />
<rect x="306.85" y="463.7" width="9.5" height="33.5" fill="#fff" stroke="#000" stroke-width="1.45"/>
<line x1="306.85" y1="483.7" x2="316.35" y2="483.7" stroke="#000" stroke-width="1.45" />
<circle cx="311.3" cy="432.3" r="3.05" fill="#000"/>
<circle cx="311.3" cy="437.7" r="3.05" fill="#000"/>
<circle cx="311.3" cy="508.7" r="3.05" fill="#000"/>
<circle cx="311.3" cy="525.5" r="3.05" fill="#000"/>
<line x1="324.1" y1="451" x2="324.1" y2="466" stroke="#000" stroke-width="1.45" />
<line x1="324.1" y1="511" x2="324.1" y2="521" stroke="#000" stroke-width="1.45" />
<rect x="319.35" y="466" width="9.5" height="45" fill="#fff" stroke="#000" stroke-width="1.45"/>
<line x1="319.35" y1="480.6" x2="328.85" y2="480.6" stroke="#000" stroke-width="1.45" />
<circle cx="323.8" cy="445.3" r="3.05" fill="#000"/>
<circle cx="323.8" cy="448" r="3.05" fill="#000"/>
<circle cx="323.8" cy="523.7" r="3.05" fill="#000"/>
<circle cx="323.8" cy="526" r="3.05" fill="#000"/>
<line x1="336.3" y1="447" x2="336.3" y2="463.7" stroke="#000" stroke-width="1.45" />
<line x1="336.3" y1="517.2" x2="336.3" y2="522.5" stroke="#000" stroke-width="1.45" />
<rect x="331.55" y="463.7" width="9.5" height="53.5" fill="#fff" stroke="#000" stroke-width="1.45"/>
<line x1="331.55" y1="496.2" x2="341.05" y2="496.2" stroke="#000" stroke-width="1.45" />
<circle cx="336" cy="440.5" r="3.05" fill="#000"/>
<circle cx="336" cy="442.5" r="3.05" fill="#000"/>
<circle cx="336" cy="523.7" r="3.05" fill="#000"/>
<circle cx="336" cy="530" r="3.05" fill="#000"/>
<line x1="348.7" y1="451.2" x2="348.7" y2="463.7" stroke="#000" stroke-width="1.45" />
<line x1="348.7" y1="509.2" x2="348.7" y2="528" stroke="#000" stroke-width="1.45" />
<rect x="343.95" y="463.7" width="9.5" height="45.5" fill="#fff" stroke="#000" stroke-width="1.45"/>
<line x1="343.95" y1="480.6" x2="353.45" y2="480.6" stroke="#000" stroke-width="1.45" />
<circle cx="348.4" cy="443.7" r="3.05" fill="#000"/>
<circle cx="348.4" cy="447" r="3.05" fill="#000"/>
<circle cx="348.4" cy="530" r="3.05" fill="#000"/>
<circle cx="348.4" cy="534.5" r="3.05" fill="#000"/>
<line x1="360.6" y1="451.5" x2="360.6" y2="455.5" stroke="#000" stroke-width="1.45" />
<line x1="360.6" y1="498" x2="360.6" y2="512.5" stroke="#000" stroke-width="1.45" />
<rect x="355.85" y="455.5" width="9.5" height="42.5" fill="#fff" stroke="#000" stroke-width="1.45"/>
<line x1="355.85" y1="473.2" x2="365.35" y2="473.2" stroke="#000" stroke-width="1.45" />
<circle cx="360.3" cy="442" r="3.05" fill="#000"/>
<circle cx="360.3" cy="450.5" r="3.05" fill="#000"/>
<circle cx="360.3" cy="514.7" r="3.05" fill="#000"/>
<circle cx="360.3" cy="545.5" r="3.05" fill="#000"/>
<line x1="372.7" y1="445" x2="372.7" y2="463" stroke="#000" stroke-width="1.45" />
<line x1="372.7" y1="500.3" x2="372.7" y2="518.7" stroke="#000" stroke-width="1.45" />
<rect x="367.95" y="463" width="9.5" height="37.3" fill="#fff" stroke="#000" stroke-width="1.45"/>
<line x1="367.95" y1="479.5" x2="377.45" y2="479.5" stroke="#000" stroke-width="1.45" />
<circle cx="372.4" cy="438.7" r="3.05" fill="#000"/>
<circle cx="372.4" cy="442.5" r="3.05" fill="#000"/>
<circle cx="372.4" cy="521.2" r="3.05" fill="#000"/>
<circle cx="372.4" cy="525.5" r="3.05" fill="#000"/>
<line x1="401.2" y1="498.7" x2="401.2" y2="516.7" stroke="#000" stroke-width="1.45" />
<line x1="401.2" y1="541.7" x2="401.2" y2="547" stroke="#000" stroke-width="1.45" />
<rect x="396.45" y="516.7" width="9.5" height="25" fill="#fff" stroke="#000" stroke-width="1.45"/>
<line x1="396.45" y1="535.5" x2="405.95" y2="535.5" stroke="#000" stroke-width="1.45" />
<circle cx="400.9" cy="465" r="3.05" fill="#000"/>
<circle cx="400.9" cy="491.5" r="3.05" fill="#000"/>
<circle cx="400.9" cy="549.7" r="3.05" fill="#000"/>
<line x1="413.3" y1="478.7" x2="413.3" y2="486" stroke="#000" stroke-width="1.45" />
<line x1="413.3" y1="545.5" x2="413.3" y2="547" stroke="#000" stroke-width="1.45" />
<rect x="408.55" y="486" width="9.5" height="59.5" fill="#fff" stroke="#000" stroke-width="1.45"/>
<line x1="408.55" y1="531.2" x2="418.05" y2="531.2" stroke="#000" stroke-width="1.45" />
<circle cx="413" cy="465" r="3.05" fill="#000"/>
<circle cx="413" cy="475.6" r="3.05" fill="#000"/>
<circle cx="413" cy="549.7" r="3.05" fill="#000"/>
<line x1="426.2" y1="466" x2="426.2" y2="495.5" stroke="#000" stroke-width="1.45" />
<line x1="426.2" y1="541.7" x2="426.2" y2="547" stroke="#000" stroke-width="1.45" />
<rect x="421.45" y="495.5" width="9.5" height="46.2" fill="#fff" stroke="#000" stroke-width="1.45"/>
<line x1="421.45" y1="507.5" x2="430.95" y2="507.5" stroke="#000" stroke-width="1.45" />
<circle cx="425.9" cy="447" r="3.05" fill="#000"/>
<circle cx="425.9" cy="464" r="3.05" fill="#000"/>
<circle cx="425.9" cy="549.7" r="3.05" fill="#000"/>
<line x1="438.6" y1="490" x2="438.6" y2="504.2" stroke="#000" stroke-width="1.45" />
<line x1="438.6" y1="539.2" x2="438.6" y2="547" stroke="#000" stroke-width="1.45" />
<rect x="433.85" y="504.2" width="9.5" height="35" fill="#fff" stroke="#000" stroke-width="1.45"/>
<line x1="433.85" y1="515.5" x2="443.35" y2="515.5" stroke="#000" stroke-width="1.45" />
<circle cx="438.3" cy="465" r="3.05" fill="#000"/>
<circle cx="438.3" cy="479.7" r="3.05" fill="#000"/>
<circle cx="438.3" cy="549.7" r="3.05" fill="#000"/>
<line x1="450.8" y1="467.5" x2="450.8" y2="493.7" stroke="#000" stroke-width="1.45" />
<line x1="450.8" y1="540" x2="450.8" y2="547" stroke="#000" stroke-width="1.45" />
<rect x="446.05" y="493.7" width="9.5" height="46.3" fill="#fff" stroke="#000" stroke-width="1.45"/>
<line x1="446.05" y1="523" x2="455.55" y2="523" stroke="#000" stroke-width="1.45" />
<circle cx="450.5" cy="460" r="3.05" fill="#000"/>
<circle cx="450.5" cy="465" r="3.05" fill="#000"/>
<circle cx="450.5" cy="549.7" r="3.05" fill="#000"/>
<line x1="463.1" y1="470" x2="463.1" y2="478.7" stroke="#000" stroke-width="1.45" />
<line x1="463.1" y1="539.2" x2="463.1" y2="547" stroke="#000" stroke-width="1.45" />
<rect x="458.35" y="478.7" width="9.5" height="60.5" fill="#fff" stroke="#000" stroke-width="1.45"/>
<line x1="458.35" y1="520" x2="467.85" y2="520" stroke="#000" stroke-width="1.45" />
<circle cx="462.8" cy="462.5" r="3.05" fill="#000"/>
<circle cx="462.8" cy="467.5" r="3.05" fill="#000"/>
<circle cx="462.8" cy="549.7" r="3.05" fill="#000"/>
<line x1="475.6" y1="462.5" x2="475.6" y2="493.7" stroke="#000" stroke-width="1.45" />
<line x1="475.6" y1="533" x2="475.6" y2="547" stroke="#000" stroke-width="1.45" />
<rect x="470.85" y="493.7" width="9.5" height="39.3" fill="#fff" stroke="#000" stroke-width="1.45"/>
<line x1="470.85" y1="520.7" x2="480.35" y2="520.7" stroke="#000" stroke-width="1.45" />
<circle cx="475.3" cy="449.5" r="3.05" fill="#000"/>
<circle cx="475.3" cy="455" r="3.05" fill="#000"/>
<circle cx="475.3" cy="549.7" r="3.05" fill="#000"/>
<line x1="487.7" y1="485.5" x2="487.7" y2="503" stroke="#000" stroke-width="1.45" />
<line x1="487.7" y1="541.7" x2="487.7" y2="547" stroke="#000" stroke-width="1.45" />
<rect x="482.95" y="503" width="9.5" height="38.7" fill="#fff" stroke="#000" stroke-width="1.45"/>
<line x1="482.95" y1="537" x2="492.45" y2="537" stroke="#000" stroke-width="1.45" />
<circle cx="487.4" cy="441" r="3.05" fill="#000"/>
<circle cx="487.4" cy="472.2" r="3.05" fill="#000"/>
<circle cx="487.4" cy="549.7" r="3.05" fill="#000"/>
<line x1="499.6" y1="470.7" x2="499.6" y2="499" stroke="#000" stroke-width="1.45" />
<line x1="499.6" y1="532.5" x2="499.6" y2="547" stroke="#000" stroke-width="1.45" />
<rect x="494.85" y="499" width="9.5" height="33.5" fill="#fff" stroke="#000" stroke-width="1.45"/>
<line x1="494.85" y1="515.7" x2="504.35" y2="515.7" stroke="#000" stroke-width="1.45" />
<circle cx="499.3" cy="460" r="3.05" fill="#000"/>
<circle cx="499.3" cy="464" r="3.05" fill="#000"/>
<circle cx="499.3" cy="549.7" r="3.05" fill="#000"/>
<line x1="270.5" y1="545.7" x2="302.5" y2="545.7" stroke="#000" stroke-width="1.3" />
<text x="285" y="548" font-size="15.5" font-weight="bold" text-anchor="middle" fill="#000" font-family="'DejaVu Sans', sans-serif">*</text>
<line x1="396.2" y1="450" x2="428.7" y2="450" stroke="#000" stroke-width="1.3" />
<text x="412.5" y="453" font-size="15.5" font-weight="bold" text-anchor="middle" fill="#000" font-family="'DejaVu Sans', sans-serif">*</text>
<text x="293.5" y="410.5" font-size="15" font-weight="normal" text-anchor="start" fill="#000" textLength="46.5" lengthAdjust="spacingAndGlyphs" stroke="#000" stroke-width="0.3">NKG2A</text>
<text x="339.5" y="406.3" font-size="9.5" font-weight="normal" text-anchor="start" fill="#000" textLength="5.5" lengthAdjust="spacingAndGlyphs" stroke="#000" stroke-width="0.3">+</text>
<text x="431.6" y="410.5" font-size="15" font-weight="normal" text-anchor="start" fill="#000" textLength="45.4" lengthAdjust="spacingAndGlyphs" stroke="#000" stroke-width="0.3">NKG2C</text>
<text x="476.4" y="406.3" font-size="9.5" font-weight="normal" text-anchor="start" fill="#000" textLength="5.2" lengthAdjust="spacingAndGlyphs" stroke="#000" stroke-width="0.3">+</text>
<text x="272" y="584.5" font-size="13.5" font-weight="normal" text-anchor="start" fill="#000" transform="rotate(-52 272 584.5)" stroke="#000" stroke-width="0.3">≤2</text>
<line x1="283.3" y1="580.5" x2="362.7" y2="580.5" stroke="#000" stroke-width="1.5" />
<polyline points="355.7,576 362.7,580.5 355.7,585" fill="none" stroke="#000" stroke-width="1.5"/>
<text x="367" y="591.5" font-size="13.5" font-weight="normal" text-anchor="start" fill="#000" transform="rotate(-52 367 591.5)" stroke="#000" stroke-width="0.3">≥40</text>
<text x="400" y="584.5" font-size="13.5" font-weight="normal" text-anchor="start" fill="#000" transform="rotate(-52 400 584.5)" stroke="#000" stroke-width="0.3">≤2</text>
<line x1="409.5" y1="580.5" x2="495" y2="580.5" stroke="#000" stroke-width="1.5" />
<polyline points="488,576 495,580.5 488,585" fill="none" stroke="#000" stroke-width="1.5"/>
<text x="497" y="591.5" font-size="13.5" font-weight="normal" text-anchor="start" fill="#000" transform="rotate(-52 497 591.5)" stroke="#000" stroke-width="0.3">≥40</text>
<text x="326" y="608.8" font-size="14.3" font-weight="normal" text-anchor="start" fill="#000" textLength="67.5" lengthAdjust="spacingAndGlyphs" stroke="#000" stroke-width="0.3">Age group</text>
<text x="400" y="608.8" font-size="14.3" font-weight="normal" text-anchor="start" fill="#000" textLength="45" lengthAdjust="spacingAndGlyphs" stroke="#000" stroke-width="0.3">(years)</text>
</g>
</svg>
</body></html>
